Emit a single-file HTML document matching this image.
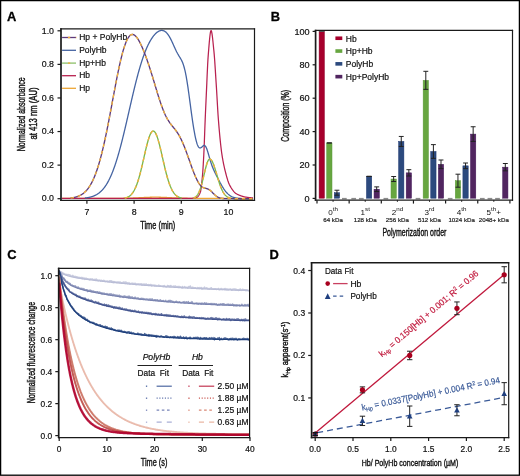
<!DOCTYPE html><html><head><meta charset="utf-8"><style>html,body{margin:0;padding:0;background:#fff}svg{display:block;will-change:transform}text{font-family:"Liberation Sans",sans-serif}</style></head><body>
<svg width="520" height="476" viewBox="0 0 520 476">
<rect x="0" y="0" width="520" height="476" fill="#fff"/>
<g fill="none" stroke-linejoin="round">
<path d="M61.88 198.36L62.16 198.36L62.43 198.36L62.7 198.36L62.98 198.36L63.25 198.36L63.52 198.36L63.8 198.36L64.07 198.36L64.35 198.36L64.62 198.36L64.89 198.36L65.17 198.36L65.44 198.36L65.71 198.36L65.99 198.36L66.26 198.36L66.53 198.36L66.81 198.36L67.08 198.36L67.35 198.36L67.63 198.36L67.9 198.36L68.17 198.36L68.45 198.36L68.72 198.36L68.99 198.36L69.27 198.36L69.54 198.36L69.81 198.36L70.09 198.36L70.36 198.36L70.64 198.36L70.91 198.36L71.18 198.36L71.46 198.36L71.73 198.36L72 198.36L72.28 198.36L72.55 198.36L72.82 198.36L73.1 198.36L73.37 198.36L73.64 198.36L73.92 198.36L74.19 198.36L74.46 198.36L74.74 198.36L75.01 198.36L75.28 198.36L75.56 198.36L75.83 198.36L76.1 198.36L76.38 198.36L76.65 198.36L76.93 198.36L77.2 198.36L77.47 198.36L77.75 198.36L78.02 198.36L78.29 198.36L78.57 198.36L78.84 198.36L79.11 198.36L79.39 198.36L79.66 198.36L79.93 198.36L80.21 198.36L80.48 198.36L80.75 198.36L81.03 198.36L81.3 198.36L81.57 198.36L81.85 198.36L82.12 198.36L82.39 198.36L82.67 198.36L82.94 198.36L83.22 198.36L83.49 198.36L83.76 198.36L84.04 198.36L84.31 198.36L84.58 198.36L84.86 198.36L85.13 198.36L85.4 198.36L85.68 198.36L85.95 198.36L86.22 198.36L86.5 198.36L86.77 198.36L87.04 198.36L87.32 198.36L87.59 198.36L87.86 198.36L88.14 198.36L88.41 198.36L88.68 198.36L88.96 198.36L89.23 198.36L89.51 198.36L89.78 198.36L90.05 198.36L90.33 198.36L90.6 198.36L90.87 198.36L91.15 198.36L91.42 198.36L91.69 198.36L91.97 198.36L92.24 198.36L92.51 198.36L92.79 198.36L93.06 198.36L93.33 198.36L93.61 198.36L93.88 198.36L94.15 198.36L94.43 198.36L94.7 198.36L94.97 198.36L95.25 198.36L95.52 198.36L95.8 198.36L96.07 198.36L96.34 198.36L96.62 198.36L96.89 198.36L97.16 198.36L97.44 198.36L97.71 198.36L97.98 198.36L98.26 198.36L98.53 198.36L98.8 198.36L99.08 198.36L99.35 198.36L99.62 198.36L99.9 198.36L100.17 198.36L100.44 198.36L100.72 198.36L100.99 198.36L101.26 198.36L101.54 198.36L101.81 198.36L102.09 198.36L102.36 198.36L102.63 198.36L102.91 198.36L103.18 198.36L103.45 198.36L103.73 198.36L104 198.36L104.27 198.36L104.55 198.36L104.82 198.36L105.09 198.36L105.37 198.36L105.64 198.36L105.91 198.36L106.19 198.36L106.46 198.36L106.73 198.36L107.01 198.36L107.28 198.36L107.55 198.36L107.83 198.36L108.1 198.36L108.37 198.36L108.65 198.36L108.92 198.36L109.2 198.36L109.47 198.36L109.74 198.36L110.02 198.36L110.29 198.36L110.56 198.36L110.84 198.36L111.11 198.36L111.38 198.35L111.66 198.35L111.93 198.35L112.2 198.35L112.48 198.35L112.75 198.35L113.02 198.35L113.3 198.35L113.57 198.35L113.84 198.35L114.12 198.35L114.39 198.35L114.66 198.35L114.94 198.34L115.21 198.34L115.49 198.34L115.76 198.34L116.03 198.34L116.31 198.34L116.58 198.34L116.85 198.33L117.13 198.33L117.4 198.33L117.67 198.33L117.95 198.33L118.22 198.33L118.49 198.32L118.77 198.32L119.04 198.32L119.31 198.32L119.59 198.32L119.86 198.31L120.13 198.31L120.41 198.31L120.68 198.31L120.95 198.3L121.23 198.3L121.5 198.3L121.78 198.29L122.05 198.29L122.32 198.29L122.6 198.28L122.87 198.28L123.14 198.28L123.42 198.27L123.69 198.27L123.96 198.26L124.24 198.26L124.51 198.25L124.78 198.25L125.06 198.24L125.33 198.24L125.6 198.23L125.88 198.23L126.15 198.22L126.42 198.22L126.7 198.21L126.97 198.21L127.24 198.2L127.52 198.19L127.79 198.19L128.07 198.18L128.34 198.17L128.61 198.17L128.89 198.16L129.16 198.15L129.43 198.14L129.71 198.14L129.98 198.13L130.25 198.12L130.53 198.11L130.8 198.1L131.07 198.09L131.35 198.08L131.62 198.08L131.89 198.07L132.17 198.06L132.44 198.05L132.71 198.04L132.99 198.03L133.26 198.02L133.53 198.01L133.81 197.99L134.08 197.98L134.36 197.97L134.63 197.96L134.9 197.95L135.18 197.94L135.45 197.93L135.72 197.91L136 197.9L136.27 197.89L136.54 197.88L136.82 197.86L137.09 197.85L137.36 197.84L137.64 197.83L137.91 197.81L138.18 197.8L138.46 197.79L138.73 197.77L139 197.76L139.28 197.75L139.55 197.73L139.82 197.72L140.1 197.71L140.37 197.69L140.65 197.68L140.92 197.66L141.19 197.65L141.47 197.64L141.74 197.62L142.01 197.61L142.29 197.6L142.56 197.58L142.83 197.57L143.11 197.55L143.38 197.54L143.65 197.53L143.93 197.51L144.2 197.5L144.47 197.49L144.75 197.48L145.02 197.46L145.29 197.45L145.57 197.44L145.84 197.43L146.11 197.41L146.39 197.4L146.66 197.39L146.94 197.38L147.21 197.37L147.48 197.36L147.76 197.35L148.03 197.34L148.3 197.33L148.58 197.32L148.85 197.31L149.12 197.3L149.4 197.29L149.67 197.28L149.94 197.27L150.22 197.26L150.49 197.26L150.76 197.25L151.04 197.24L151.31 197.24L151.58 197.23L151.86 197.22L152.13 197.22L152.4 197.21L152.68 197.21L152.95 197.21L153.23 197.2L153.5 197.2L153.77 197.2L154.05 197.19L154.32 197.19L154.59 197.19L154.87 197.19L155.14 197.19L155.41 197.19L155.69 197.19L155.96 197.19L156.23 197.19L156.51 197.19L156.78 197.19L157.05 197.2L157.33 197.2L157.6 197.2L157.87 197.21L158.15 197.21L158.42 197.22L158.69 197.22L158.97 197.23L159.24 197.23L159.52 197.24L159.79 197.25L160.06 197.25L160.34 197.26L160.61 197.27L160.88 197.28L161.16 197.28L161.43 197.29L161.7 197.3L161.98 197.31L162.25 197.32L162.52 197.33L162.8 197.34L163.07 197.35L163.34 197.36L163.62 197.37L163.89 197.38L164.16 197.4L164.44 197.41L164.71 197.42L164.98 197.43L165.26 197.44L165.53 197.46L165.81 197.47L166.08 197.48L166.35 197.5L166.63 197.51L166.9 197.52L167.17 197.54L167.45 197.55L167.72 197.56L167.99 197.58L168.27 197.59L168.54 197.6L168.81 197.62L169.09 197.63L169.36 197.64L169.63 197.66L169.91 197.67L170.18 197.69L170.45 197.7L170.73 197.71L171 197.73L171.27 197.74L171.55 197.75L171.82 197.77L172.09 197.78L172.37 197.79L172.64 197.81L172.92 197.82L173.19 197.83L173.46 197.85L173.74 197.86L174.01 197.87L174.28 197.88L174.56 197.9L174.83 197.91L175.1 197.92L175.38 197.93L175.65 197.94L175.92 197.96L176.2 197.97L176.47 197.98L176.74 197.99L177.02 198L177.29 198.01L177.56 198.02L177.84 198.03L178.11 198.04L178.38 198.05L178.66 198.06L178.93 198.07L179.21 198.08L179.48 198.09L179.75 198.1L180.03 198.11L180.3 198.12L180.57 198.12L180.85 198.13L181.12 198.14L181.39 198.15L181.67 198.16L181.94 198.16L182.21 198.17L182.49 198.18L182.76 198.18L183.03 198.19L183.31 198.2L183.58 198.2L183.85 198.21L184.13 198.22L184.4 198.22L184.67 198.23L184.95 198.23L185.22 198.24L185.5 198.24L185.77 198.25L186.04 198.25L186.32 198.26L186.59 198.26L186.86 198.27L187.14 198.27L187.41 198.27L187.68 198.28L187.96 198.28L188.23 198.29L188.5 198.29L188.78 198.29L189.05 198.3L189.32 198.3L189.6 198.3L189.87 198.3L190.14 198.31L190.42 198.31L190.69 198.31L190.96 198.31L191.24 198.32L191.51 198.32L191.79 198.32L192.06 198.32L192.33 198.33L192.61 198.33L192.88 198.33L193.15 198.33L193.43 198.33L193.7 198.33L193.97 198.34L194.25 198.34L194.52 198.34L194.79 198.34L195.07 198.34L195.34 198.34L195.61 198.34L195.89 198.34L196.16 198.35L196.43 198.35L196.71 198.35L196.98 198.35L197.25 198.35L197.53 198.35L197.8 198.35L198.08 198.35L198.35 198.35L198.62 198.35L198.9 198.35L199.17 198.35L199.44 198.36L199.72 198.36L199.99 198.36L200.26 198.36L200.54 198.36L200.81 198.36L201.08 198.36L201.36 198.36L201.63 198.36L201.9 198.36L202.18 198.36L202.45 198.36L202.72 198.36L203 198.36L203.27 198.36L203.54 198.36L203.82 198.36L204.09 198.36L204.37 198.36L204.64 198.36L204.91 198.36L205.19 198.36L205.46 198.36L205.73 198.36L206.01 198.36L206.28 198.36L206.55 198.36L206.83 198.36L207.1 198.36L207.37 198.36L207.65 198.36L207.92 198.36L208.19 198.36L208.47 198.36L208.74 198.36L209.01 198.36L209.29 198.36L209.56 198.36L209.83 198.36L210.11 198.36L210.38 198.36L210.66 198.36L210.93 198.36L211.2 198.36L211.48 198.36L211.75 198.36L212.02 198.36L212.3 198.36L212.57 198.36L212.84 198.36L213.12 198.36L213.39 198.36L213.66 198.36L213.94 198.36L214.21 198.36L214.48 198.36L214.76 198.36L215.03 198.36L215.3 198.36L215.58 198.36L215.85 198.36L216.12 198.36L216.4 198.36L216.67 198.36L216.95 198.36L217.22 198.36L217.49 198.36L217.77 198.36L218.04 198.36L218.31 198.36L218.59 198.36L218.86 198.36L219.13 198.36L219.41 198.36L219.68 198.36L219.95 198.36L220.23 198.36L220.5 198.36L220.77 198.36L221.05 198.36L221.32 198.36L221.59 198.36L221.87 198.36L222.14 198.36L222.41 198.36L222.69 198.36L222.96 198.36L223.24 198.36L223.51 198.36L223.78 198.36L224.06 198.36L224.33 198.36L224.6 198.36L224.88 198.36L225.15 198.36L225.42 198.36L225.7 198.36L225.97 198.36L226.24 198.36L226.52 198.36L226.79 198.36L227.06 198.36L227.34 198.36L227.61 198.36L227.88 198.36L228.16 198.36L228.43 198.36L228.7 198.36L228.98 198.36L229.25 198.36L229.53 198.36L229.8 198.36L230.07 198.36L230.35 198.36L230.62 198.36L230.89 198.36L231.17 198.36L231.44 198.36L231.71 198.36L231.99 198.36L232.26 198.36L232.53 198.36L232.81 198.36L233.08 198.36L233.35 198.36L233.63 198.36L233.9 198.36L234.17 198.36L234.45 198.36L234.72 198.36L234.99 198.36L235.27 198.36L235.54 198.36L235.81 198.36L236.09 198.36L236.36 198.36L236.64 198.36L236.91 198.36L237.18 198.36L237.46 198.36L237.73 198.36L238 198.36L238.28 198.36L238.55 198.36L238.82 198.36L239.1 198.36L239.37 198.36L239.64 198.36L239.92 198.36L240.19 198.36L240.46 198.36L240.74 198.36L241.01 198.36L241.28 198.36L241.56 198.36L241.83 198.36L242.1 198.36L242.38 198.36L242.65 198.36L242.93 198.36L243.2 198.36L243.47 198.36L243.75 198.36L244.02 198.36L244.29 198.36L244.57 198.36L244.84 198.36L245.11 198.36L245.39 198.36L245.66 198.36L245.93 198.36L246.21 198.36L246.48 198.36L246.75 198.36L247.03 198.36L247.3 198.36L247.57 198.36L247.85 198.36L248.12 198.36L248.39 198.36L248.67 198.36L248.94 198.36L249.22 198.36L249.49 198.36L249.76 198.36L250.04 198.36L250.31 198.36L250.58 198.36L250.86 198.36L251.13 198.36L251.4 198.36L251.68 198.36L251.95 198.36L252.22 198.36L252.5 198.36L252.77 198.36L253.04 198.36" stroke="#eea634" stroke-width="1.3"/>
<path d="M61.88 198.45L62.16 198.45L62.43 198.45L62.7 198.45L62.98 198.45L63.25 198.45L63.52 198.45L63.8 198.45L64.07 198.45L64.35 198.45L64.62 198.45L64.89 198.45L65.17 198.45L65.44 198.45L65.71 198.45L65.99 198.45L66.26 198.45L66.53 198.45L66.81 198.45L67.08 198.45L67.35 198.45L67.63 198.45L67.9 198.45L68.17 198.45L68.45 198.45L68.72 198.45L68.99 198.45L69.27 198.45L69.54 198.45L69.81 198.45L70.09 198.45L70.36 198.45L70.64 198.45L70.91 198.45L71.18 198.45L71.46 198.45L71.73 198.45L72 198.45L72.28 198.45L72.55 198.45L72.82 198.45L73.1 198.45L73.37 198.45L73.64 198.45L73.92 198.45L74.19 198.45L74.46 198.45L74.74 198.45L75.01 198.45L75.28 198.45L75.56 198.45L75.83 198.45L76.1 198.45L76.38 198.45L76.65 198.45L76.93 198.45L77.2 198.45L77.47 198.45L77.75 198.45L78.02 198.45L78.29 198.45L78.57 198.45L78.84 198.45L79.11 198.45L79.39 198.45L79.66 198.45L79.93 198.45L80.21 198.45L80.48 198.45L80.75 198.45L81.03 198.45L81.3 198.45L81.57 198.45L81.85 198.45L82.12 198.45L82.39 198.45L82.67 198.45L82.94 198.45L83.22 198.45L83.49 198.45L83.76 198.45L84.04 198.45L84.31 198.45L84.58 198.45L84.86 198.45L85.13 198.45L85.4 198.45L85.68 198.45L85.95 198.45L86.22 198.45L86.5 198.45L86.77 198.45L87.04 198.45L87.32 198.45L87.59 198.45L87.86 198.45L88.14 198.45L88.41 198.45L88.68 198.45L88.96 198.45L89.23 198.45L89.51 198.45L89.78 198.45L90.05 198.45L90.33 198.45L90.6 198.45L90.87 198.45L91.15 198.45L91.42 198.45L91.69 198.45L91.97 198.45L92.24 198.45L92.51 198.45L92.79 198.45L93.06 198.45L93.33 198.45L93.61 198.45L93.88 198.45L94.15 198.45L94.43 198.45L94.7 198.45L94.97 198.45L95.25 198.45L95.52 198.45L95.8 198.45L96.07 198.45L96.34 198.45L96.62 198.45L96.89 198.45L97.16 198.45L97.44 198.45L97.71 198.45L97.98 198.45L98.26 198.45L98.53 198.45L98.8 198.45L99.08 198.45L99.35 198.45L99.62 198.45L99.9 198.45L100.17 198.45L100.44 198.45L100.72 198.45L100.99 198.45L101.26 198.45L101.54 198.45L101.81 198.45L102.09 198.45L102.36 198.45L102.63 198.45L102.91 198.45L103.18 198.45L103.45 198.45L103.73 198.45L104 198.45L104.27 198.45L104.55 198.45L104.82 198.45L105.09 198.45L105.37 198.45L105.64 198.45L105.91 198.45L106.19 198.45L106.46 198.45L106.73 198.45L107.01 198.45L107.28 198.45L107.55 198.45L107.83 198.45L108.1 198.45L108.37 198.45L108.65 198.45L108.92 198.45L109.2 198.45L109.47 198.45L109.74 198.45L110.02 198.45L110.29 198.45L110.56 198.45L110.84 198.45L111.11 198.45L111.38 198.45L111.66 198.45L111.93 198.45L112.2 198.45L112.48 198.45L112.75 198.45L113.02 198.45L113.3 198.45L113.57 198.45L113.84 198.45L114.12 198.45L114.39 198.45L114.66 198.45L114.94 198.45L115.21 198.45L115.49 198.45L115.76 198.45L116.03 198.45L116.31 198.45L116.58 198.45L116.85 198.45L117.13 198.45L117.4 198.45L117.67 198.45L117.95 198.45L118.22 198.45L118.49 198.45L118.77 198.45L119.04 198.45L119.31 198.45L119.59 198.45L119.86 198.45L120.13 198.45L120.41 198.45L120.68 198.45L120.95 198.45L121.23 198.45L121.5 198.45L121.78 198.45L122.05 198.45L122.32 198.45L122.6 198.45L122.87 198.45L123.14 198.45L123.42 198.45L123.69 198.45L123.96 198.45L124.24 198.45L124.51 198.45L124.78 198.45L125.06 198.45L125.33 198.45L125.6 198.45L125.88 198.45L126.15 198.45L126.42 198.45L126.7 198.45L126.97 198.45L127.24 198.45L127.52 198.45L127.79 198.45L128.07 198.45L128.34 198.45L128.61 198.45L128.89 198.45L129.16 198.45L129.43 198.45L129.71 198.45L129.98 198.45L130.25 198.45L130.53 198.45L130.8 198.45L131.07 198.45L131.35 198.45L131.62 198.45L131.89 198.45L132.17 198.45L132.44 198.45L132.71 198.45L132.99 198.45L133.26 198.45L133.53 198.45L133.81 198.45L134.08 198.45L134.36 198.45L134.63 198.45L134.9 198.45L135.18 198.45L135.45 198.45L135.72 198.45L136 198.45L136.27 198.45L136.54 198.45L136.82 198.45L137.09 198.45L137.36 198.45L137.64 198.45L137.91 198.45L138.18 198.45L138.46 198.45L138.73 198.45L139 198.45L139.28 198.45L139.55 198.45L139.82 198.45L140.1 198.45L140.37 198.45L140.65 198.45L140.92 198.45L141.19 198.45L141.47 198.45L141.74 198.45L142.01 198.45L142.29 198.45L142.56 198.45L142.83 198.45L143.11 198.45L143.38 198.45L143.65 198.45L143.93 198.45L144.2 198.45L144.47 198.45L144.75 198.45L145.02 198.45L145.29 198.45L145.57 198.45L145.84 198.45L146.11 198.45L146.39 198.45L146.66 198.45L146.94 198.45L147.21 198.45L147.48 198.45L147.76 198.45L148.03 198.45L148.3 198.45L148.58 198.45L148.85 198.45L149.12 198.45L149.4 198.45L149.67 198.45L149.94 198.45L150.22 198.45L150.49 198.45L150.76 198.45L151.04 198.45L151.31 198.45L151.58 198.45L151.86 198.45L152.13 198.45L152.4 198.45L152.68 198.45L152.95 198.45L153.23 198.45L153.5 198.45L153.77 198.45L154.05 198.45L154.32 198.45L154.59 198.45L154.87 198.45L155.14 198.45L155.41 198.45L155.69 198.45L155.96 198.45L156.23 198.45L156.51 198.45L156.78 198.45L157.05 198.45L157.33 198.45L157.6 198.45L157.87 198.45L158.15 198.45L158.42 198.45L158.69 198.45L158.97 198.45L159.24 198.45L159.52 198.45L159.79 198.45L160.06 198.45L160.34 198.45L160.61 198.45L160.88 198.45L161.16 198.45L161.43 198.45L161.7 198.45L161.98 198.45L162.25 198.45L162.52 198.45L162.8 198.45L163.07 198.45L163.34 198.45L163.62 198.45L163.89 198.45L164.16 198.45L164.44 198.45L164.71 198.45L164.98 198.45L165.26 198.45L165.53 198.45L165.81 198.45L166.08 198.45L166.35 198.45L166.63 198.45L166.9 198.45L167.17 198.45L167.45 198.45L167.72 198.45L167.99 198.45L168.27 198.45L168.54 198.45L168.81 198.45L169.09 198.45L169.36 198.45L169.63 198.45L169.91 198.45L170.18 198.45L170.45 198.45L170.73 198.45L171 198.45L171.27 198.45L171.55 198.45L171.82 198.45L172.09 198.45L172.37 198.45L172.64 198.45L172.92 198.45L173.19 198.45L173.46 198.45L173.74 198.45L174.01 198.45L174.28 198.45L174.56 198.45L174.83 198.45L175.1 198.45L175.38 198.45L175.65 198.45L175.92 198.45L176.2 198.45L176.47 198.45L176.74 198.45L177.02 198.45L177.29 198.45L177.56 198.45L177.84 198.45L178.11 198.45L178.38 198.45L178.66 198.45L178.93 198.45L179.21 198.45L179.48 198.45L179.75 198.45L180.03 198.45L180.3 198.45L180.57 198.45L180.85 198.45L181.12 198.45L181.39 198.45L181.67 198.45L181.94 198.45L182.21 198.45L182.49 198.45L182.76 198.45L183.03 198.45L183.31 198.44L183.58 198.44L183.85 198.44L184.13 198.44L184.4 198.44L184.67 198.44L184.95 198.44L185.22 198.43L185.5 198.43L185.77 198.43L186.04 198.43L186.32 198.42L186.59 198.42L186.86 198.42L187.14 198.42L187.41 198.41L187.68 198.41L187.96 198.41L188.23 198.4L188.5 198.4L188.78 198.4L189.05 198.39L189.32 198.39L189.6 198.38L189.87 198.38L190.14 198.37L190.42 198.37L190.69 198.37L190.96 198.36L191.24 198.35L191.51 198.34L191.79 198.32L192.06 198.3L192.33 198.27L192.61 198.24L192.88 198.21L193.15 198.17L193.43 198.13L193.7 198.09L193.97 198.04L194.25 197.98L194.52 197.93L194.79 197.87L195.07 197.8L195.34 197.73L195.61 197.66L195.89 197.58L196.16 197.5L196.43 197.42L196.71 197.33L196.98 197.23L197.25 197.1L197.53 196.91L197.8 196.68L198.08 196.4L198.35 196.07L198.62 195.69L198.9 195.26L199.17 194.78L199.44 194.26L199.72 193.68L199.99 193.06L200.26 192.39L200.54 191.53L200.81 190.23L201.08 188.52L201.36 186.48L201.63 184.16L201.9 181.61L202.18 178.9L202.45 176.06L202.72 172.73L203 168.77L203.27 164.3L203.54 159.41L203.82 154.22L204.09 148.24L204.37 141.31L204.64 133.91L204.91 126.53L205.19 119.65L205.46 113.27L205.73 107.09L206.01 101.05L206.28 95.13L206.55 89.12L206.83 82.85L207.1 76.55L207.37 70.47L207.65 64.84L207.92 59.89L208.19 55.86L208.47 52.4L208.74 48.95L209.01 45.6L209.29 42.4L209.56 39.44L209.83 36.78L210.11 34.5L210.38 32.68L210.66 31.37L210.93 30.66L211.2 30.61L211.48 31.18L211.75 32.28L212.02 33.85L212.3 35.8L212.57 38.06L212.84 40.55L213.12 43.21L213.39 45.94L213.66 48.69L213.94 51.38L214.21 54.39L214.48 57.81L214.76 61.57L215.03 65.59L215.3 69.79L215.58 74.1L215.85 78.42L216.12 82.69L216.4 86.94L216.67 91.48L216.95 96.22L217.22 101.04L217.49 105.81L217.77 110.41L218.04 114.71L218.31 118.58L218.59 122.03L218.86 125.35L219.13 128.58L219.41 131.7L219.68 134.71L219.95 137.61L220.23 140.38L220.5 143.03L220.77 145.54L221.05 147.91L221.32 150.13L221.59 152.21L221.87 154.13L222.14 155.91L222.41 157.61L222.69 159.23L222.96 160.76L223.24 162.22L223.51 163.62L223.78 164.95L224.06 166.23L224.33 167.45L224.6 168.63L224.88 169.76L225.15 170.86L225.42 171.93L225.7 172.99L225.97 174.03L226.24 175.06L226.52 176.07L226.79 177.05L227.06 178.01L227.34 178.94L227.61 179.83L227.88 180.69L228.16 181.51L228.43 182.28L228.7 183.01L228.98 183.69L229.25 184.32L229.53 184.89L229.8 185.4L230.07 185.9L230.35 186.39L230.62 186.86L230.89 187.33L231.17 187.78L231.44 188.22L231.71 188.65L231.99 189.07L232.26 189.47L232.53 189.86L232.81 190.24L233.08 190.6L233.35 190.95L233.63 191.29L233.9 191.61L234.17 191.91L234.45 192.2L234.72 192.47L234.99 192.73L235.27 192.97L235.54 193.2L235.81 193.4L236.09 193.6L236.36 193.77L236.64 193.92L236.91 194.07L237.18 194.21L237.46 194.35L237.73 194.49L238 194.62L238.28 194.75L238.55 194.87L238.82 195L239.1 195.11L239.37 195.23L239.64 195.34L239.92 195.45L240.19 195.56L240.46 195.66L240.74 195.76L241.01 195.86L241.28 195.96L241.56 196.05L241.83 196.14L242.1 196.22L242.38 196.3L242.65 196.38L242.93 196.46L243.2 196.54L243.47 196.61L243.75 196.68L244.02 196.74L244.29 196.8L244.57 196.86L244.84 196.92L245.11 196.98L245.39 197.03L245.66 197.08L245.93 197.13L246.21 197.17L246.48 197.21L246.75 197.25L247.03 197.29L247.3 197.33L247.57 197.36L247.85 197.4L248.12 197.43L248.39 197.47L248.67 197.5L248.94 197.54L249.22 197.57L249.49 197.6L249.76 197.64L250.04 197.67L250.31 197.7L250.58 197.73L250.86 197.76L251.13 197.79L251.4 197.81L251.68 197.84L251.95 197.87L252.22 197.89L252.5 197.92L252.77 197.94L253.04 197.96" stroke="#b8214f" stroke-width="1.25"/>
<path d="M84.86 198.05L85.13 198.02L85.4 197.99L85.68 197.95L85.95 197.92L86.22 197.88L86.5 197.84L86.77 197.8L87.04 197.76L87.32 197.71L87.59 197.67L87.86 197.62L88.14 197.57L88.41 197.52L88.68 197.46L88.96 197.41L89.23 197.35L89.51 197.29L89.78 197.22L90.05 197.16L90.33 197.09L90.6 197.02L90.87 196.94L91.15 196.87L91.42 196.79L91.69 196.7L91.97 196.62L92.24 196.53L92.51 196.44L92.79 196.34L93.06 196.24L93.33 196.14L93.61 196.03L93.88 195.92L94.15 195.81L94.43 195.69L94.7 195.57L94.97 195.44L95.25 195.31L95.52 195.17L95.8 195.03L96.07 194.89L96.34 194.73L96.62 194.58L96.89 194.42L97.16 194.25L97.44 194.08L97.71 193.9L97.98 193.72L98.26 193.53L98.53 193.34L98.8 193.14L99.08 192.93L99.35 192.72L99.62 192.5L99.9 192.27L100.17 192.04L100.44 191.8L100.72 191.55L100.99 191.3L101.26 191.03L101.54 190.76L101.81 190.49L102.09 190.2L102.36 189.91L102.63 189.6L102.91 189.29L103.18 188.98L103.45 188.65L103.73 188.31L104 187.97L104.27 187.61L104.55 187.25L104.82 186.88L105.09 186.5L105.37 186.1L105.64 185.7L105.91 185.29L106.19 184.87L106.46 184.44L106.73 184L107.01 183.54L107.28 183.08L107.55 182.61L107.83 182.12L108.1 181.63L108.37 181.12L108.65 180.6L108.92 180.07L109.2 179.53L109.47 178.98L109.74 178.42L110.02 177.84L110.29 177.26L110.56 176.66L110.84 176.05L111.11 175.43L111.38 174.79L111.66 174.14L111.93 173.49L112.2 172.82L112.48 172.13L112.75 171.44L113.02 170.73L113.3 170.01L113.57 169.28L113.84 168.53L114.12 167.78L114.39 167.01L114.66 166.22L114.94 165.43L115.21 164.62L115.49 163.81L115.76 162.98L116.03 162.13L116.31 161.28L116.58 160.41L116.85 159.53L117.13 158.64L117.4 157.74L117.67 156.83L117.95 155.9L118.22 154.97L118.49 154.02L118.77 153.06L119.04 152.09L119.31 151.11L119.59 150.12L119.86 149.12L120.13 148.11L120.41 147.08L120.68 146.05L120.95 145.01L121.23 143.96L121.5 142.9L121.78 141.83L122.05 140.75L122.32 139.67L122.6 138.57L122.87 137.47L123.14 136.36L123.42 135.25L123.69 134.12L123.96 132.99L124.24 131.85L124.51 130.71L124.78 129.56L125.06 128.4L125.33 127.24L125.6 126.08L125.88 124.91L126.15 123.74L126.42 122.56L126.7 121.38L126.97 120.19L127.24 119L127.52 117.82L127.79 116.62L128.07 115.43L128.34 114.24L128.61 113.04L128.89 111.84L129.16 110.65L129.43 109.45L129.71 108.26L129.98 107.06L130.25 105.87L130.53 104.68L130.8 103.49L131.07 102.3L131.35 101.12L131.62 99.94L131.89 98.76L132.17 97.59L132.44 96.42L132.71 95.25L132.99 94.09L133.26 92.94L133.53 91.79L133.81 90.65L134.08 89.51L134.36 88.38L134.63 87.26L134.9 86.15L135.18 85.04L135.45 83.94L135.72 82.85L136 81.76L136.27 80.69L136.54 79.63L136.82 78.57L137.09 77.52L137.36 76.49L137.64 75.46L137.91 74.44L138.18 73.44L138.46 72.44L138.73 71.46L139 70.48L139.28 69.52L139.55 68.57L139.82 67.63L140.1 66.7L140.37 65.79L140.65 64.88L140.92 63.99L141.19 63.11L141.47 62.24L141.74 61.38L142.01 60.54L142.29 59.71L142.56 58.89L142.83 58.08L143.11 57.29L143.38 56.51L143.65 55.74L143.93 54.98L144.2 54.24L144.47 53.5L144.75 52.78L145.02 52.08L145.29 51.38L145.57 50.7L145.84 50.03L146.11 49.37L146.39 48.73L146.66 48.09L146.94 47.47L147.21 46.86L147.48 46.26L147.76 45.68L148.03 45.1L148.3 44.54L148.58 43.99L148.85 43.45L149.12 42.92L149.4 42.41L149.67 41.9L149.94 41.41L150.22 40.92L150.49 40.45L150.76 39.99L151.04 39.54L151.31 39.1L151.58 38.67L151.86 38.26L152.13 37.85L152.4 37.45L152.68 37.07L152.95 36.69L153.23 36.33L153.5 35.97L153.77 35.63L154.05 35.3L154.32 34.97L154.59 34.66L154.87 34.36L155.14 34.07L155.41 33.79L155.69 33.51L155.96 33.25L156.23 33.01L156.51 32.77L156.78 32.54L157.05 32.32L157.33 32.12L157.6 31.92L157.87 31.74L158.15 31.57L158.42 31.4L158.69 31.25L158.97 31.12L159.24 30.99L159.52 30.88L159.79 30.78L160.06 30.69L160.34 30.61L160.61 30.55L160.88 30.5L161.16 30.46L161.43 30.44L161.7 30.43L161.98 30.43L162.25 30.45L162.52 30.49L162.8 30.53L163.07 30.6L163.34 30.67L163.62 30.77L163.89 30.88L164.16 31L164.44 31.14L164.71 31.3L164.98 31.47L165.26 31.67L165.53 31.87L165.81 32.1L166.08 32.34L166.35 32.6L166.63 32.88L166.9 33.17L167.17 33.48L167.45 33.81L167.72 34.16L167.99 34.53L168.27 34.91L168.54 35.31L168.81 35.73L169.09 36.16L169.36 36.61L169.63 37.08L169.91 37.57L170.18 38.06L170.45 38.58L170.73 39.1L171 39.64L171.27 40.2L171.55 40.76L171.82 41.34L172.09 41.92L172.37 42.51L172.64 43.11L172.92 43.71L173.19 44.32L173.46 44.93L173.74 45.55L174.01 46.16L174.28 46.77L174.56 47.38L174.83 47.98L175.1 48.58L175.38 49.17L175.65 49.75L175.92 50.33L176.2 50.89L176.47 51.44L176.74 51.98L177.02 52.51L177.29 53.02L177.56 53.52L177.84 54.01L178.11 54.49L178.38 54.96L178.66 55.42L178.93 55.87L179.21 56.31L179.48 56.75L179.75 57.2L180.03 57.64L180.3 58.09L180.57 58.55L180.85 59.02L181.12 59.51L181.39 60.02L181.67 60.55L181.94 61.12L182.21 61.72L182.49 62.36L182.76 63.04L183.03 63.76L183.31 64.54L183.58 65.37L183.85 66.26L184.13 67.22L184.4 68.23L184.67 69.31L184.95 70.46L185.22 71.68L185.5 72.96L185.77 74.32L186.04 75.74L186.32 77.23L186.59 78.79L186.86 80.41L187.14 82.09L187.41 83.83L187.68 85.63L187.96 87.47L188.23 89.36L188.5 91.29L188.78 93.25L189.05 95.25L189.32 97.27L189.6 99.3L189.87 101.35L190.14 103.41L190.42 105.46L190.69 107.51L190.96 109.55L191.24 111.57L191.51 113.58L191.79 115.55L192.06 117.5L192.33 119.41L192.61 121.28L192.88 123.1L193.15 124.88L193.43 126.61L193.7 128.29L193.97 129.91L194.25 131.47L194.52 132.97L194.79 134.41L195.07 135.78L195.34 137.09L195.61 138.33L195.89 139.5L196.16 140.6L196.43 141.62L196.71 142.57L196.98 143.44L197.25 144.24L197.53 144.96L197.8 145.6L198.08 146.17L198.35 146.65L198.62 147.06L198.9 147.39L199.17 147.65L199.44 147.83L199.72 147.94L199.99 147.98L200.26 147.97L200.54 147.89L200.81 147.77L201.08 147.6L201.36 147.39L201.63 147.16L201.9 146.91L202.18 146.65L202.45 146.4L202.72 146.15L203 145.93L203.27 145.74L203.54 145.58L203.82 145.48L204.09 145.44L204.37 145.46L204.64 145.55L204.91 145.72L205.19 145.96L205.46 146.28L205.73 146.68L206.01 147.16L206.28 147.71L206.55 148.34L206.83 149.03L207.1 149.78L207.37 150.59L207.65 151.44L207.92 152.33L208.19 153.25L208.47 154.19L208.74 155.15L209.01 156.12L209.29 157.08L209.56 158.04L209.83 158.99L210.11 159.92L210.38 160.83L210.66 161.72L210.93 162.58L211.2 163.42L211.48 164.23L211.75 165.01L212.02 165.76L212.3 166.49L212.57 167.19L212.84 167.87L213.12 168.52L213.39 169.16L213.66 169.78L213.94 170.38L214.21 170.97L214.48 171.55L214.76 172.12L215.03 172.68L215.3 173.24L215.58 173.79L215.85 174.33L216.12 174.87L216.4 175.41L216.67 175.95L216.95 176.49L217.22 177.02L217.49 177.56L217.77 178.09L218.04 178.62L218.31 179.15L218.59 179.68L218.86 180.21L219.13 180.73L219.41 181.25L219.68 181.77L219.95 182.29L220.23 182.8L220.5 183.3L220.77 183.8L221.05 184.3L221.32 184.79L221.59 185.27L221.87 185.75L222.14 186.21L222.41 186.68L222.69 187.13L222.96 187.57L223.24 188.01L223.51 188.43L223.78 188.85L224.06 189.26L224.33 189.66L224.6 190.04L224.88 190.42L225.15 190.79L225.42 191.14L225.7 191.49L225.97 191.83L226.24 192.15L226.52 192.47L226.79 192.77L227.06 193.07L227.34 193.35L227.61 193.62L227.88 193.89L228.16 194.14L228.43 194.38L228.7 194.62L228.98 194.84L229.25 195.06L229.53 195.26L229.8 195.46L230.07 195.65L230.35 195.83L230.62 196L230.89 196.16L231.17 196.31L231.44 196.46L231.71 196.6L231.99 196.73L232.26 196.86L232.53 196.98L232.81 197.09L233.08 197.2L233.35 197.3L233.63 197.39L233.9 197.48L234.17 197.57L234.45 197.65L234.72 197.72L234.99 197.79L235.27 197.86L235.54 197.92L235.81 197.97L236.09 198.03L236.36 198.08L236.64 198.13L236.91 198.17L237.18 198.21L237.46 198.25L237.73 198.28L238 198.32L238.28 198.35L238.55 198.38L238.82 198.4L239.1 198.43L239.37 198.45L239.64 198.47L239.92 198.49L240.19 198.51L240.46 198.52L240.74 198.54L241.01 198.55L241.28 198.57L241.56 198.58L241.83 198.59L242.1 198.6L242.38 198.61L242.65 198.62L242.93 198.62L243.2 198.63L243.47 198.64L243.75 198.64L244.02 198.65L244.29 198.65L244.57 198.66L244.84 198.66L245.11 198.67L245.39 198.67L245.66 198.67L245.93 198.67L246.21 198.68L246.48 198.68L246.75 198.68L247.03 198.68L247.3 198.68L247.57 198.69L247.85 198.69L248.12 198.69L248.39 198.69L248.67 198.69L248.94 198.69L249.22 198.69L249.49 198.69L249.76 198.69L250.04 198.69L250.31 198.7L250.58 198.7L250.86 198.7L251.13 198.7L251.4 198.7L251.68 198.7L251.95 198.7L252.22 198.7L252.5 198.7L252.77 198.7L253.04 198.7" stroke="#4564a2" stroke-width="1.3"/>
<path d="M124.78 198.07L125.06 198.01L125.33 197.95L125.6 197.88L125.88 197.8L126.15 197.72L126.42 197.63L126.7 197.54L126.97 197.44L127.24 197.33L127.52 197.21L127.79 197.09L128.07 196.96L128.34 196.81L128.61 196.66L128.89 196.49L129.16 196.32L129.43 196.13L129.71 195.93L129.98 195.72L130.25 195.49L130.53 195.25L130.8 195L131.07 194.73L131.35 194.44L131.62 194.14L131.89 193.82L132.17 193.48L132.44 193.12L132.71 192.75L132.99 192.35L133.26 191.93L133.53 191.5L133.81 191.04L134.08 190.56L134.36 190.05L134.63 189.52L134.9 188.97L135.18 188.4L135.45 187.8L135.72 187.17L136 186.52L136.27 185.84L136.54 185.14L136.82 184.41L137.09 183.66L137.36 182.88L137.64 182.07L137.91 181.24L138.18 180.38L138.46 179.5L138.73 178.59L139 177.66L139.28 176.7L139.55 175.72L139.82 174.71L140.1 173.69L140.37 172.64L140.65 171.57L140.92 170.48L141.19 169.37L141.47 168.25L141.74 167.11L142.01 165.96L142.29 164.79L142.56 163.61L142.83 162.43L143.11 161.23L143.38 160.03L143.65 158.83L143.93 157.62L144.2 156.41L144.47 155.21L144.75 154.01L145.02 152.81L145.29 151.63L145.57 150.46L145.84 149.3L146.11 148.15L146.39 147.03L146.66 145.92L146.94 144.84L147.21 143.78L147.48 142.75L147.76 141.75L148.03 140.79L148.3 139.85L148.58 138.96L148.85 138.1L149.12 137.28L149.4 136.51L149.67 135.78L149.94 135.1L150.22 134.47L150.49 133.88L150.76 133.35L151.04 132.87L151.31 132.44L151.58 132.07L151.86 131.75L152.13 131.5L152.4 131.29L152.68 131.15L152.95 131.06L153.23 131.04L153.5 131.07L153.77 131.16L154.05 131.31L154.32 131.51L154.59 131.77L154.87 132.09L155.14 132.47L155.41 132.9L155.69 133.38L155.96 133.92L156.23 134.51L156.51 135.14L156.78 135.83L157.05 136.56L157.33 137.34L157.6 138.16L157.87 139.02L158.15 139.91L158.42 140.85L158.69 141.82L158.97 142.82L159.24 143.85L159.52 144.91L159.79 145.99L160.06 147.1L160.34 148.23L160.61 149.37L160.88 150.53L161.16 151.71L161.43 152.89L161.7 154.09L161.98 155.29L162.25 156.49L162.52 157.7L162.8 158.91L163.07 160.11L163.34 161.31L163.62 162.51L163.89 163.69L164.16 164.87L164.44 166.03L164.71 167.19L164.98 168.33L165.26 169.45L165.53 170.55L165.81 171.64L166.08 172.71L166.35 173.76L166.63 174.78L166.9 175.78L167.17 176.76L167.45 177.72L167.72 178.65L167.99 179.56L168.27 180.44L168.54 181.3L168.81 182.13L169.09 182.93L169.36 183.71L169.63 184.46L169.91 185.19L170.18 185.89L170.45 186.56L170.73 187.21L171 187.84L171.27 188.44L171.55 189.01L171.82 189.56L172.09 190.09L172.37 190.59L172.64 191.07L172.92 191.53L173.19 191.96L173.46 192.38L173.74 192.77L174.01 193.15L174.28 193.5L174.56 193.84L174.83 194.16L175.1 194.46L175.38 194.75L175.65 195.02L175.92 195.27L176.2 195.51L176.47 195.73L176.74 195.95L177.02 196.14L177.29 196.33L177.56 196.51L177.84 196.67L178.11 196.82L178.38 196.96L178.66 197.1L178.93 197.22L179.21 197.34L179.48 197.45L179.75 197.55L180.03 197.64L180.3 197.73L180.57 197.81L180.85 197.88L181.12 197.95L181.39 198.01L181.67 198.07" stroke="#7cb84e" stroke-width="1.35"/>
<path d="M124.78 198.07L125.06 198.01L125.33 197.95L125.6 197.88L125.88 197.8L126.15 197.72L126.42 197.63L126.7 197.54L126.97 197.44L127.24 197.33L127.52 197.21L127.79 197.09L128.07 196.96L128.34 196.81L128.61 196.66L128.89 196.49L129.16 196.32L129.43 196.13L129.71 195.93L129.98 195.72L130.25 195.49L130.53 195.25L130.8 195L131.07 194.73L131.35 194.44L131.62 194.14L131.89 193.82L132.17 193.48L132.44 193.12L132.71 192.75L132.99 192.35L133.26 191.93L133.53 191.5L133.81 191.04L134.08 190.56L134.36 190.05L134.63 189.52L134.9 188.97L135.18 188.4L135.45 187.8L135.72 187.17L136 186.52L136.27 185.84L136.54 185.14L136.82 184.41L137.09 183.66L137.36 182.88L137.64 182.07L137.91 181.24L138.18 180.38L138.46 179.5L138.73 178.59L139 177.66L139.28 176.7L139.55 175.72L139.82 174.71L140.1 173.69L140.37 172.64L140.65 171.57L140.92 170.48L141.19 169.37L141.47 168.25L141.74 167.11L142.01 165.96L142.29 164.79L142.56 163.61L142.83 162.43L143.11 161.23L143.38 160.03L143.65 158.83L143.93 157.62L144.2 156.41L144.47 155.21L144.75 154.01L145.02 152.81L145.29 151.63L145.57 150.46L145.84 149.3L146.11 148.15L146.39 147.03L146.66 145.92L146.94 144.84L147.21 143.78L147.48 142.75L147.76 141.75L148.03 140.79L148.3 139.85L148.58 138.96L148.85 138.1L149.12 137.28L149.4 136.51L149.67 135.78L149.94 135.1L150.22 134.47L150.49 133.88L150.76 133.35L151.04 132.87L151.31 132.44L151.58 132.07L151.86 131.75L152.13 131.5L152.4 131.29L152.68 131.15L152.95 131.06L153.23 131.04L153.5 131.07L153.77 131.16L154.05 131.31L154.32 131.51L154.59 131.77L154.87 132.09L155.14 132.47L155.41 132.9L155.69 133.38L155.96 133.92L156.23 134.51L156.51 135.14L156.78 135.83L157.05 136.56L157.33 137.34L157.6 138.16L157.87 139.02L158.15 139.91L158.42 140.85L158.69 141.82L158.97 142.82L159.24 143.85L159.52 144.91L159.79 145.99L160.06 147.1L160.34 148.23L160.61 149.37L160.88 150.53L161.16 151.71L161.43 152.89L161.7 154.09L161.98 155.29L162.25 156.49L162.52 157.7L162.8 158.91L163.07 160.11L163.34 161.31L163.62 162.51L163.89 163.69L164.16 164.87L164.44 166.03L164.71 167.19L164.98 168.33L165.26 169.45L165.53 170.55L165.81 171.64L166.08 172.71L166.35 173.76L166.63 174.78L166.9 175.78L167.17 176.76L167.45 177.72L167.72 178.65L167.99 179.56L168.27 180.44L168.54 181.3L168.81 182.13L169.09 182.93L169.36 183.71L169.63 184.46L169.91 185.19L170.18 185.89L170.45 186.56L170.73 187.21L171 187.84L171.27 188.44L171.55 189.01L171.82 189.56L172.09 190.09L172.37 190.59L172.64 191.07L172.92 191.53L173.19 191.96L173.46 192.38L173.74 192.77L174.01 193.15L174.28 193.5L174.56 193.84L174.83 194.16L175.1 194.46L175.38 194.75L175.65 195.02L175.92 195.27L176.2 195.51L176.47 195.73L176.74 195.95L177.02 196.14L177.29 196.33L177.56 196.51L177.84 196.67L178.11 196.82L178.38 196.96L178.66 197.1L178.93 197.22L179.21 197.34L179.48 197.45L179.75 197.55L180.03 197.64L180.3 197.73L180.57 197.81L180.85 197.88L181.12 197.95L181.39 198.01L181.67 198.07" stroke="#f2b03c" stroke-width="1.35" stroke-dasharray="3.4 3.8"/>
<path d="M193.43 198.06L193.7 197.97L193.97 197.86L194.25 197.74L194.52 197.61L194.79 197.46L195.07 197.3L195.34 197.11L195.61 196.91L195.89 196.69L196.16 196.44L196.43 196.16L196.71 195.86L196.98 195.53L197.25 195.17L197.53 194.78L197.8 194.36L198.08 193.9L198.35 193.41L198.62 192.88L198.9 192.31L199.17 191.7L199.44 191.05L199.72 190.36L199.99 189.63L200.26 188.85L200.54 188.04L200.81 187.18L201.08 186.29L201.36 185.36L201.63 184.39L201.9 183.39L202.18 182.35L202.45 181.29L202.72 180.2L203 179.08L203.27 177.95L203.54 176.81L203.82 175.65L204.09 174.49L204.37 173.33L204.64 172.18L204.91 171.04L205.19 169.92L205.46 168.82L205.73 167.75L206.01 166.72L206.28 165.73L206.55 164.79L206.83 163.91L207.1 163.08L207.37 162.32L207.65 161.63L207.92 161.01L208.19 160.48L208.47 160.02L208.74 159.66L209.01 159.38L209.29 159.19L209.56 159.09L209.83 159.08L210.11 159.14L210.38 159.25L210.66 159.42L210.93 159.65L211.2 159.94L211.48 160.28L211.75 160.68L212.02 161.13L212.3 161.62L212.57 162.17L212.84 162.76L213.12 163.4L213.39 164.07L213.66 164.78L213.94 165.53L214.21 166.31L214.48 167.12L214.76 167.95L215.03 168.81L215.3 169.69L215.58 170.58L215.85 171.48L216.12 172.4L216.4 173.32L216.67 174.25L216.95 175.18L217.22 176.1L217.49 177.03L217.77 177.94L218.04 178.85L218.31 179.75L218.59 180.63L218.86 181.49L219.13 182.34L219.41 183.17L219.68 183.99L219.95 184.77L220.23 185.54L220.5 186.28L220.77 187L221.05 187.7L221.32 188.36L221.59 189L221.87 189.62L222.14 190.21L222.41 190.77L222.69 191.31L222.96 191.82L223.24 192.3L223.51 192.76L223.78 193.2L224.06 193.61L224.33 193.99L224.6 194.36L224.88 194.7L225.15 195.02L225.42 195.32L225.7 195.6L225.97 195.86L226.24 196.1L226.52 196.33L226.79 196.54L227.06 196.73L227.34 196.91L227.61 197.08L227.88 197.23L228.16 197.37L228.43 197.5L228.7 197.61L228.98 197.72L229.25 197.82L229.53 197.91L229.8 197.99L230.07 198.07L230.35 198.13L230.62 198.19L230.89 198.25L231.17 198.3L231.44 198.34L231.71 198.38L231.99 198.42L232.26 198.45L232.53 198.48L232.81 198.51L233.08 198.53L233.35 198.55L233.63 198.57L233.9 198.58L234.17 198.6L234.45 198.61L234.72 198.62L234.99 198.63L235.27 198.64L235.54 198.65L235.81 198.66L236.09 198.66L236.36 198.67L236.64 198.67L236.91 198.68L237.18 198.68L237.46 198.68L237.73 198.68L238 198.69L238.28 198.69L238.55 198.69L238.82 198.69L239.1 198.69L239.37 198.69L239.64 198.69L239.92 198.7L240.19 198.7L240.46 198.7L240.74 198.7L241.01 198.7L241.28 198.7L241.56 198.7L241.83 198.7L242.1 198.7L242.38 198.7L242.65 198.7L242.93 198.7L243.2 198.7L243.47 198.7L243.75 198.7L244.02 198.7L244.29 198.7L244.57 198.7L244.84 198.7L245.11 198.7L245.39 198.7L245.66 198.7L245.93 198.7L246.21 198.7L246.48 198.7L246.75 198.7L247.03 198.7L247.3 198.7L247.57 198.7L247.85 198.7L248.12 198.7L248.39 198.7L248.67 198.7L248.94 198.7L249.22 198.7L249.49 198.7L249.76 198.7L250.04 198.7L250.31 198.7L250.58 198.7L250.86 198.7L251.13 198.7L251.4 198.7L251.68 198.7L251.95 198.7L252.22 198.7L252.5 198.7L252.77 198.7L253.04 198.7" stroke="#7cb84e" stroke-width="1.35"/>
<path d="M193.43 198.06L193.7 197.97L193.97 197.86L194.25 197.74L194.52 197.61L194.79 197.46L195.07 197.3L195.34 197.11L195.61 196.91L195.89 196.69L196.16 196.44L196.43 196.16L196.71 195.86L196.98 195.53L197.25 195.17L197.53 194.78L197.8 194.36L198.08 193.9L198.35 193.41L198.62 192.88L198.9 192.31L199.17 191.7L199.44 191.05L199.72 190.36L199.99 189.63L200.26 188.85L200.54 188.04L200.81 187.18L201.08 186.29L201.36 185.36L201.63 184.39L201.9 183.39L202.18 182.35L202.45 181.29L202.72 180.2L203 179.08L203.27 177.95L203.54 176.81L203.82 175.65L204.09 174.49L204.37 173.33L204.64 172.18L204.91 171.04L205.19 169.92L205.46 168.82L205.73 167.75L206.01 166.72L206.28 165.73L206.55 164.79L206.83 163.91L207.1 163.08L207.37 162.32L207.65 161.63L207.92 161.01L208.19 160.48L208.47 160.02L208.74 159.66L209.01 159.38L209.29 159.19L209.56 159.09L209.83 159.08L210.11 159.14L210.38 159.25L210.66 159.42L210.93 159.65L211.2 159.94L211.48 160.28L211.75 160.68L212.02 161.13L212.3 161.62L212.57 162.17L212.84 162.76L213.12 163.4L213.39 164.07L213.66 164.78L213.94 165.53L214.21 166.31L214.48 167.12L214.76 167.95L215.03 168.81L215.3 169.69L215.58 170.58L215.85 171.48L216.12 172.4L216.4 173.32L216.67 174.25L216.95 175.18L217.22 176.1L217.49 177.03L217.77 177.94L218.04 178.85L218.31 179.75L218.59 180.63L218.86 181.49L219.13 182.34L219.41 183.17L219.68 183.99L219.95 184.77L220.23 185.54L220.5 186.28L220.77 187L221.05 187.7L221.32 188.36L221.59 189L221.87 189.62L222.14 190.21L222.41 190.77L222.69 191.31L222.96 191.82L223.24 192.3L223.51 192.76L223.78 193.2L224.06 193.61L224.33 193.99L224.6 194.36L224.88 194.7L225.15 195.02L225.42 195.32L225.7 195.6L225.97 195.86L226.24 196.1L226.52 196.33L226.79 196.54L227.06 196.73L227.34 196.91L227.61 197.08L227.88 197.23L228.16 197.37L228.43 197.5L228.7 197.61L228.98 197.72L229.25 197.82L229.53 197.91L229.8 197.99L230.07 198.07L230.35 198.13L230.62 198.19L230.89 198.25L231.17 198.3L231.44 198.34L231.71 198.38L231.99 198.42L232.26 198.45L232.53 198.48L232.81 198.51L233.08 198.53L233.35 198.55L233.63 198.57L233.9 198.58L234.17 198.6L234.45 198.61L234.72 198.62L234.99 198.63L235.27 198.64L235.54 198.65L235.81 198.66L236.09 198.66L236.36 198.67L236.64 198.67L236.91 198.68L237.18 198.68L237.46 198.68L237.73 198.68L238 198.69L238.28 198.69L238.55 198.69L238.82 198.69L239.1 198.69L239.37 198.69L239.64 198.69L239.92 198.7L240.19 198.7L240.46 198.7L240.74 198.7L241.01 198.7L241.28 198.7L241.56 198.7L241.83 198.7L242.1 198.7L242.38 198.7L242.65 198.7L242.93 198.7L243.2 198.7L243.47 198.7L243.75 198.7L244.02 198.7L244.29 198.7L244.57 198.7L244.84 198.7L245.11 198.7L245.39 198.7L245.66 198.7L245.93 198.7L246.21 198.7L246.48 198.7L246.75 198.7L247.03 198.7L247.3 198.7L247.57 198.7L247.85 198.7L248.12 198.7L248.39 198.7L248.67 198.7L248.94 198.7L249.22 198.7L249.49 198.7L249.76 198.7L250.04 198.7L250.31 198.7L250.58 198.7L250.86 198.7L251.13 198.7L251.4 198.7L251.68 198.7L251.95 198.7L252.22 198.7L252.5 198.7L252.77 198.7L253.04 198.7" stroke="#f2b03c" stroke-width="1.35" stroke-dasharray="3.4 3.8"/>
<path d="M70.64 198.03L70.91 198L71.18 197.96L71.46 197.93L71.73 197.89L72 197.84L72.28 197.8L72.55 197.76L72.82 197.71L73.1 197.66L73.37 197.61L73.64 197.56L73.92 197.5L74.19 197.44L74.46 197.38L74.74 197.32L75.01 197.26L75.28 197.19L75.56 197.12L75.83 197.04L76.1 196.96L76.38 196.88L76.65 196.8L76.93 196.71L77.2 196.62L77.47 196.53L77.75 196.43L78.02 196.33L78.29 196.22L78.57 196.11L78.84 195.99L79.11 195.88L79.39 195.75L79.66 195.62L79.93 195.49L80.21 195.35L80.48 195.21L80.75 195.06L81.03 194.91L81.3 194.75L81.57 194.58L81.85 194.41L82.12 194.23L82.39 194.05L82.67 193.86L82.94 193.66L83.22 193.45L83.49 193.24L83.76 193.02L84.04 192.8L84.31 192.57L84.58 192.33L84.86 192.08L85.13 191.82L85.4 191.55L85.68 191.28L85.95 191L86.22 190.71L86.5 190.41L86.77 190.1L87.04 189.78L87.32 189.45L87.59 189.11L87.86 188.76L88.14 188.4L88.41 188.03L88.68 187.65L88.96 187.25L89.23 186.85L89.51 186.44L89.78 186.01L90.05 185.57L90.33 185.12L90.6 184.66L90.87 184.18L91.15 183.7L91.42 183.2L91.69 182.68L91.97 182.16L92.24 181.62L92.51 181.06L92.79 180.5L93.06 179.92L93.33 179.32L93.61 178.71L93.88 178.09L94.15 177.45L94.43 176.79L94.7 176.13L94.97 175.44L95.25 174.74L95.52 174.03L95.8 173.3L96.07 172.56L96.34 171.8L96.62 171.02L96.89 170.23L97.16 169.42L97.44 168.59L97.71 167.75L97.98 166.9L98.26 166.02L98.53 165.13L98.8 164.23L99.08 163.31L99.35 162.37L99.62 161.41L99.9 160.44L100.17 159.45L100.44 158.45L100.72 157.43L100.99 156.4L101.26 155.34L101.54 154.28L101.81 153.19L102.09 152.09L102.36 150.98L102.63 149.85L102.91 148.7L103.18 147.54L103.45 146.36L103.73 145.17L104 143.96L104.27 142.74L104.55 141.51L104.82 140.26L105.09 139L105.37 137.73L105.64 136.44L105.91 135.14L106.19 133.82L106.46 132.5L106.73 131.16L107.01 129.81L107.28 128.46L107.55 127.09L107.83 125.71L108.1 124.32L108.37 122.92L108.65 121.51L108.92 120.1L109.2 118.68L109.47 117.25L109.74 115.81L110.02 114.37L110.29 112.92L110.56 111.47L110.84 110.01L111.11 108.55L111.38 107.09L111.66 105.62L111.93 104.15L112.2 102.68L112.48 101.21L112.75 99.74L113.02 98.27L113.3 96.8L113.57 95.34L113.84 93.87L114.12 92.41L114.39 90.96L114.66 89.5L114.94 88.06L115.21 86.62L115.49 85.19L115.76 83.76L116.03 82.34L116.31 80.93L116.58 79.54L116.85 78.15L117.13 76.77L117.4 75.41L117.67 74.05L117.95 72.71L118.22 71.39L118.49 70.08L118.77 68.78L119.04 67.51L119.31 66.24L119.59 65L119.86 63.77L120.13 62.57L120.41 61.38L120.68 60.21L120.95 59.06L121.23 57.93L121.5 56.83L121.78 55.75L122.05 54.69L122.32 53.65L122.6 52.64L122.87 51.65L123.14 50.69L123.42 49.75L123.69 48.84L123.96 47.95L124.24 47.09L124.51 46.26L124.78 45.45L125.06 44.67L125.33 43.92L125.6 43.2L125.88 42.5L126.15 41.84L126.42 41.2L126.7 40.59L126.97 40.01L127.24 39.46L127.52 38.94L127.79 38.45L128.07 37.99L128.34 37.55L128.61 37.15L128.89 36.77L129.16 36.42L129.43 36.11L129.71 35.82L129.98 35.56L130.25 35.32L130.53 35.12L130.8 34.94L131.07 34.8L131.35 34.68L131.62 34.58L131.89 34.52L132.17 34.47L132.44 34.46L132.71 34.47L132.99 34.51L133.26 34.57L133.53 34.66L133.81 34.77L134.08 34.9L134.36 35.06L134.63 35.24L134.9 35.44L135.18 35.67L135.45 35.91L135.72 36.18L136 36.47L136.27 36.78L136.54 37.1L136.82 37.45L137.09 37.81L137.36 38.19L137.64 38.59L137.91 39.01L138.18 39.44L138.46 39.89L138.73 40.35L139 40.83L139.28 41.32L139.55 41.83L139.82 42.35L140.1 42.88L140.37 43.43L140.65 43.99L140.92 44.56L141.19 45.14L141.47 45.73L141.74 46.34L142.01 46.96L142.29 47.58L142.56 48.22L142.83 48.87L143.11 49.52L143.38 50.19L143.65 50.86L143.93 51.55L144.2 52.24L144.47 52.94L144.75 53.65L145.02 54.37L145.29 55.1L145.57 55.83L145.84 56.57L146.11 57.32L146.39 58.08L146.66 58.84L146.94 59.62L147.21 60.39L147.48 61.18L147.76 61.97L148.03 62.77L148.3 63.58L148.58 64.4L148.85 65.22L149.12 66.04L149.4 66.88L149.67 67.71L149.94 68.56L150.22 69.41L150.49 70.27L150.76 71.13L151.04 72L151.31 72.87L151.58 73.75L151.86 74.63L152.13 75.51L152.4 76.41L152.68 77.3L152.95 78.2L153.23 79.1L153.5 80L153.77 80.91L154.05 81.81L154.32 82.72L154.59 83.63L154.87 84.54L155.14 85.45L155.41 86.37L155.69 87.28L155.96 88.19L156.23 89.09L156.51 90L156.78 90.9L157.05 91.8L157.33 92.7L157.6 93.59L157.87 94.48L158.15 95.36L158.42 96.23L158.69 97.1L158.97 97.96L159.24 98.82L159.52 99.67L159.79 100.5L160.06 101.33L160.34 102.15L160.61 102.96L160.88 103.76L161.16 104.55L161.43 105.33L161.7 106.09L161.98 106.84L162.25 107.59L162.52 108.31L162.8 109.03L163.07 109.73L163.34 110.42L163.62 111.09L163.89 111.76L164.16 112.4L164.44 113.04L164.71 113.65L164.98 114.26L165.26 114.85L165.53 115.43L165.81 115.99L166.08 116.54L166.35 117.07L166.63 117.59L166.9 118.1L167.17 118.6L167.45 119.08L167.72 119.55L167.99 120.01L168.27 120.45L168.54 120.89L168.81 121.31L169.09 121.73L169.36 122.13L169.63 122.53L169.91 122.92L170.18 123.3L170.45 123.67L170.73 124.03L171 124.39L171.27 124.75L171.55 125.1L171.82 125.44L172.09 125.78L172.37 126.12L172.64 126.46L172.92 126.8L173.19 127.13L173.46 127.47L173.74 127.8L174.01 128.14L174.28 128.48L174.56 128.82L174.83 129.17L175.1 129.52L175.38 129.88L175.65 130.24L175.92 130.61L176.2 130.98L176.47 131.36L176.74 131.75L177.02 132.15L177.29 132.55L177.56 132.97L177.84 133.39L178.11 133.82L178.38 134.27L178.66 134.72L178.93 135.19L179.21 135.66L179.48 136.15L179.75 136.65L180.03 137.16L180.3 137.68L180.57 138.21L180.85 138.75L181.12 139.31L181.39 139.88L181.67 140.46L181.94 141.05L182.21 141.65L182.49 142.27L182.76 142.89L183.03 143.53L183.31 144.17L183.58 144.83L183.85 145.5L184.13 146.17L184.4 146.86L184.67 147.55L184.95 148.26L185.22 148.97L185.5 149.69L185.77 150.41L186.04 151.15L186.32 151.89L186.59 152.63L186.86 153.38L187.14 154.14L187.41 154.9L187.68 155.66L187.96 156.43L188.23 157.2L188.5 157.97L188.78 158.74L189.05 159.52L189.32 160.29L189.6 161.06L189.87 161.84L190.14 162.61L190.42 163.38L190.69 164.15L190.96 164.91L191.24 165.67L191.51 166.43L191.79 167.18L192.06 167.93L192.33 168.67L192.61 169.41L192.88 170.14L193.15 170.86L193.43 171.57L193.7 172.27L193.97 172.97L194.25 173.65L194.52 174.33L194.79 174.99L195.07 175.65L195.34 176.29L195.61 176.92L195.89 177.53L196.16 178.14L196.43 178.72L196.71 179.3L196.98 179.86L197.25 180.4L197.53 180.92L197.8 181.43L198.08 181.92L198.35 182.4L198.62 182.85L198.9 183.29L199.17 183.7L199.44 184.1L199.72 184.48L199.99 184.83L200.26 185.17L200.54 185.49L200.81 185.78L201.08 186.06L201.36 186.31L201.63 186.55L201.9 186.76L202.18 186.96L202.45 187.14L202.72 187.31L203 187.46L203.27 187.59L203.54 187.71L203.82 187.81L204.09 187.91L204.37 188L204.64 188.08L204.91 188.15L205.19 188.22L205.46 188.28L205.73 188.34L206.01 188.41L206.28 188.48L206.55 188.55L206.83 188.62L207.1 188.71L207.37 188.8L207.65 188.9L207.92 189.01L208.19 189.13L208.47 189.27L208.74 189.41L209.01 189.57L209.29 189.75L209.56 189.93L209.83 190.13L210.11 190.34L210.38 190.56L210.66 190.8L210.93 191.04L211.2 191.3L211.48 191.56L211.75 191.83L212.02 192.1L212.3 192.38L212.57 192.66L212.84 192.95L213.12 193.23L213.39 193.51L213.66 193.79L213.94 194.07L214.21 194.34L214.48 194.61L214.76 194.87L215.03 195.12L215.3 195.37L215.58 195.6L215.85 195.83L216.12 196.05L216.4 196.25L216.67 196.45L216.95 196.63L217.22 196.8L217.49 196.97L217.77 197.12L218.04 197.26L218.31 197.39L218.59 197.52L218.86 197.63L219.13 197.73L219.41 197.83L219.68 197.91L219.95 197.99L220.23 198.06L220.5 198.13L220.77 198.19L221.05 198.24L221.32 198.29L221.59 198.33L221.87 198.37L222.14 198.41L222.41 198.44L222.69 198.47L222.96 198.49L223.24 198.51L223.51 198.53L223.78 198.55L224.06 198.57L224.33 198.58L224.6 198.59L224.88 198.6L225.15 198.61L225.42 198.62L225.7 198.63L225.97 198.64L226.24 198.64L226.52 198.65L226.79 198.65L227.06 198.66L227.34 198.66L227.61 198.66L227.88 198.67L228.16 198.67L228.43 198.67L228.7 198.68L228.98 198.68L229.25 198.68L229.53 198.68L229.8 198.68L230.07 198.68L230.35 198.69L230.62 198.69L230.89 198.69L231.17 198.69L231.44 198.69L231.71 198.69L231.99 198.69L232.26 198.69L232.53 198.69L232.81 198.69L233.08 198.69L233.35 198.69L233.63 198.7L233.9 198.7L234.17 198.7L234.45 198.7L234.72 198.7L234.99 198.7L235.27 198.7L235.54 198.7L235.81 198.7L236.09 198.7L236.36 198.7L236.64 198.7L236.91 198.7L237.18 198.7L237.46 198.7L237.73 198.7L238 198.7L238.28 198.7L238.55 198.7L238.82 198.7L239.1 198.7L239.37 198.7L239.64 198.7L239.92 198.7L240.19 198.7L240.46 198.7L240.74 198.7L241.01 198.7L241.28 198.7L241.56 198.7L241.83 198.7L242.1 198.7L242.38 198.7L242.65 198.7L242.93 198.7L243.2 198.7L243.47 198.7L243.75 198.7L244.02 198.7L244.29 198.7L244.57 198.7L244.84 198.7L245.11 198.7L245.39 198.7L245.66 198.7L245.93 198.7L246.21 198.7L246.48 198.7L246.75 198.7L247.03 198.7L247.3 198.7L247.57 198.7L247.85 198.7L248.12 198.7L248.39 198.7L248.67 198.7L248.94 198.7L249.22 198.7L249.49 198.7L249.76 198.7L250.04 198.7L250.31 198.7L250.58 198.7L250.86 198.7L251.13 198.7L251.4 198.7L251.68 198.7L251.95 198.7L252.22 198.7L252.5 198.7L252.77 198.7L253.04 198.7" stroke="#5d3b7d" stroke-width="1.35"/>
<path d="M70.64 198.03L70.91 198L71.18 197.96L71.46 197.93L71.73 197.89L72 197.84L72.28 197.8L72.55 197.76L72.82 197.71L73.1 197.66L73.37 197.61L73.64 197.56L73.92 197.5L74.19 197.44L74.46 197.38L74.74 197.32L75.01 197.26L75.28 197.19L75.56 197.12L75.83 197.04L76.1 196.96L76.38 196.88L76.65 196.8L76.93 196.71L77.2 196.62L77.47 196.53L77.75 196.43L78.02 196.33L78.29 196.22L78.57 196.11L78.84 195.99L79.11 195.88L79.39 195.75L79.66 195.62L79.93 195.49L80.21 195.35L80.48 195.21L80.75 195.06L81.03 194.91L81.3 194.75L81.57 194.58L81.85 194.41L82.12 194.23L82.39 194.05L82.67 193.86L82.94 193.66L83.22 193.45L83.49 193.24L83.76 193.02L84.04 192.8L84.31 192.57L84.58 192.33L84.86 192.08L85.13 191.82L85.4 191.55L85.68 191.28L85.95 191L86.22 190.71L86.5 190.41L86.77 190.1L87.04 189.78L87.32 189.45L87.59 189.11L87.86 188.76L88.14 188.4L88.41 188.03L88.68 187.65L88.96 187.25L89.23 186.85L89.51 186.44L89.78 186.01L90.05 185.57L90.33 185.12L90.6 184.66L90.87 184.18L91.15 183.7L91.42 183.2L91.69 182.68L91.97 182.16L92.24 181.62L92.51 181.06L92.79 180.5L93.06 179.92L93.33 179.32L93.61 178.71L93.88 178.09L94.15 177.45L94.43 176.79L94.7 176.13L94.97 175.44L95.25 174.74L95.52 174.03L95.8 173.3L96.07 172.56L96.34 171.8L96.62 171.02L96.89 170.23L97.16 169.42L97.44 168.59L97.71 167.75L97.98 166.9L98.26 166.02L98.53 165.13L98.8 164.23L99.08 163.31L99.35 162.37L99.62 161.41L99.9 160.44L100.17 159.45L100.44 158.45L100.72 157.43L100.99 156.4L101.26 155.34L101.54 154.28L101.81 153.19L102.09 152.09L102.36 150.98L102.63 149.85L102.91 148.7L103.18 147.54L103.45 146.36L103.73 145.17L104 143.96L104.27 142.74L104.55 141.51L104.82 140.26L105.09 139L105.37 137.73L105.64 136.44L105.91 135.14L106.19 133.82L106.46 132.5L106.73 131.16L107.01 129.81L107.28 128.46L107.55 127.09L107.83 125.71L108.1 124.32L108.37 122.92L108.65 121.51L108.92 120.1L109.2 118.68L109.47 117.25L109.74 115.81L110.02 114.37L110.29 112.92L110.56 111.47L110.84 110.01L111.11 108.55L111.38 107.09L111.66 105.62L111.93 104.15L112.2 102.68L112.48 101.21L112.75 99.74L113.02 98.27L113.3 96.8L113.57 95.34L113.84 93.87L114.12 92.41L114.39 90.96L114.66 89.5L114.94 88.06L115.21 86.62L115.49 85.19L115.76 83.76L116.03 82.34L116.31 80.93L116.58 79.54L116.85 78.15L117.13 76.77L117.4 75.41L117.67 74.05L117.95 72.71L118.22 71.39L118.49 70.08L118.77 68.78L119.04 67.51L119.31 66.24L119.59 65L119.86 63.77L120.13 62.57L120.41 61.38L120.68 60.21L120.95 59.06L121.23 57.93L121.5 56.83L121.78 55.75L122.05 54.69L122.32 53.65L122.6 52.64L122.87 51.65L123.14 50.69L123.42 49.75L123.69 48.84L123.96 47.95L124.24 47.09L124.51 46.26L124.78 45.45L125.06 44.67L125.33 43.92L125.6 43.2L125.88 42.5L126.15 41.84L126.42 41.2L126.7 40.59L126.97 40.01L127.24 39.46L127.52 38.94L127.79 38.45L128.07 37.99L128.34 37.55L128.61 37.15L128.89 36.77L129.16 36.42L129.43 36.11L129.71 35.82L129.98 35.56L130.25 35.32L130.53 35.12L130.8 34.94L131.07 34.8L131.35 34.68L131.62 34.58L131.89 34.52L132.17 34.47L132.44 34.46L132.71 34.47L132.99 34.51L133.26 34.57L133.53 34.66L133.81 34.77L134.08 34.9L134.36 35.06L134.63 35.24L134.9 35.44L135.18 35.67L135.45 35.91L135.72 36.18L136 36.47L136.27 36.78L136.54 37.1L136.82 37.45L137.09 37.81L137.36 38.19L137.64 38.59L137.91 39.01L138.18 39.44L138.46 39.89L138.73 40.35L139 40.83L139.28 41.32L139.55 41.83L139.82 42.35L140.1 42.88L140.37 43.43L140.65 43.99L140.92 44.56L141.19 45.14L141.47 45.73L141.74 46.34L142.01 46.96L142.29 47.58L142.56 48.22L142.83 48.87L143.11 49.52L143.38 50.19L143.65 50.86L143.93 51.55L144.2 52.24L144.47 52.94L144.75 53.65L145.02 54.37L145.29 55.1L145.57 55.83L145.84 56.57L146.11 57.32L146.39 58.08L146.66 58.84L146.94 59.62L147.21 60.39L147.48 61.18L147.76 61.97L148.03 62.77L148.3 63.58L148.58 64.4L148.85 65.22L149.12 66.04L149.4 66.88L149.67 67.71L149.94 68.56L150.22 69.41L150.49 70.27L150.76 71.13L151.04 72L151.31 72.87L151.58 73.75L151.86 74.63L152.13 75.51L152.4 76.41L152.68 77.3L152.95 78.2L153.23 79.1L153.5 80L153.77 80.91L154.05 81.81L154.32 82.72L154.59 83.63L154.87 84.54L155.14 85.45L155.41 86.37L155.69 87.28L155.96 88.19L156.23 89.09L156.51 90L156.78 90.9L157.05 91.8L157.33 92.7L157.6 93.59L157.87 94.48L158.15 95.36L158.42 96.23L158.69 97.1L158.97 97.96L159.24 98.82L159.52 99.67L159.79 100.5L160.06 101.33L160.34 102.15L160.61 102.96L160.88 103.76L161.16 104.55L161.43 105.33L161.7 106.09L161.98 106.84L162.25 107.59L162.52 108.31L162.8 109.03L163.07 109.73L163.34 110.42L163.62 111.09L163.89 111.76L164.16 112.4L164.44 113.04L164.71 113.65L164.98 114.26L165.26 114.85L165.53 115.43L165.81 115.99L166.08 116.54L166.35 117.07L166.63 117.59L166.9 118.1L167.17 118.6L167.45 119.08L167.72 119.55L167.99 120.01L168.27 120.45L168.54 120.89L168.81 121.31L169.09 121.73L169.36 122.13L169.63 122.53L169.91 122.92L170.18 123.3L170.45 123.67L170.73 124.03L171 124.39L171.27 124.75L171.55 125.1L171.82 125.44L172.09 125.78L172.37 126.12L172.64 126.46L172.92 126.8L173.19 127.13L173.46 127.47L173.74 127.8L174.01 128.14L174.28 128.48L174.56 128.82L174.83 129.17L175.1 129.52L175.38 129.88L175.65 130.24L175.92 130.61L176.2 130.98L176.47 131.36L176.74 131.75L177.02 132.15L177.29 132.55L177.56 132.97L177.84 133.39L178.11 133.82L178.38 134.27L178.66 134.72L178.93 135.19L179.21 135.66L179.48 136.15L179.75 136.65L180.03 137.16L180.3 137.68L180.57 138.21L180.85 138.75L181.12 139.31L181.39 139.88L181.67 140.46L181.94 141.05L182.21 141.65L182.49 142.27L182.76 142.89L183.03 143.53L183.31 144.17L183.58 144.83L183.85 145.5L184.13 146.17L184.4 146.86L184.67 147.55L184.95 148.26L185.22 148.97L185.5 149.69L185.77 150.41L186.04 151.15L186.32 151.89L186.59 152.63L186.86 153.38L187.14 154.14L187.41 154.9L187.68 155.66L187.96 156.43L188.23 157.2L188.5 157.97L188.78 158.74L189.05 159.52L189.32 160.29L189.6 161.06L189.87 161.84L190.14 162.61L190.42 163.38L190.69 164.15L190.96 164.91L191.24 165.67L191.51 166.43L191.79 167.18L192.06 167.93L192.33 168.67L192.61 169.41L192.88 170.14L193.15 170.86L193.43 171.57L193.7 172.27L193.97 172.97L194.25 173.65L194.52 174.33L194.79 174.99L195.07 175.65L195.34 176.29L195.61 176.92L195.89 177.53L196.16 178.14L196.43 178.72L196.71 179.3L196.98 179.86L197.25 180.4L197.53 180.92L197.8 181.43L198.08 181.92L198.35 182.4L198.62 182.85L198.9 183.29L199.17 183.7L199.44 184.1L199.72 184.48L199.99 184.83L200.26 185.17L200.54 185.49L200.81 185.78L201.08 186.06L201.36 186.31L201.63 186.55L201.9 186.76L202.18 186.96L202.45 187.14L202.72 187.31L203 187.46L203.27 187.59L203.54 187.71L203.82 187.81L204.09 187.91L204.37 188L204.64 188.08L204.91 188.15L205.19 188.22L205.46 188.28L205.73 188.34L206.01 188.41L206.28 188.48L206.55 188.55L206.83 188.62L207.1 188.71L207.37 188.8L207.65 188.9L207.92 189.01L208.19 189.13L208.47 189.27L208.74 189.41L209.01 189.57L209.29 189.75L209.56 189.93L209.83 190.13L210.11 190.34L210.38 190.56L210.66 190.8L210.93 191.04L211.2 191.3L211.48 191.56L211.75 191.83L212.02 192.1L212.3 192.38L212.57 192.66L212.84 192.95L213.12 193.23L213.39 193.51L213.66 193.79L213.94 194.07L214.21 194.34L214.48 194.61L214.76 194.87L215.03 195.12L215.3 195.37L215.58 195.6L215.85 195.83L216.12 196.05L216.4 196.25L216.67 196.45L216.95 196.63L217.22 196.8L217.49 196.97L217.77 197.12L218.04 197.26L218.31 197.39L218.59 197.52L218.86 197.63L219.13 197.73L219.41 197.83L219.68 197.91L219.95 197.99L220.23 198.06L220.5 198.13L220.77 198.19L221.05 198.24L221.32 198.29L221.59 198.33L221.87 198.37L222.14 198.41L222.41 198.44L222.69 198.47L222.96 198.49L223.24 198.51L223.51 198.53L223.78 198.55L224.06 198.57L224.33 198.58L224.6 198.59L224.88 198.6L225.15 198.61L225.42 198.62L225.7 198.63L225.97 198.64L226.24 198.64L226.52 198.65L226.79 198.65L227.06 198.66L227.34 198.66L227.61 198.66L227.88 198.67L228.16 198.67L228.43 198.67L228.7 198.68L228.98 198.68L229.25 198.68L229.53 198.68L229.8 198.68L230.07 198.68L230.35 198.69L230.62 198.69L230.89 198.69L231.17 198.69L231.44 198.69L231.71 198.69L231.99 198.69L232.26 198.69L232.53 198.69L232.81 198.69L233.08 198.69L233.35 198.69L233.63 198.7L233.9 198.7L234.17 198.7L234.45 198.7L234.72 198.7L234.99 198.7L235.27 198.7L235.54 198.7L235.81 198.7L236.09 198.7L236.36 198.7L236.64 198.7L236.91 198.7L237.18 198.7L237.46 198.7L237.73 198.7L238 198.7L238.28 198.7L238.55 198.7L238.82 198.7L239.1 198.7L239.37 198.7L239.64 198.7L239.92 198.7L240.19 198.7L240.46 198.7L240.74 198.7L241.01 198.7L241.28 198.7L241.56 198.7L241.83 198.7L242.1 198.7L242.38 198.7L242.65 198.7L242.93 198.7L243.2 198.7L243.47 198.7L243.75 198.7L244.02 198.7L244.29 198.7L244.57 198.7L244.84 198.7L245.11 198.7L245.39 198.7L245.66 198.7L245.93 198.7L246.21 198.7L246.48 198.7L246.75 198.7L247.03 198.7L247.3 198.7L247.57 198.7L247.85 198.7L248.12 198.7L248.39 198.7L248.67 198.7L248.94 198.7L249.22 198.7L249.49 198.7L249.76 198.7L250.04 198.7L250.31 198.7L250.58 198.7L250.86 198.7L251.13 198.7L251.4 198.7L251.68 198.7L251.95 198.7L252.22 198.7L252.5 198.7L252.77 198.7L253.04 198.7" stroke="#f3b23b" stroke-width="1.35" stroke-dasharray="3.4 3.8"/>
</g>
<g stroke="#1a1a1a" fill="none">
<path d="M61.0 28.349999999999998V200.9" stroke-width="1.7"/>
<path d="M60.2 200.3H255.1" stroke-width="1.3"/>
<path d="M60.2 28.95H255.1" stroke-width="1.3"/>
<path d="M254.5 28.349999999999998V200.9" stroke-width="1.2"/>
<path d="M57.5 198.7H61.0" stroke-width="1.2"/>
<path d="M57.5 165.12H61.0" stroke-width="1.2"/>
<path d="M57.5 131.54H61.0" stroke-width="1.2"/>
<path d="M57.5 97.96H61.0" stroke-width="1.2"/>
<path d="M57.5 64.38H61.0" stroke-width="1.2"/>
<path d="M57.5 30.8H61.0" stroke-width="1.2"/>
<path d="M86.9 200.3V203.8" stroke-width="1.2"/>
<path d="M134.1 200.3V203.8" stroke-width="1.2"/>
<path d="M181.3 200.3V203.8" stroke-width="1.2"/>
<path d="M228.5 200.3V203.8" stroke-width="1.2"/>
</g>
<text x="54" y="201.4" font-size="8.8" text-anchor="end" fill="#111" stroke="#111" stroke-width="0.2" font-weight="normal" font-style="normal" >0.0</text>
<text x="54" y="167.82" font-size="8.8" text-anchor="end" fill="#111" stroke="#111" stroke-width="0.2" font-weight="normal" font-style="normal" >0.2</text>
<text x="54" y="134.24" font-size="8.8" text-anchor="end" fill="#111" stroke="#111" stroke-width="0.2" font-weight="normal" font-style="normal" >0.4</text>
<text x="54" y="100.66" font-size="8.8" text-anchor="end" fill="#111" stroke="#111" stroke-width="0.2" font-weight="normal" font-style="normal" >0.6</text>
<text x="54" y="67.08" font-size="8.8" text-anchor="end" fill="#111" stroke="#111" stroke-width="0.2" font-weight="normal" font-style="normal" >0.8</text>
<text x="54" y="33.5" font-size="8.8" text-anchor="end" fill="#111" stroke="#111" stroke-width="0.2" font-weight="normal" font-style="normal" >1.0</text>
<text x="86.9" y="214.75" font-size="8.8" text-anchor="middle" fill="#111" stroke="#111" stroke-width="0.2" font-weight="normal" font-style="normal" >7</text>
<text x="134.1" y="214.75" font-size="8.8" text-anchor="middle" fill="#111" stroke="#111" stroke-width="0.2" font-weight="normal" font-style="normal" >8</text>
<text x="181.3" y="214.75" font-size="8.8" text-anchor="middle" fill="#111" stroke="#111" stroke-width="0.2" font-weight="normal" font-style="normal" >9</text>
<text x="228.5" y="214.75" font-size="8.8" text-anchor="middle" fill="#111" stroke="#111" stroke-width="0.2" font-weight="normal" font-style="normal" >10</text>
<text x="157.75" y="228.5" font-size="10.4" text-anchor="middle" fill="#111" stroke="#111" stroke-width="0.4" textLength="35" lengthAdjust="spacingAndGlyphs">Time (min)</text>
<g transform="translate(25.1 114.25) rotate(-90)">
<text x="0" y="0" font-size="10.2" text-anchor="middle" fill="#111" stroke="#111" stroke-width="0.4" textLength="74" lengthAdjust="spacingAndGlyphs">Normalized absorbance</text>
</g>
<g transform="translate(36.9 113.5) rotate(-90)">
<text x="0" y="0" font-size="10.2" text-anchor="middle" fill="#111" stroke="#111" stroke-width="0.4" textLength="52.2" lengthAdjust="spacingAndGlyphs">at 413 nm (AU)</text>
</g>
<path d="M62.1 37.5H76" stroke="#5d3b7d" stroke-width="1.3"/>
<path d="M67.9 37.5H70.2M75.8 37.5H76.4" stroke="#f2ae3a" stroke-width="1.3"/>
<text x="79.2" y="40.25" font-size="8.5" text-anchor="start" fill="#111" stroke="#111" stroke-width="0.2" font-weight="normal" font-style="normal" >Hp + PolyHb</text>
<path d="M62.1 50.3H76" stroke="#4564a2" stroke-width="1.3"/>
<text x="79.2" y="53.05" font-size="8.5" text-anchor="start" fill="#111" stroke="#111" stroke-width="0.2" font-weight="normal" font-style="normal" >PolyHb</text>
<path d="M62.1 63.1H76" stroke="#8cc06a" stroke-width="1.3"/>
<path d="M68 63.1H70.2" stroke="#f2ae3a" stroke-width="1.3"/>
<text x="79.2" y="65.85" font-size="8.5" text-anchor="start" fill="#111" stroke="#111" stroke-width="0.2" font-weight="normal" font-style="normal" >Hp+Hb</text>
<path d="M62.1 75.7H76" stroke="#b8214f" stroke-width="1.3"/>
<text x="79.2" y="78.45" font-size="8.5" text-anchor="start" fill="#111" stroke="#111" stroke-width="0.2" font-weight="normal" font-style="normal" >Hb</text>
<path d="M62.1 88.3H76" stroke="#eea634" stroke-width="1.3"/>
<text x="79.2" y="91.05" font-size="8.5" text-anchor="start" fill="#111" stroke="#111" stroke-width="0.2" font-weight="normal" font-style="normal" >Hp</text>
<text x="6.9" y="20.8" font-size="12.9" text-anchor="start" fill="#000" stroke="#000" stroke-width="0.3" font-weight="bold" font-style="normal" >A</text>
<g>
<rect x="319.1" y="31.4" width="5.3" height="166.8" fill="#a6002c" stroke="#90002a" stroke-width="0.5"/>
<path d="M321.75 31.4V31.4M319.3 31.4H324.2M319.3 31.4H324.2" stroke="#555" stroke-width="1" fill="none"/>
<rect x="326.7" y="142.96" width="5.3" height="55.24" fill="#67a640" stroke="#5a9838" stroke-width="0.5"/>
<path d="M329.35 142.96V142.96M326.9 142.96H331.8M326.9 142.96H331.8" stroke="#222" stroke-width="1" fill="none"/>
<rect x="334.3" y="192.72" width="5.3" height="5.48" fill="#2c4a7e" stroke="#1c3670" stroke-width="0.5"/>
<path d="M336.95 190.22V195.23M334.5 190.22H339.4M334.5 195.23H339.4" stroke="#222" stroke-width="1" fill="none"/>
<rect x="342" y="197.9" width="4.7" height="1.5" fill="#8c8c8c"/>
<rect x="351.35" y="197.9" width="4.7" height="1.5" fill="#8c8c8c"/>
<rect x="358.95" y="197.9" width="4.7" height="1.5" fill="#8c8c8c"/>
<rect x="366.45" y="176.36" width="5.3" height="21.84" fill="#2c4a7e" stroke="#1c3670" stroke-width="0.5"/>
<path d="M369.1 176.36V176.36M366.65 176.36H371.55M366.65 176.36H371.55" stroke="#222" stroke-width="1" fill="none"/>
<rect x="374.05" y="189.22" width="5.3" height="8.98" fill="#512560" stroke="#45185a" stroke-width="0.5"/>
<path d="M376.7 186.88V191.55M374.25 186.88H379.15M374.25 191.55H379.15" stroke="#222" stroke-width="1" fill="none"/>
<rect x="383.5" y="197.9" width="4.7" height="1.5" fill="#8c8c8c"/>
<rect x="391" y="179.03" width="5.3" height="19.17" fill="#67a640" stroke="#5a9838" stroke-width="0.5"/>
<path d="M393.65 176.52V181.53M391.2 176.52H396.1M391.2 181.53H396.1" stroke="#222" stroke-width="1" fill="none"/>
<rect x="398.6" y="141.45" width="5.3" height="56.75" fill="#2c4a7e" stroke="#1c3670" stroke-width="0.5"/>
<path d="M401.25 136.44V146.46M398.8 136.44H403.7M398.8 146.46H403.7" stroke="#222" stroke-width="1" fill="none"/>
<rect x="406.2" y="172.85" width="5.3" height="25.35" fill="#512560" stroke="#45185a" stroke-width="0.5"/>
<path d="M408.85 169.68V176.02M406.4 169.68H411.3M406.4 176.02H411.3" stroke="#222" stroke-width="1" fill="none"/>
<rect x="415.65" y="197.9" width="4.7" height="1.5" fill="#8c8c8c"/>
<rect x="423.15" y="80.33" width="5.3" height="117.87" fill="#67a640" stroke="#5a9838" stroke-width="0.5"/>
<path d="M425.8 71.31V89.35M423.35 71.31H428.25M423.35 89.35H428.25" stroke="#222" stroke-width="1" fill="none"/>
<rect x="430.75" y="151.47" width="5.3" height="46.73" fill="#2c4a7e" stroke="#1c3670" stroke-width="0.5"/>
<path d="M433.4 144.63V158.32M430.95 144.63H435.85M430.95 158.32H435.85" stroke="#222" stroke-width="1" fill="none"/>
<rect x="438.35" y="164.33" width="5.3" height="33.87" fill="#512560" stroke="#45185a" stroke-width="0.5"/>
<path d="M441 159.99V168.67M438.55 159.99H443.45M438.55 168.67H443.45" stroke="#222" stroke-width="1" fill="none"/>
<rect x="447.8" y="197.9" width="4.7" height="1.5" fill="#8c8c8c"/>
<rect x="455.3" y="180.7" width="5.3" height="17.5" fill="#67a640" stroke="#5a9838" stroke-width="0.5"/>
<path d="M457.95 174.19V187.21M455.5 174.19H460.4M455.5 187.21H460.4" stroke="#222" stroke-width="1" fill="none"/>
<rect x="462.9" y="165.84" width="5.3" height="32.36" fill="#2c4a7e" stroke="#1c3670" stroke-width="0.5"/>
<path d="M465.55 163V168.67M463.1 163H468M463.1 168.67H468" stroke="#222" stroke-width="1" fill="none"/>
<rect x="470.5" y="134.11" width="5.3" height="64.09" fill="#512560" stroke="#45185a" stroke-width="0.5"/>
<path d="M473.15 126.76V141.45M470.7 126.76H475.6M470.7 141.45H475.6" stroke="#222" stroke-width="1" fill="none"/>
<rect x="479.95" y="197.9" width="4.7" height="1.5" fill="#8c8c8c"/>
<rect x="487.55" y="197.9" width="4.7" height="1.5" fill="#8c8c8c"/>
<rect x="495.15" y="197.9" width="4.7" height="1.5" fill="#8c8c8c"/>
<rect x="502.65" y="167.17" width="5.3" height="31.03" fill="#512560" stroke="#45185a" stroke-width="0.5"/>
<path d="M505.3 163.5V170.84M502.85 163.5H507.75M502.85 170.84H507.75" stroke="#222" stroke-width="1" fill="none"/>
</g>
<g stroke="#1a1a1a" fill="none">
<path d="M315.6 29.799999999999997V200.79999999999998" stroke-width="1.7"/>
<path d="M314.8 200.2H513.1" stroke-width="1.3"/>
<path d="M314.8 30.4H513.1" stroke-width="1.3"/>
<path d="M512.5 29.799999999999997V200.79999999999998" stroke-width="1.2"/>
<path d="M312.6 198.4H315.6" stroke-width="1.2"/>
<path d="M312.6 165H315.6" stroke-width="1.2"/>
<path d="M312.6 131.6H315.6" stroke-width="1.2"/>
<path d="M312.6 98.2H315.6" stroke-width="1.2"/>
<path d="M312.6 64.8H315.6" stroke-width="1.2"/>
<path d="M312.6 31.4H315.6" stroke-width="1.2"/>
<path d="M317 200.2V203.6" stroke-width="1.2"/>
<path d="M333.07 200.2V201.8" stroke-width="1"/>
<path d="M349.15 200.2V203.6" stroke-width="1.2"/>
<path d="M365.22 200.2V201.8" stroke-width="1"/>
<path d="M381.3 200.2V203.6" stroke-width="1.2"/>
<path d="M397.38 200.2V201.8" stroke-width="1"/>
<path d="M413.45 200.2V203.6" stroke-width="1.2"/>
<path d="M429.52 200.2V201.8" stroke-width="1"/>
<path d="M445.6 200.2V203.6" stroke-width="1.2"/>
<path d="M461.68 200.2V201.8" stroke-width="1"/>
<path d="M477.75 200.2V203.6" stroke-width="1.2"/>
<path d="M493.82 200.2V201.8" stroke-width="1"/>
<path d="M509.9 200.2V203.6" stroke-width="1.2"/>
</g>
<text x="309.6" y="201.65" font-size="9.1" text-anchor="end" fill="#111" stroke="#111" stroke-width="0.2" font-weight="normal" font-style="normal" >0</text>
<text x="309.6" y="168.25" font-size="9.1" text-anchor="end" fill="#111" stroke="#111" stroke-width="0.2" font-weight="normal" font-style="normal" >20</text>
<text x="309.6" y="134.85" font-size="9.1" text-anchor="end" fill="#111" stroke="#111" stroke-width="0.2" font-weight="normal" font-style="normal" >40</text>
<text x="309.6" y="101.45" font-size="9.1" text-anchor="end" fill="#111" stroke="#111" stroke-width="0.2" font-weight="normal" font-style="normal" >60</text>
<text x="309.6" y="68.05" font-size="9.1" text-anchor="end" fill="#111" stroke="#111" stroke-width="0.2" font-weight="normal" font-style="normal" >80</text>
<text x="309.6" y="34.65" font-size="9.1" text-anchor="end" fill="#111" stroke="#111" stroke-width="0.2" font-weight="normal" font-style="normal" >100</text>
<text x="333.07" y="214.5" font-size="8.1" text-anchor="middle" fill="#111">0<tspan font-size="6.2" dy="-3.4">th</tspan><tspan dy="3.4"></tspan></text>
<text x="333.07" y="221.9" font-size="6.2" text-anchor="middle" fill="#222" stroke="#222" stroke-width="0.2" font-weight="normal" font-style="normal" >64 kDa</text>
<text x="365.23" y="214.5" font-size="8.1" text-anchor="middle" fill="#111">1<tspan font-size="6.2" dy="-3.4">st</tspan><tspan dy="3.4"></tspan></text>
<text x="365.23" y="221.9" font-size="6.2" text-anchor="middle" fill="#222" stroke="#222" stroke-width="0.2" font-weight="normal" font-style="normal" >128 kDa</text>
<text x="397.38" y="214.5" font-size="8.1" text-anchor="middle" fill="#111">2<tspan font-size="6.2" dy="-3.4">nd</tspan><tspan dy="3.4"></tspan></text>
<text x="397.38" y="221.9" font-size="6.2" text-anchor="middle" fill="#222" stroke="#222" stroke-width="0.2" font-weight="normal" font-style="normal" >256 kDa</text>
<text x="429.52" y="214.5" font-size="8.1" text-anchor="middle" fill="#111">3<tspan font-size="6.2" dy="-3.4">rd</tspan><tspan dy="3.4"></tspan></text>
<text x="429.52" y="221.9" font-size="6.2" text-anchor="middle" fill="#222" stroke="#222" stroke-width="0.2" font-weight="normal" font-style="normal" >512 kDa</text>
<text x="461.67" y="214.5" font-size="8.1" text-anchor="middle" fill="#111">4<tspan font-size="6.2" dy="-3.4">th</tspan><tspan dy="3.4"></tspan></text>
<text x="461.67" y="221.9" font-size="6.2" text-anchor="middle" fill="#222" stroke="#222" stroke-width="0.2" font-weight="normal" font-style="normal" >1024 kDa</text>
<text x="493.82" y="214.5" font-size="8.1" text-anchor="middle" fill="#111">5<tspan font-size="6.2" dy="-3.4">th</tspan><tspan dy="3.4">+</tspan></text>
<text x="493.82" y="221.9" font-size="6.2" text-anchor="middle" fill="#222" stroke="#222" stroke-width="0.2" font-weight="normal" font-style="normal" >2048+ kDa</text>
<text x="414.4" y="235.5" font-size="10.4" text-anchor="middle" fill="#111" stroke="#111" stroke-width="0.4" textLength="64" lengthAdjust="spacingAndGlyphs">Polymerization order</text>
<g transform="translate(288.9 115.8) rotate(-90)">
<text x="0" y="0" font-size="10.6" text-anchor="middle" fill="#111" stroke="#111" stroke-width="0.4" textLength="52" lengthAdjust="spacingAndGlyphs">Composition (%)</text>
</g>
<rect x="335.4" y="36.45" width="6.9" height="3.6" fill="#a6002c"/>
<text x="345.8" y="41.65" font-size="8.5" text-anchor="start" fill="#111" stroke="#111" stroke-width="0.2" font-weight="normal" font-style="normal" >Hb</text>
<rect x="335.4" y="49.25" width="6.9" height="3.6" fill="#67a640"/>
<text x="345.8" y="54.45" font-size="8.5" text-anchor="start" fill="#111" stroke="#111" stroke-width="0.2" font-weight="normal" font-style="normal" >Hp+Hb</text>
<rect x="335.4" y="62.05" width="6.9" height="3.6" fill="#2c4a7e"/>
<text x="345.8" y="67.25" font-size="8.5" text-anchor="start" fill="#111" stroke="#111" stroke-width="0.2" font-weight="normal" font-style="normal" >PolyHb</text>
<rect x="335.4" y="74.85" width="6.9" height="3.6" fill="#512560"/>
<text x="345.8" y="80.05" font-size="8.5" text-anchor="start" fill="#111" stroke="#111" stroke-width="0.2" font-weight="normal" font-style="normal" >Hp+PolyHb</text>
<text x="270.7" y="20.8" font-size="12.9" text-anchor="start" fill="#000" stroke="#000" stroke-width="0.3" font-weight="bold" font-style="normal" >B</text>
<g fill="none" stroke-linejoin="round" stroke-linecap="round">
<path d="M59.2 270.71L59.72 271.27L60.25 271.41L60.77 271.5L61.3 272.04L61.82 272.12L62.35 272.9L62.87 273.76L63.4 273.2L63.92 273.4L64.45 274.13L64.97 274.3L65.5 274.4L66.02 274.13L66.55 274.72L67.07 275.23L67.6 274.49L68.12 275.05L68.64 274.55L69.17 274.98L69.69 274.87L70.22 275.73L70.74 275.4L71.27 276.22L71.79 276.29L72.32 276.26L72.84 275.32L73.37 276.32L73.89 276.65L74.42 276.83L74.94 276.19L75.47 276.76L75.99 276.64L76.52 276.81L77.04 277.74L77.56 276.99L78.09 277.43L78.61 277.93L79.14 277.35L79.66 277.65L80.19 277.83L80.71 277.89L81.24 277.39L81.76 278.06L82.29 278.71L82.81 277.48L83.34 278.64L83.86 278.38L84.39 278.12L84.91 279.38L85.44 278.9L85.96 278.09L86.48 278.73L87.01 279.03L87.53 278.75L88.06 279.22L88.58 278.95L89.11 279.35L89.63 279.76L90.16 278.88L90.68 279.34L91.21 279.11L91.73 279.44L92.26 278.91L92.78 279.25L93.31 279.49L93.83 280.05L94.35 280.22L94.88 279.18L95.4 279.48L95.93 280.19L96.45 279.07L96.98 279.82L97.5 280.04L98.03 280.71L98.55 280.52L99.08 280.12L99.6 280.17L100.13 280.28L100.65 281.14L101.18 280.32L101.7 280.44L102.23 280.79L102.75 280.64L103.27 280.66L103.8 280.31L104.32 280.86L104.85 280.73L105.37 281.51L105.9 281.34L106.42 281.09L106.95 281.46L107.47 281.06L108 281.74L108.52 281.32L109.05 281.64L109.57 280.86L110.1 281.65L110.62 280.79L111.15 280.69L111.67 281.52L112.19 281.31L112.72 281.84L113.24 282.83L113.77 281.5L114.29 281.64L114.82 282.07L115.34 282.25L115.87 282L116.39 282.04L116.92 282.5L117.44 282.47L117.97 281.83L118.49 282.31L119.02 282.41L119.54 281.97L120.07 282.61L120.59 282.16L121.11 283.03L121.64 282.73L122.16 282.74L122.69 282.48L123.21 282.74L123.74 281.95L124.26 282.38L124.79 283.11L125.31 282.03L125.84 283.42L126.36 282.3L126.89 283.48L127.41 282.8L127.94 283.58L128.46 283.34L128.99 282.63L129.51 283.93L130.03 284.07L130.56 283.43L131.08 283.39L131.61 283.48L132.13 283.16L132.66 284.14L133.18 283.45L133.71 283.71L134.23 283.42L134.76 283.54L135.28 283.3L135.81 284.48L136.33 283.89L136.86 284.44L137.38 284.05L137.91 283.78L138.43 283.99L138.95 283.92L139.48 284.22L140 284.09L140.53 284.17L141.05 283.73L141.58 284.03L142.1 285.18L142.63 284.17L143.15 284.04L143.68 284.71L144.2 285.23L144.73 283.98L145.25 284.58L145.78 284.43L146.3 283.97L146.82 285.13L147.35 284.83L147.87 284.91L148.4 284.58L148.92 285.16L149.45 284.76L149.97 284.97L150.5 284.58L151.02 284.57L151.55 285.75L152.07 284.96L152.6 285.36L153.12 285.25L153.65 285.11L154.17 285.12L154.7 285.67L155.22 285.28L155.74 285.39L156.27 285.5L156.79 286.06L157.32 285.87L157.84 285.78L158.37 285.39L158.89 285.05L159.42 286.14L159.94 286.18L160.47 285.72L160.99 286.06L161.52 286.21L162.04 286.26L162.57 286.34L163.09 285.76L163.62 286.68L164.14 285.47L164.66 286.45L165.19 286.32L165.71 286.53L166.24 287.01L166.76 286.87L167.29 285.72L167.81 285.51L168.34 286.67L168.86 285.88L169.39 286.36L169.91 286.78L170.44 285.69L170.96 285.52L171.49 286.62L172.01 286.55L172.54 286.45L173.06 286.61L173.58 286.24L174.11 285.98L174.63 286.62L175.16 286.29L175.68 286.01L176.21 287.01L176.73 286.79L177.26 287.03L177.78 286.43L178.31 286.61L178.83 286.49L179.36 286.57L179.88 287.09L180.41 286.68L180.93 287.22L181.46 287.24L181.98 288.03L182.5 286.52L183.03 287.58L183.55 287.17L184.08 287.23L184.6 286.61L185.13 287.09L185.65 287.66L186.18 287.32L186.7 287.42L187.23 287.28L187.75 287.96L188.28 287.46L188.8 286.5L189.33 287.21L189.85 286.66L190.38 286.11L190.9 287.37L191.42 288.23L191.95 287.68L192.47 287.16L193 287.29L193.52 288.25L194.05 287.84L194.57 287.82L195.1 287.8L195.62 287.86L196.15 288.24L196.67 288.15L197.2 288.02L197.72 287.48L198.25 288.21L198.77 287.69L199.29 288.52L199.82 287.48L200.34 288.02L200.87 288.1L201.39 287.53L201.92 288.93L202.44 288.84L202.97 288L203.49 288.58L204.02 288.42L204.54 287.1L205.07 288.41L205.59 288.3L206.12 288.39L206.64 287.89L207.17 288.28L207.69 288.34L208.21 288.98L208.74 288.62L209.26 288.49L209.79 289.2L210.31 288.29L210.84 288.39L211.36 287.77L211.89 289.31L212.41 289.07L212.94 289.07L213.46 288.98L213.99 288.75L214.51 288.82L215.04 288.63L215.56 288.67L216.09 288.81L216.61 289.49L217.13 289.08L217.66 288.83L218.18 288.62L218.71 288.61L219.23 289.64L219.76 289.17L220.28 288.99L220.81 288.83L221.33 288.51L221.86 289L222.38 289.44L222.91 288.89L223.43 288.99L223.96 289.01L224.48 289.18L225.01 288.43L225.53 289.06L226.05 288.81L226.58 289.61L227.1 288.88L227.63 289.51L228.15 289.96L228.68 289.15L229.2 289.04L229.73 289.42L230.25 289.35L230.78 288.92L231.3 289.6L231.83 290.31L232.35 289.31L232.88 289.35L233.4 288.99L233.93 289.63L234.45 288.94L234.97 289.02L235.5 290.12L236.02 289.15L236.55 290.06L237.07 290.28L237.6 289.73L238.12 289.88L238.65 290.53L239.17 289.58L239.7 289.42L240.22 289.1L240.75 289.74L241.27 290.41L241.8 290.19L242.32 289.35L242.84 289.41L243.37 289.58L243.89 289.96L244.42 289.75L244.94 289.96L245.47 290.01L245.99 289.76L246.52 289.9L247.04 290.02L247.57 289.91L248.09 290.19L248.62 290.82" stroke="#b9bdd6" stroke-width="1.5" opacity="0.8"/>
<path d="M59.2 271.31L59.4 271.47L59.6 271.63L59.8 271.79L60 271.95L60.2 272.09L60.4 272.24L60.6 272.38L60.8 272.52L61 272.65L61.2 272.78L61.4 272.91L61.61 273.04L61.81 273.16L62.01 273.28L62.21 273.39L62.41 273.51L62.61 273.62L62.81 273.72L63.01 273.83L63.21 273.93L63.41 274.03L63.61 274.13L63.81 274.22L64.01 274.32L64.21 274.41L64.41 274.5L64.61 274.58L64.81 274.67L65.01 274.75L65.21 274.84L65.41 274.92L65.61 274.99L65.81 275.07L66.01 275.15L66.21 275.22L66.42 275.29L66.62 275.36L66.82 275.43L67.02 275.5L67.22 275.57L67.42 275.63L67.62 275.7L67.82 275.76L68.02 275.82L68.22 275.88L68.42 275.94L68.62 276L68.82 276.06L69.02 276.12L69.22 276.17L69.42 276.23L69.62 276.28L69.82 276.34L70.02 276.39L70.22 276.44L70.42 276.49L70.62 276.54L70.82 276.59L71.02 276.64L71.23 276.69L71.43 276.74L71.63 276.78L71.83 276.83L72.03 276.87L72.23 276.92L72.43 276.96L72.63 277.01L72.83 277.05L73.03 277.09L73.23 277.14L73.43 277.18L73.63 277.22L73.83 277.26L74.03 277.3L74.23 277.34L74.43 277.38L74.63 277.42L74.83 277.46L75.03 277.5L75.23 277.54L75.43 277.57L75.63 277.61L75.83 277.65L76.04 277.68L76.24 277.72L76.44 277.76L76.64 277.79L76.84 277.83L77.04 277.86L77.24 277.9L77.44 277.93L77.64 277.97L77.84 278L78.04 278.03L78.24 278.07L78.44 278.1L78.64 278.13L78.84 278.17L79.04 278.2L79.24 278.23L79.44 278.26L79.64 278.3L79.84 278.33L80.04 278.36L80.24 278.39L80.44 278.42L80.64 278.45L80.85 278.48L81.05 278.52L81.25 278.55L81.45 278.58L81.65 278.61L81.85 278.64L82.05 278.67L82.25 278.7L82.45 278.73L82.65 278.76L82.85 278.78L83.05 278.81L83.29 278.85L84.12 278.97L84.95 279.09L85.78 279.2L86.62 279.31L87.45 279.43L88.28 279.54L89.11 279.65L89.94 279.75L90.77 279.86L91.61 279.97L92.44 280.07L93.27 280.18L94.1 280.28L94.93 280.38L95.76 280.48L96.6 280.58L97.43 280.68L98.26 280.78L99.09 280.87L99.92 280.97L100.76 281.07L101.59 281.16L102.42 281.26L103.25 281.35L104.08 281.44L104.91 281.53L105.75 281.62L106.58 281.72L107.41 281.81L108.24 281.89L109.07 281.98L109.9 282.07L110.74 282.16L111.57 282.25L112.4 282.33L113.23 282.42L114.06 282.5L114.9 282.59L115.73 282.67L116.56 282.75L117.39 282.83L118.22 282.92L119.05 283L119.89 283.08L120.72 283.16L121.55 283.24L122.38 283.32L123.21 283.4L124.04 283.47L124.88 283.55L125.71 283.63L126.54 283.7L127.37 283.78L128.2 283.85L129.03 283.93L129.87 284L130.7 284.08L131.53 284.15L132.36 284.22L133.19 284.29L134.03 284.36L134.86 284.43L135.69 284.51L136.52 284.57L137.35 284.64L138.18 284.71L139.02 284.78L139.85 284.85L140.68 284.92L141.51 284.98L142.34 285.05L143.17 285.12L144.01 285.18L144.84 285.25L145.67 285.31L146.5 285.37L147.33 285.44L148.17 285.5L149 285.56L149.83 285.63L150.66 285.69L151.49 285.75L152.32 285.81L153.16 285.87L153.99 285.93L154.82 285.99L155.65 286.05L156.48 286.11L157.31 286.17L158.15 286.22L158.98 286.28L159.81 286.34L160.64 286.4L161.47 286.45L162.31 286.51L163.14 286.56L163.97 286.62L164.8 286.67L165.63 286.73L166.46 286.78L167.3 286.84L168.13 286.89L168.96 286.94L169.79 286.99L170.62 287.05L171.45 287.1L172.29 287.15L173.12 287.2L173.95 287.25L174.78 287.3L175.61 287.35L176.44 287.4L177.28 287.45L178.11 287.5L178.94 287.55L179.77 287.59L180.6 287.64L181.44 287.69L182.27 287.74L183.1 287.78L183.93 287.83L184.76 287.87L185.59 287.92L186.43 287.97L187.26 288.01L188.09 288.06L188.92 288.1L189.75 288.14L190.58 288.19L191.42 288.23L192.25 288.27L193.08 288.32L193.91 288.36L194.74 288.4L195.58 288.44L196.41 288.49L197.24 288.53L198.07 288.57L198.9 288.61L199.73 288.65L200.57 288.69L201.4 288.73L202.23 288.77L203.06 288.81L203.89 288.85L204.72 288.89L205.56 288.92L206.39 288.96L207.22 289L208.05 289.04L208.88 289.08L209.72 289.11L210.55 289.15L211.38 289.19L212.21 289.22L213.04 289.26L213.87 289.29L214.71 289.33L215.54 289.37L216.37 289.4L217.2 289.44L218.03 289.47L218.86 289.5L219.7 289.54L220.53 289.57L221.36 289.61L222.19 289.64L223.02 289.67L223.85 289.7L224.69 289.74L225.52 289.77L226.35 289.8L227.18 289.83L228.01 289.87L228.85 289.9L229.68 289.93L230.51 289.96L231.34 289.99L232.17 290.02L233 290.05L233.84 290.08L234.67 290.11L235.5 290.14L236.33 290.17L237.16 290.2L237.99 290.23L238.83 290.26L239.66 290.29L240.49 290.31L241.32 290.34L242.15 290.37L242.99 290.4L243.82 290.43L244.65 290.45L245.48 290.48L246.31 290.51L247.14 290.53L247.98 290.56L248.81 290.59" stroke="#b9bdd6" stroke-width="1.3"/>
<path d="M59.2 271.12L59.72 272.01L60.25 272.28L60.77 274.2L61.3 274.06L61.82 275.16L62.35 276.98L62.87 277.66L63.4 277.98L63.92 277.94L64.45 279.15L64.97 279.59L65.5 280.73L66.02 281.97L66.55 281.54L67.07 281.54L67.6 281.79L68.12 282.7L68.64 283.03L69.17 282.96L69.69 283.87L70.22 283.63L70.74 284.96L71.27 285.24L71.79 285.53L72.32 285.1L72.84 285.81L73.37 285.76L73.89 285.89L74.42 286.14L74.94 285.93L75.47 286.08L75.99 287.29L76.52 287.04L77.04 287.42L77.56 287.96L78.09 286.91L78.61 287.51L79.14 288.11L79.66 288.38L80.19 288.19L80.71 288.98L81.24 288.77L81.76 288.28L82.29 288.55L82.81 289.48L83.34 289.46L83.86 288.54L84.39 290.13L84.91 289.93L85.44 290.4L85.96 289.75L86.48 289.92L87.01 289.67L87.53 291.44L88.06 290.34L88.58 291.25L89.11 290.36L89.63 290.85L90.16 290.14L90.68 290.83L91.21 291.56L91.73 290.66L92.26 291.82L92.78 291.6L93.31 291.08L93.83 291.43L94.35 291.56L94.88 291.85L95.4 291.73L95.93 291.71L96.45 292.04L96.98 291.82L97.5 291.8L98.03 292.46L98.55 292.98L99.08 291.99L99.6 292.78L100.13 292.58L100.65 292.53L101.18 293.45L101.7 292.92L102.23 293.92L102.75 292.99L103.27 293.61L103.8 293.42L104.32 293.28L104.85 293.97L105.37 293.73L105.9 294.16L106.42 293.95L106.95 293.57L107.47 294.1L108 294.26L108.52 294.75L109.05 294L109.57 294.47L110.1 293.8L110.62 294.95L111.15 294.26L111.67 294.01L112.19 294.88L112.72 295.49L113.24 294.38L113.77 294.66L114.29 294.9L114.82 294.8L115.34 295.56L115.87 295.1L116.39 295.22L116.92 295.88L117.44 295.36L117.97 295.97L118.49 295.41L119.02 295.38L119.54 295.18L120.07 296.91L120.59 296.01L121.11 296.33L121.64 296.28L122.16 296.44L122.69 296.46L123.21 297.37L123.74 296.12L124.26 295.95L124.79 296.27L125.31 296.19L125.84 297.2L126.36 297.3L126.89 296.57L127.41 296.44L127.94 296.98L128.46 297.83L128.99 296L129.51 297.57L130.03 296.92L130.56 297.94L131.08 297.05L131.61 297.47L132.13 296.99L132.66 297.29L133.18 298.41L133.71 298.22L134.23 297.74L134.76 297.59L135.28 297.19L135.81 297.93L136.33 298.15L136.86 298.19L137.38 298.24L137.91 297.84L138.43 298.37L138.95 298.45L139.48 299.1L140 299.42L140.53 298.58L141.05 298.35L141.58 298.73L142.1 298.54L142.63 298.53L143.15 298.9L143.68 298.51L144.2 299.31L144.73 299.05L145.25 299.26L145.78 299.12L146.3 298.93L146.82 298.88L147.35 299.26L147.87 299.17L148.4 299.57L148.92 299.52L149.45 298.96L149.97 299.66L150.5 299.07L151.02 299.45L151.55 299.65L152.07 298.9L152.6 299.92L153.12 300L153.65 299.91L154.17 299.84L154.7 299.91L155.22 299.69L155.74 300.05L156.27 299.98L156.79 300.31L157.32 299.78L157.84 300.47L158.37 300.48L158.89 300.4L159.42 300.31L159.94 300.8L160.47 299.85L160.99 300.85L161.52 300.8L162.04 300.86L162.57 300.95L163.09 300.53L163.62 300.75L164.14 301.2L164.66 301.15L165.19 301.09L165.71 300.36L166.24 301.33L166.76 301.65L167.29 301.62L167.81 301.32L168.34 300.55L168.86 301.72L169.39 301.27L169.91 300.24L170.44 301.59L170.96 300.78L171.49 300.91L172.01 301.25L172.54 302.15L173.06 301.45L173.58 301.78L174.11 302.48L174.63 302.45L175.16 301.72L175.68 301.7L176.21 301.28L176.73 301.57L177.26 302.11L177.78 302.14L178.31 302.04L178.83 302.48L179.36 301.72L179.88 302.08L180.41 302.47L180.93 302.44L181.46 302.69L181.98 302.43L182.5 302.14L183.03 302.48L183.55 301.9L184.08 301.65L184.6 302.68L185.13 302.43L185.65 302.63L186.18 301.76L186.7 302.39L187.23 302.32L187.75 302.23L188.28 301.64L188.8 302.54L189.33 303.12L189.85 302.92L190.38 302.51L190.9 302.81L191.42 303.19L191.95 301.64L192.47 302.85L193 303.18L193.52 303.28L194.05 303.77L194.57 303.54L195.1 303.2L195.62 303.23L196.15 303.48L196.67 302.91L197.2 303.16L197.72 303.62L198.25 304.12L198.77 303.2L199.29 303.27L199.82 303.41L200.34 303.96L200.87 303.37L201.39 304.07L201.92 303L202.44 303.38L202.97 303.4L203.49 303.87L204.02 304.02L204.54 302.89L205.07 303.19L205.59 303.78L206.12 303.36L206.64 303L207.17 304.17L207.69 303.95L208.21 303.98L208.74 303.57L209.26 304.27L209.79 303.73L210.31 304.35L210.84 303.47L211.36 303.52L211.89 304.03L212.41 303.64L212.94 304.29L213.46 304.12L213.99 303.62L214.51 304.09L215.04 303.92L215.56 304.51L216.09 303.84L216.61 303.95L217.13 304.72L217.66 305.2L218.18 305.12L218.71 304.27L219.23 304.36L219.76 304.98L220.28 304.25L220.81 303.89L221.33 304.41L221.86 304.58L222.38 304.02L222.91 303.68L223.43 303.79L223.96 304.76L224.48 304.14L225.01 304.44L225.53 304.62L226.05 304.82L226.58 304.41L227.1 304.81L227.63 304.21L228.15 304.46L228.68 304.19L229.2 305.18L229.73 304.67L230.25 304.37L230.78 304.57L231.3 304.65L231.83 305.08L232.35 304.07L232.88 304.34L233.4 304.65L233.93 305.98L234.45 305.29L234.97 304.83L235.5 305.22L236.02 305.84L236.55 304.83L237.07 304.79L237.6 305.52L238.12 305.21L238.65 305.31L239.17 304.8L239.7 305.91L240.22 305.83L240.75 305.33L241.27 305.4L241.8 304.2L242.32 305.42L242.84 305.06L243.37 305.36L243.89 305.49L244.42 305.04L244.94 304.45L245.47 305.39L245.99 304.91L246.52 305.11L247.04 305.01L247.57 305.14L248.09 304.27L248.62 305.87" stroke="#7a84b0" stroke-width="1.5" opacity="0.8"/>
<path d="M59.2 271.45L59.4 271.9L59.6 272.33L59.8 272.74L60 273.15L60.2 273.55L60.4 273.93L60.6 274.31L60.8 274.68L61 275.03L61.2 275.38L61.4 275.72L61.61 276.05L61.81 276.37L62.01 276.68L62.21 276.99L62.41 277.28L62.61 277.57L62.81 277.86L63.01 278.13L63.21 278.4L63.41 278.66L63.61 278.92L63.81 279.17L64.01 279.41L64.21 279.65L64.41 279.88L64.61 280.11L64.81 280.33L65.01 280.54L65.21 280.75L65.41 280.96L65.61 281.16L65.81 281.36L66.01 281.55L66.21 281.74L66.42 281.92L66.62 282.1L66.82 282.27L67.02 282.45L67.22 282.61L67.42 282.78L67.62 282.94L67.82 283.1L68.02 283.25L68.22 283.4L68.42 283.55L68.62 283.69L68.82 283.84L69.02 283.97L69.22 284.11L69.42 284.24L69.62 284.37L69.82 284.5L70.02 284.63L70.22 284.75L70.42 284.87L70.62 284.99L70.82 285.11L71.02 285.22L71.23 285.34L71.43 285.45L71.63 285.56L71.83 285.66L72.03 285.77L72.23 285.87L72.43 285.97L72.63 286.07L72.83 286.17L73.03 286.27L73.23 286.36L73.43 286.45L73.63 286.55L73.83 286.64L74.03 286.73L74.23 286.81L74.43 286.9L74.63 286.98L74.83 287.07L75.03 287.15L75.23 287.23L75.43 287.31L75.63 287.39L75.83 287.47L76.04 287.55L76.24 287.63L76.44 287.7L76.64 287.78L76.84 287.85L77.04 287.92L77.24 287.99L77.44 288.06L77.64 288.13L77.84 288.2L78.04 288.27L78.24 288.34L78.44 288.41L78.64 288.47L78.84 288.54L79.04 288.6L79.24 288.67L79.44 288.73L79.64 288.79L79.84 288.86L80.04 288.92L80.24 288.98L80.44 289.04L80.64 289.1L80.85 289.16L81.05 289.22L81.25 289.27L81.45 289.33L81.65 289.39L81.85 289.45L82.05 289.5L82.25 289.56L82.45 289.61L82.65 289.67L82.85 289.72L83.05 289.78L83.29 289.84L84.12 290.06L84.95 290.27L85.78 290.48L86.62 290.68L87.45 290.88L88.28 291.07L89.11 291.26L89.94 291.44L90.77 291.62L91.61 291.8L92.44 291.97L93.27 292.15L94.1 292.32L94.93 292.48L95.76 292.65L96.6 292.81L97.43 292.97L98.26 293.13L99.09 293.28L99.92 293.43L100.76 293.59L101.59 293.74L102.42 293.88L103.25 294.03L104.08 294.18L104.91 294.32L105.75 294.46L106.58 294.6L107.41 294.74L108.24 294.88L109.07 295.01L109.9 295.15L110.74 295.28L111.57 295.41L112.4 295.54L113.23 295.67L114.06 295.79L114.9 295.92L115.73 296.05L116.56 296.17L117.39 296.29L118.22 296.41L119.05 296.53L119.89 296.65L120.72 296.77L121.55 296.88L122.38 297L123.21 297.11L124.04 297.23L124.88 297.34L125.71 297.45L126.54 297.56L127.37 297.66L128.2 297.77L129.03 297.88L129.87 297.98L130.7 298.09L131.53 298.19L132.36 298.29L133.19 298.39L134.03 298.49L134.86 298.59L135.69 298.69L136.52 298.79L137.35 298.88L138.18 298.98L139.02 299.07L139.85 299.16L140.68 299.26L141.51 299.35L142.34 299.44L143.17 299.53L144.01 299.62L144.84 299.7L145.67 299.79L146.5 299.88L147.33 299.96L148.17 300.05L149 300.13L149.83 300.21L150.66 300.29L151.49 300.37L152.32 300.45L153.16 300.53L153.99 300.61L154.82 300.69L155.65 300.77L156.48 300.84L157.31 300.92L158.15 300.99L158.98 301.07L159.81 301.14L160.64 301.21L161.47 301.29L162.31 301.36L163.14 301.43L163.97 301.5L164.8 301.57L165.63 301.63L166.46 301.7L167.3 301.77L168.13 301.83L168.96 301.9L169.79 301.97L170.62 302.03L171.45 302.09L172.29 302.16L173.12 302.22L173.95 302.28L174.78 302.34L175.61 302.4L176.44 302.46L177.28 302.52L178.11 302.58L178.94 302.64L179.77 302.7L180.6 302.75L181.44 302.81L182.27 302.87L183.1 302.92L183.93 302.98L184.76 303.03L185.59 303.08L186.43 303.14L187.26 303.19L188.09 303.24L188.92 303.29L189.75 303.35L190.58 303.4L191.42 303.45L192.25 303.5L193.08 303.54L193.91 303.59L194.74 303.64L195.58 303.69L196.41 303.74L197.24 303.78L198.07 303.83L198.9 303.88L199.73 303.92L200.57 303.97L201.4 304.01L202.23 304.05L203.06 304.1L203.89 304.14L204.72 304.18L205.56 304.23L206.39 304.27L207.22 304.31L208.05 304.35L208.88 304.39L209.72 304.43L210.55 304.47L211.38 304.51L212.21 304.55L213.04 304.59L213.87 304.63L214.71 304.66L215.54 304.7L216.37 304.74L217.2 304.78L218.03 304.81L218.86 304.85L219.7 304.88L220.53 304.92L221.36 304.95L222.19 304.99L223.02 305.02L223.85 305.06L224.69 305.09L225.52 305.12L226.35 305.16L227.18 305.19L228.01 305.22L228.85 305.25L229.68 305.28L230.51 305.32L231.34 305.35L232.17 305.38L233 305.41L233.84 305.44L234.67 305.47L235.5 305.5L236.33 305.53L237.16 305.56L237.99 305.58L238.83 305.61L239.66 305.64L240.49 305.67L241.32 305.7L242.15 305.72L242.99 305.75L243.82 305.78L244.65 305.8L245.48 305.83L246.31 305.86L247.14 305.88L247.98 305.91L248.81 305.93" stroke="#7a84b0" stroke-width="1.3"/>
<path d="M59.2 270.9L59.72 273.24L60.25 275.42L60.77 276.18L61.3 276.86L61.82 278.65L62.35 279.78L62.87 281.26L63.4 282.6L63.92 282.66L64.45 284.64L64.97 284.66L65.5 286.27L66.02 286.82L66.55 287.42L67.07 288.17L67.6 288.56L68.12 289.09L68.64 289.14L69.17 290.38L69.69 291.69L70.22 292.2L70.74 292.33L71.27 292.45L71.79 292.21L72.32 293.53L72.84 293.2L73.37 293.53L73.89 293.75L74.42 294.23L74.94 294.29L75.47 294.74L75.99 294.56L76.52 295.15L77.04 296.61L77.56 295.8L78.09 295.98L78.61 296.56L79.14 296.88L79.66 296.29L80.19 296.92L80.71 297.65L81.24 297.57L81.76 297.72L82.29 298.57L82.81 297.77L83.34 298.31L83.86 298.24L84.39 299.34L84.91 297.99L85.44 298.75L85.96 299L86.48 299.73L87.01 299.88L87.53 300.42L88.06 299.26L88.58 300.48L89.11 300.19L89.63 300.19L90.16 300.91L90.68 300.42L91.21 300.07L91.73 301L92.26 300.66L92.78 301.2L93.31 301.82L93.83 301.96L94.35 302.69L94.88 302.04L95.4 301.6L95.93 302.1L96.45 302.18L96.98 302.2L97.5 303.09L98.03 302.76L98.55 302.31L99.08 303.66L99.6 303.44L100.13 303.79L100.65 303.82L101.18 304.2L101.7 304.08L102.23 304.75L102.75 304.53L103.27 304.65L103.8 304.8L104.32 304.09L104.85 304.81L105.37 304.9L105.9 305.24L106.42 304.67L106.95 306.14L107.47 305.58L108 305.12L108.52 305.02L109.05 305.79L109.57 306L110.1 305.84L110.62 306.33L111.15 306.12L111.67 306.78L112.19 306.33L112.72 306.76L113.24 307.33L113.77 308.17L114.29 306.67L114.82 307.03L115.34 306.98L115.87 307.83L116.39 307.07L116.92 307.48L117.44 307.8L117.97 307.48L118.49 307.6L119.02 307.92L119.54 307.3L120.07 307.7L120.59 308.27L121.11 308.63L121.64 308.59L122.16 307.98L122.69 308.67L123.21 309.34L123.74 309.33L124.26 309.15L124.79 308.88L125.31 309.67L125.84 309.22L126.36 309.05L126.89 309.31L127.41 310.42L127.94 309.97L128.46 310.48L128.99 309.84L129.51 310.57L130.03 309.97L130.56 310.26L131.08 311.54L131.61 310.86L132.13 310.38L132.66 310.66L133.18 310.93L133.71 311.41L134.23 310.74L134.76 310.26L135.28 311L135.81 311.22L136.33 311.35L136.86 311.97L137.38 311.61L137.91 311.91L138.43 311.13L138.95 312.1L139.48 312.73L140 312.22L140.53 312.06L141.05 312.1L141.58 312.91L142.1 311.77L142.63 312.21L143.15 312.55L143.68 312.75L144.2 312.29L144.73 312.7L145.25 312.51L145.78 312.77L146.3 312.73L146.82 312.34L147.35 312.92L147.87 313.39L148.4 312.64L148.92 313.03L149.45 313.51L149.97 312.8L150.5 313.43L151.02 312.94L151.55 313.99L152.07 314.59L152.6 314.53L153.12 313.58L153.65 314.08L154.17 313.87L154.7 313.92L155.22 314.64L155.74 313.41L156.27 314.54L156.79 314.11L157.32 314.83L157.84 314.34L158.37 314.01L158.89 314.5L159.42 314.77L159.94 314.51L160.47 314.77L160.99 314.38L161.52 313.71L162.04 315.13L162.57 315.1L163.09 314.91L163.62 314.93L164.14 315.42L164.66 314.81L165.19 314.75L165.71 315.04L166.24 315.71L166.76 314.61L167.29 315.82L167.81 315.05L168.34 314.89L168.86 316.01L169.39 315.45L169.91 314.96L170.44 315.43L170.96 316.07L171.49 316.23L172.01 315.55L172.54 315.98L173.06 316.17L173.58 315.6L174.11 316.1L174.63 315.98L175.16 315.8L175.68 315.86L176.21 316.16L176.73 316.19L177.26 315.97L177.78 316.08L178.31 316.82L178.83 316.46L179.36 316.81L179.88 316.99L180.41 316.76L180.93 317.56L181.46 316.21L181.98 316.99L182.5 316.53L183.03 317.55L183.55 317.52L184.08 315.92L184.6 316.4L185.13 317.18L185.65 317.27L186.18 317.29L186.7 316.97L187.23 317.24L187.75 317.37L188.28 317.08L188.8 317.62L189.33 316.18L189.85 317.52L190.38 316.81L190.9 317.74L191.42 317.25L191.95 316.99L192.47 317.59L193 317.05L193.52 317.09L194.05 316.83L194.57 317.56L195.1 317.83L195.62 318.1L196.15 317.61L196.67 318.18L197.2 317.75L197.72 317.74L198.25 318.07L198.77 318.32L199.29 317.72L199.82 317.8L200.34 317.87L200.87 318.01L201.39 317.6L201.92 318.5L202.44 317.89L202.97 318.31L203.49 317.77L204.02 318.33L204.54 318.38L205.07 318.04L205.59 319.17L206.12 318.46L206.64 319.12L207.17 318.78L207.69 318.08L208.21 318.24L208.74 318.63L209.26 318.49L209.79 318.52L210.31 318.4L210.84 317.74L211.36 318.48L211.89 317.61L212.41 318.8L212.94 318.34L213.46 318.37L213.99 318.62L214.51 318.87L215.04 318.13L215.56 318.01L216.09 318.34L216.61 317.93L217.13 318.44L217.66 319.62L218.18 318.45L218.71 319.24L219.23 318.36L219.76 319.13L220.28 318.88L220.81 319.02L221.33 319.33L221.86 319.89L222.38 319.21L222.91 319.2L223.43 318.73L223.96 319.45L224.48 319.1L225.01 319.61L225.53 319.24L226.05 320.07L226.58 318.41L227.1 319.19L227.63 319.75L228.15 319.21L228.68 319.04L229.2 319.29L229.73 318.81L230.25 319.51L230.78 320.58L231.3 320.01L231.83 319.02L232.35 319.15L232.88 319.38L233.4 320.03L233.93 319.23L234.45 319.31L234.97 320.04L235.5 320.05L236.02 319.51L236.55 319.2L237.07 319.02L237.6 319.42L238.12 318.75L238.65 320.11L239.17 319.51L239.7 320.03L240.22 320.67L240.75 320.38L241.27 319.35L241.8 320.28L242.32 320.42L242.84 319.58L243.37 319.51L243.89 319.91L244.42 319.25L244.94 320.65L245.47 318.92L245.99 319.52L246.52 319.92L247.04 319.95L247.57 320.15L248.09 320.21L248.62 320.01" stroke="#42548f" stroke-width="1.5" opacity="0.8"/>
<path d="M59.2 271.39L59.4 272.15L59.6 272.89L59.8 273.61L60 274.3L60.2 274.97L60.4 275.62L60.6 276.25L60.8 276.85L61 277.44L61.2 278.01L61.4 278.56L61.61 279.09L61.81 279.6L62.01 280.1L62.21 280.59L62.41 281.05L62.61 281.51L62.81 281.95L63.01 282.37L63.21 282.79L63.41 283.19L63.61 283.58L63.81 283.96L64.01 284.32L64.21 284.68L64.41 285.02L64.61 285.36L64.81 285.69L65.01 286L65.21 286.31L65.41 286.61L65.61 286.9L65.81 287.18L66.01 287.46L66.21 287.73L66.42 287.99L66.62 288.25L66.82 288.49L67.02 288.74L67.22 288.97L67.42 289.2L67.62 289.43L67.82 289.64L68.02 289.86L68.22 290.07L68.42 290.27L68.62 290.47L68.82 290.66L69.02 290.85L69.22 291.04L69.42 291.22L69.62 291.4L69.82 291.58L70.02 291.75L70.22 291.91L70.42 292.08L70.62 292.24L70.82 292.39L71.02 292.55L71.23 292.7L71.43 292.85L71.63 293L71.83 293.14L72.03 293.28L72.23 293.42L72.43 293.55L72.63 293.69L72.83 293.82L73.03 293.95L73.23 294.07L73.43 294.2L73.63 294.32L73.83 294.44L74.03 294.56L74.23 294.68L74.43 294.8L74.63 294.91L74.83 295.03L75.03 295.14L75.23 295.25L75.43 295.36L75.63 295.46L75.83 295.57L76.04 295.68L76.24 295.78L76.44 295.88L76.64 295.98L76.84 296.08L77.04 296.18L77.24 296.28L77.44 296.38L77.64 296.47L77.84 296.57L78.04 296.66L78.24 296.75L78.44 296.85L78.64 296.94L78.84 297.03L79.04 297.12L79.24 297.21L79.44 297.29L79.64 297.38L79.84 297.47L80.04 297.55L80.24 297.64L80.44 297.72L80.64 297.81L80.85 297.89L81.05 297.97L81.25 298.05L81.45 298.14L81.65 298.22L81.85 298.3L82.05 298.38L82.25 298.46L82.45 298.53L82.65 298.61L82.85 298.69L83.05 298.77L83.29 298.86L84.12 299.17L84.95 299.48L85.78 299.78L86.62 300.07L87.45 300.36L88.28 300.64L89.11 300.92L89.94 301.19L90.77 301.46L91.61 301.73L92.44 301.99L93.27 302.25L94.1 302.5L94.93 302.75L95.76 302.99L96.6 303.24L97.43 303.48L98.26 303.71L99.09 303.95L99.92 304.18L100.76 304.4L101.59 304.63L102.42 304.85L103.25 305.07L104.08 305.28L104.91 305.5L105.75 305.71L106.58 305.92L107.41 306.12L108.24 306.32L109.07 306.52L109.9 306.72L110.74 306.92L111.57 307.11L112.4 307.3L113.23 307.49L114.06 307.68L114.9 307.86L115.73 308.04L116.56 308.22L117.39 308.4L118.22 308.57L119.05 308.75L119.89 308.92L120.72 309.09L121.55 309.25L122.38 309.42L123.21 309.58L124.04 309.74L124.88 309.9L125.71 310.06L126.54 310.21L127.37 310.36L128.2 310.52L129.03 310.66L129.87 310.81L130.7 310.96L131.53 311.1L132.36 311.24L133.19 311.38L134.03 311.52L134.86 311.66L135.69 311.8L136.52 311.93L137.35 312.06L138.18 312.19L139.02 312.32L139.85 312.45L140.68 312.57L141.51 312.7L142.34 312.82L143.17 312.94L144.01 313.06L144.84 313.18L145.67 313.3L146.5 313.41L147.33 313.53L148.17 313.64L149 313.75L149.83 313.86L150.66 313.97L151.49 314.08L152.32 314.18L153.16 314.29L153.99 314.39L154.82 314.49L155.65 314.59L156.48 314.69L157.31 314.79L158.15 314.89L158.98 314.99L159.81 315.08L160.64 315.17L161.47 315.27L162.31 315.36L163.14 315.45L163.97 315.54L164.8 315.63L165.63 315.71L166.46 315.8L167.3 315.88L168.13 315.97L168.96 316.05L169.79 316.13L170.62 316.21L171.45 316.29L172.29 316.37L173.12 316.45L173.95 316.53L174.78 316.6L175.61 316.68L176.44 316.75L177.28 316.83L178.11 316.9L178.94 316.97L179.77 317.04L180.6 317.11L181.44 317.18L182.27 317.25L183.1 317.32L183.93 317.38L184.76 317.45L185.59 317.51L186.43 317.58L187.26 317.64L188.09 317.7L188.92 317.77L189.75 317.83L190.58 317.89L191.42 317.95L192.25 318.01L193.08 318.07L193.91 318.12L194.74 318.18L195.58 318.24L196.41 318.29L197.24 318.35L198.07 318.4L198.9 318.45L199.73 318.51L200.57 318.56L201.4 318.61L202.23 318.66L203.06 318.71L203.89 318.76L204.72 318.81L205.56 318.86L206.39 318.91L207.22 318.95L208.05 319L208.88 319.05L209.72 319.09L210.55 319.14L211.38 319.18L212.21 319.23L213.04 319.27L213.87 319.31L214.71 319.35L215.54 319.4L216.37 319.44L217.2 319.48L218.03 319.52L218.86 319.56L219.7 319.6L220.53 319.64L221.36 319.67L222.19 319.71L223.02 319.75L223.85 319.79L224.69 319.82L225.52 319.86L226.35 319.9L227.18 319.93L228.01 319.97L228.85 320L229.68 320.03L230.51 320.07L231.34 320.1L232.17 320.13L233 320.17L233.84 320.2L234.67 320.23L235.5 320.26L236.33 320.29L237.16 320.32L237.99 320.35L238.83 320.38L239.66 320.41L240.49 320.44L241.32 320.47L242.15 320.5L242.99 320.52L243.82 320.55L244.65 320.58L245.48 320.61L246.31 320.63L247.14 320.66L247.98 320.69L248.81 320.71" stroke="#42548f" stroke-width="1.3"/>
<path d="M59.2 271.34L59.72 272.59L60.25 276.11L60.77 278.19L61.3 280.83L61.82 282.99L62.35 284.48L62.87 286.48L63.4 288.9L63.92 290.37L64.45 291.49L64.97 294.2L65.5 295.73L66.02 295.36L66.55 297.41L67.07 299.6L67.6 299.95L68.12 300.77L68.64 301.6L69.17 302.41L69.69 303.48L70.22 304.21L70.74 305.62L71.27 305.9L71.79 306.64L72.32 307.03L72.84 308.24L73.37 308.52L73.89 309.48L74.42 310.64L74.94 310.92L75.47 311.54L75.99 312.02L76.52 312.4L77.04 312.82L77.56 313.22L78.09 314.17L78.61 313.79L79.14 315.32L79.66 315.15L80.19 315.21L80.71 315.72L81.24 316.02L81.76 316.77L82.29 316.73L82.81 317.92L83.34 317.4L83.86 317.06L84.39 318.08L84.91 317.82L85.44 319.01L85.96 319.81L86.48 319.92L87.01 319.31L87.53 319.85L88.06 321.27L88.58 320.88L89.11 321L89.63 321.73L90.16 322.61L90.68 322.34L91.21 322.06L91.73 322.39L92.26 322.74L92.78 322.42L93.31 322.44L93.83 323.16L94.35 322.93L94.88 323.54L95.4 323.82L95.93 325.04L96.45 323.81L96.98 324.33L97.5 324.51L98.03 324.97L98.55 325.44L99.08 324.93L99.6 324.97L100.13 324.78L100.65 325.28L101.18 326.12L101.7 326.07L102.23 325.77L102.75 326.22L103.27 326.57L103.8 326.95L104.32 326.62L104.85 326.93L105.37 326.38L105.9 326.84L106.42 328.24L106.95 326.67L107.47 327.66L108 328.05L108.52 327.93L109.05 327.88L109.57 328.36L110.1 328.52L110.62 328.62L111.15 327.95L111.67 328.86L112.19 328.68L112.72 328.95L113.24 329.42L113.77 329.74L114.29 329.98L114.82 329.47L115.34 330.24L115.87 330.47L116.39 330.57L116.92 330.8L117.44 330.23L117.97 330.33L118.49 330.89L119.02 330.02L119.54 330.84L120.07 330.61L120.59 330.79L121.11 330.28L121.64 330.77L122.16 331.27L122.69 331.78L123.21 331.92L123.74 331.54L124.26 331.59L124.79 331.4L125.31 332.05L125.84 331.85L126.36 332.33L126.89 332.94L127.41 332.23L127.94 331.66L128.46 332.03L128.99 331.85L129.51 332.06L130.03 333.27L130.56 332.87L131.08 332.17L131.61 333.23L132.13 333.58L132.66 332.93L133.18 332.87L133.71 333.1L134.23 333.46L134.76 333.7L135.28 334.02L135.81 334.1L136.33 334.17L136.86 334.32L137.38 334.08L137.91 333.16L138.43 333.86L138.95 334.13L139.48 333.89L140 334.54L140.53 334.03L141.05 333.84L141.58 334.97L142.1 334.69L142.63 334.55L143.15 334.93L143.68 335.05L144.2 334.79L144.73 333.59L145.25 334.45L145.78 334.61L146.3 334.43L146.82 335.02L147.35 335.53L147.87 334.83L148.4 334.59L148.92 336.07L149.45 335.01L149.97 334.71L150.5 335.42L151.02 335.56L151.55 335.1L152.07 335.83L152.6 335.3L153.12 335.16L153.65 335.7L154.17 336.02L154.7 335.43L155.22 335.91L155.74 335.77L156.27 337.13L156.79 335.58L157.32 336.57L157.84 335.97L158.37 335.98L158.89 336.41L159.42 336.53L159.94 336.74L160.47 336.36L160.99 335.98L161.52 336.05L162.04 336.56L162.57 336.63L163.09 337.04L163.62 336.64L164.14 336.96L164.66 337.21L165.19 336.64L165.71 335.93L166.24 336.1L166.76 336.02L167.29 337.42L167.81 336.36L168.34 337.33L168.86 337.07L169.39 337.62L169.91 337.33L170.44 336.86L170.96 336.85L171.49 337.01L172.01 337.09L172.54 336.8L173.06 337.05L173.58 337.82L174.11 336.36L174.63 337.28L175.16 336.78L175.68 337.3L176.21 337.63L176.73 337.25L177.26 337.65L177.78 336.62L178.31 337.86L178.83 337.11L179.36 337.69L179.88 337.52L180.41 336.3L180.93 337.15L181.46 337.62L181.98 338.24L182.5 337.7L183.03 337.71L183.55 336.98L184.08 338.28L184.6 338.48L185.13 337.7L185.65 337.61L186.18 337L186.7 338.15L187.23 338.99L187.75 338.12L188.28 338.39L188.8 338.09L189.33 337.42L189.85 338.49L190.38 337.35L190.9 337.83L191.42 338.07L191.95 338.36L192.47 338.17L193 338.18L193.52 337.68L194.05 337.46L194.57 338.09L195.1 337.76L195.62 337.51L196.15 337.55L196.67 337.91L197.2 337.32L197.72 337.56L198.25 337.45L198.77 338.28L199.29 338.4L199.82 339.14L200.34 337.58L200.87 337.96L201.39 338.69L201.92 338.2L202.44 338.17L202.97 339.1L203.49 338.19L204.02 337.84L204.54 337.78L205.07 338.54L205.59 338.54L206.12 337.8L206.64 337.99L207.17 338.69L207.69 338.72L208.21 338.18L208.74 338.77L209.26 338.76L209.79 337.71L210.31 338.38L210.84 338.72L211.36 338.29L211.89 337.6L212.41 338.45L212.94 338.93L213.46 339.31L213.99 337.63L214.51 339.8L215.04 338.13L215.56 339.08L216.09 339.21L216.61 339.11L217.13 338.75L217.66 338.17L218.18 338.98L218.71 338.39L219.23 337.59L219.76 340L220.28 339.06L220.81 339.57L221.33 338.35L221.86 339.43L222.38 339.5L222.91 339.49L223.43 338.79L223.96 338.27L224.48 338.74L225.01 337.84L225.53 338.07L226.05 338.89L226.58 338.41L227.1 338.79L227.63 338.82L228.15 339.75L228.68 339.47L229.2 338.88L229.73 339.45L230.25 338.56L230.78 338.77L231.3 339.34L231.83 338.38L232.35 338.82L232.88 338.36L233.4 339.01L233.93 339.7L234.45 338.64L234.97 339.08L235.5 338.58L236.02 338.48L236.55 338.45L237.07 339.66L237.6 340.08L238.12 339.24L238.65 338.71L239.17 339.35L239.7 338.89L240.22 339.41L240.75 339.19L241.27 339.19L241.8 339.34L242.32 338.81L242.84 338.9L243.37 338.31L243.89 338.89L244.42 338.46L244.94 339.04L245.47 338.68L245.99 339.16L246.52 339.32L247.04 338.48L247.57 338.76L248.09 338.71L248.62 339.48" stroke="#1e3f7c" stroke-width="1.5" opacity="0.8"/>
<path d="M59.2 271.43L59.4 272.49L59.6 273.53L59.8 274.54L60 275.52L60.2 276.49L60.4 277.43L60.6 278.34L60.8 279.24L61 280.12L61.2 280.97L61.4 281.81L61.61 282.62L61.81 283.42L62.01 284.2L62.21 284.96L62.41 285.71L62.61 286.43L62.81 287.14L63.01 287.84L63.21 288.52L63.41 289.18L63.61 289.83L63.81 290.47L64.01 291.09L64.21 291.69L64.41 292.29L64.61 292.87L64.81 293.44L65.01 293.99L65.21 294.54L65.41 295.07L65.61 295.59L65.81 296.1L66.01 296.6L66.21 297.09L66.42 297.57L66.62 298.04L66.82 298.5L67.02 298.95L67.22 299.39L67.42 299.82L67.62 300.25L67.82 300.66L68.02 301.07L68.22 301.47L68.42 301.86L68.62 302.24L68.82 302.62L69.02 302.99L69.22 303.35L69.42 303.71L69.62 304.05L69.82 304.4L70.02 304.73L70.22 305.06L70.42 305.38L70.62 305.7L70.82 306.01L71.02 306.32L71.23 306.62L71.43 306.91L71.63 307.2L71.83 307.49L72.03 307.77L72.23 308.04L72.43 308.32L72.63 308.58L72.83 308.84L73.03 309.1L73.23 309.35L73.43 309.6L73.63 309.85L73.83 310.09L74.03 310.32L74.23 310.56L74.43 310.79L74.63 311.01L74.83 311.24L75.03 311.46L75.23 311.67L75.43 311.88L75.63 312.09L75.83 312.3L76.04 312.5L76.24 312.7L76.44 312.9L76.64 313.1L76.84 313.29L77.04 313.48L77.24 313.66L77.44 313.85L77.64 314.03L77.84 314.21L78.04 314.39L78.24 314.56L78.44 314.73L78.64 314.9L78.84 315.07L79.04 315.24L79.24 315.4L79.44 315.56L79.64 315.72L79.84 315.88L80.04 316.03L80.24 316.19L80.44 316.34L80.64 316.49L80.85 316.64L81.05 316.78L81.25 316.93L81.45 317.07L81.65 317.21L81.85 317.35L82.05 317.49L82.25 317.63L82.45 317.77L82.65 317.9L82.85 318.03L83.05 318.16L83.29 318.32L84.12 318.84L84.95 319.35L85.78 319.83L86.62 320.3L87.45 320.75L88.28 321.18L89.11 321.6L89.94 322L90.77 322.4L91.61 322.78L92.44 323.15L93.27 323.5L94.1 323.85L94.93 324.19L95.76 324.52L96.6 324.84L97.43 325.16L98.26 325.46L99.09 325.76L99.92 326.05L100.76 326.34L101.59 326.61L102.42 326.88L103.25 327.15L104.08 327.41L104.91 327.66L105.75 327.91L106.58 328.15L107.41 328.39L108.24 328.62L109.07 328.85L109.9 329.07L110.74 329.29L111.57 329.5L112.4 329.71L113.23 329.92L114.06 330.12L114.9 330.32L115.73 330.51L116.56 330.7L117.39 330.88L118.22 331.06L119.05 331.24L119.89 331.41L120.72 331.59L121.55 331.75L122.38 331.92L123.21 332.08L124.04 332.24L124.88 332.39L125.71 332.54L126.54 332.69L127.37 332.83L128.2 332.98L129.03 333.12L129.87 333.25L130.7 333.39L131.53 333.52L132.36 333.65L133.19 333.78L134.03 333.9L134.86 334.02L135.69 334.14L136.52 334.26L137.35 334.37L138.18 334.49L139.02 334.6L139.85 334.71L140.68 334.81L141.51 334.92L142.34 335.02L143.17 335.12L144.01 335.22L144.84 335.31L145.67 335.41L146.5 335.5L147.33 335.59L148.17 335.68L149 335.76L149.83 335.85L150.66 335.93L151.49 336.02L152.32 336.1L153.16 336.18L153.99 336.25L154.82 336.33L155.65 336.4L156.48 336.48L157.31 336.55L158.15 336.62L158.98 336.69L159.81 336.75L160.64 336.82L161.47 336.89L162.31 336.95L163.14 337.01L163.97 337.07L164.8 337.13L165.63 337.19L166.46 337.25L167.3 337.31L168.13 337.36L168.96 337.42L169.79 337.47L170.62 337.52L171.45 337.57L172.29 337.62L173.12 337.67L173.95 337.72L174.78 337.77L175.61 337.81L176.44 337.86L177.28 337.91L178.11 337.95L178.94 337.99L179.77 338.03L180.6 338.08L181.44 338.12L182.27 338.16L183.1 338.19L183.93 338.23L184.76 338.27L185.59 338.31L186.43 338.34L187.26 338.38L188.09 338.41L188.92 338.45L189.75 338.48L190.58 338.51L191.42 338.54L192.25 338.58L193.08 338.61L193.91 338.64L194.74 338.67L195.58 338.7L196.41 338.72L197.24 338.75L198.07 338.78L198.9 338.81L199.73 338.83L200.57 338.86L201.4 338.88L202.23 338.91L203.06 338.93L203.89 338.96L204.72 338.98L205.56 339L206.39 339.02L207.22 339.05L208.05 339.07L208.88 339.09L209.72 339.11L210.55 339.13L211.38 339.15L212.21 339.17L213.04 339.19L213.87 339.21L214.71 339.23L215.54 339.24L216.37 339.26L217.2 339.28L218.03 339.3L218.86 339.31L219.7 339.33L220.53 339.35L221.36 339.36L222.19 339.38L223.02 339.39L223.85 339.41L224.69 339.42L225.52 339.44L226.35 339.45L227.18 339.46L228.01 339.48L228.85 339.49L229.68 339.5L230.51 339.52L231.34 339.53L232.17 339.54L233 339.55L233.84 339.57L234.67 339.58L235.5 339.59L236.33 339.6L237.16 339.61L237.99 339.62L238.83 339.63L239.66 339.64L240.49 339.65L241.32 339.66L242.15 339.67L242.99 339.68L243.82 339.69L244.65 339.7L245.48 339.71L246.31 339.72L247.14 339.72L247.98 339.73L248.81 339.74" stroke="#1e3f7c" stroke-width="1.3"/>
<path d="M59.2 275.7L59.4 279.35L59.6 282.1L59.8 284.27L60 286.04L60.2 287.56L60.4 288.91L60.6 290.14L60.8 291.3L61 292.4L61.2 293.46L61.4 294.49L61.61 295.51L61.81 296.51L62.01 297.49L62.21 298.47L62.41 299.43L62.61 300.39L62.81 301.34L63.01 302.28L63.21 303.22L63.41 304.15L63.61 305.07L63.81 305.98L64.01 306.89L64.21 307.79L64.41 308.69L64.61 309.58L64.81 310.46L65.01 311.34L65.21 312.21L65.41 313.07L65.61 313.93L65.81 314.78L66.01 315.63L66.21 316.47L66.42 317.3L66.62 318.13L66.82 318.95L67.02 319.77L67.22 320.58L67.42 321.38L67.62 322.18L67.82 322.98L68.02 323.77L68.22 324.55L68.42 325.33L68.62 326.1L68.82 326.86L69.02 327.62L69.22 328.38L69.42 329.13L69.62 329.87L69.82 330.61L70.02 331.35L70.22 332.07L70.42 332.8L70.62 333.52L70.82 334.23L71.02 334.94L71.23 335.64L71.43 336.34L71.63 337.03L71.83 337.72L72.03 338.41L72.23 339.09L72.43 339.76L72.63 340.43L72.83 341.09L73.03 341.75L73.23 342.41L73.43 343.06L73.63 343.71L73.83 344.35L74.03 344.98L74.23 345.62L74.43 346.24L74.63 346.87L74.83 347.49L75.03 348.1L75.23 348.71L75.43 349.32L75.63 349.92L75.83 350.52L76.04 351.11L76.24 351.7L76.44 352.29L76.64 352.87L76.84 353.44L77.04 354.02L77.24 354.58L77.44 355.15L77.64 355.71L77.84 356.27L78.04 356.82L78.24 357.37L78.44 357.91L78.64 358.45L78.84 358.99L79.04 359.52L79.24 360.05L79.44 360.58L79.64 361.1L79.84 361.62L80.04 362.13L80.24 362.65L80.44 363.15L80.64 363.66L80.85 364.16L81.05 364.65L81.25 365.15L81.45 365.64L81.65 366.12L81.85 366.61L82.05 367.09L82.25 367.56L82.45 368.03L82.65 368.5L82.85 368.97L83.05 369.43L83.29 369.98L84.12 371.85L84.95 373.67L85.78 375.43L86.62 377.14L87.45 378.8L88.28 380.42L89.11 381.98L89.94 383.51L90.77 384.98L91.61 386.42L92.44 387.81L93.27 389.16L94.1 390.48L94.93 391.75L95.76 392.99L96.6 394.19L97.43 395.36L98.26 396.49L99.09 397.59L99.92 398.66L100.76 399.7L101.59 400.71L102.42 401.69L103.25 402.64L104.08 403.56L104.91 404.45L105.75 405.32L106.58 406.17L107.41 406.99L108.24 407.78L109.07 408.56L109.9 409.31L110.74 410.04L111.57 410.74L112.4 411.43L113.23 412.1L114.06 412.74L114.9 413.37L115.73 413.98L116.56 414.58L117.39 415.15L118.22 415.71L119.05 416.25L119.89 416.78L120.72 417.29L121.55 417.79L122.38 418.27L123.21 418.74L124.04 419.2L124.88 419.64L125.71 420.07L126.54 420.48L127.37 420.89L128.2 421.28L129.03 421.66L129.87 422.03L130.7 422.39L131.53 422.74L132.36 423.08L133.19 423.41L134.03 423.73L134.86 424.04L135.69 424.34L136.52 424.63L137.35 424.91L138.18 425.19L139.02 425.46L139.85 425.72L140.68 425.97L141.51 426.22L142.34 426.45L143.17 426.68L144.01 426.91L144.84 427.13L145.67 427.34L146.5 427.54L147.33 427.74L148.17 427.94L149 428.12L149.83 428.31L150.66 428.48L151.49 428.66L152.32 428.82L153.16 428.99L153.99 429.14L154.82 429.3L155.65 429.45L156.48 429.59L157.31 429.73L158.15 429.87L158.98 430L159.81 430.13L160.64 430.25L161.47 430.37L162.31 430.49L163.14 430.6L163.97 430.71L164.8 430.82L165.63 430.92L166.46 431.03L167.3 431.12L168.13 431.22L168.96 431.31L169.79 431.4L170.62 431.49L171.45 431.57L172.29 431.66L173.12 431.74L173.95 431.81L174.78 431.89L175.61 431.96L176.44 432.03L177.28 432.1L178.11 432.17L178.94 432.24L179.77 432.3L180.6 432.36L181.44 432.42L182.27 432.48L183.1 432.53L183.93 432.59L184.76 432.64L185.59 432.69L186.43 432.74L187.26 432.79L188.09 432.84L188.92 432.88L189.75 432.93L190.58 432.97L191.42 433.01L192.25 433.05L193.08 433.09L193.91 433.13L194.74 433.17L195.58 433.21L196.41 433.24L197.24 433.27L198.07 433.31L198.9 433.34L199.73 433.37L200.57 433.4L201.4 433.43L202.23 433.46L203.06 433.49L203.89 433.51L204.72 433.54L205.56 433.57L206.39 433.59L207.22 433.61L208.05 433.64L208.88 433.66L209.72 433.68L210.55 433.7L211.38 433.72L212.21 433.74L213.04 433.76L213.87 433.78L214.71 433.8L215.54 433.82L216.37 433.84L217.2 433.85L218.03 433.87L218.86 433.88L219.7 433.9L220.53 433.91L221.36 433.93L222.19 433.94L223.02 433.96L223.85 433.97L224.69 433.98L225.52 434L226.35 434.01L227.18 434.02L228.01 434.03L228.85 434.04L229.68 434.05L230.51 434.06L231.34 434.07L232.17 434.08L233 434.09L233.84 434.1L234.67 434.11L235.5 434.12L236.33 434.13L237.16 434.14L237.99 434.15L238.83 434.15L239.66 434.16L240.49 434.17L241.32 434.18L242.15 434.18L242.99 434.19L243.82 434.2L244.65 434.2L245.48 434.21L246.31 434.21L247.14 434.22L247.98 434.23L248.81 434.23" stroke="#e9b7a8" stroke-width="1.9" opacity="0.85"/>
<path d="M59.2 276L59.4 279.65L59.6 282.4L59.8 284.57L60 286.34L60.2 287.86L60.4 289.21L60.6 290.44L60.8 291.6L61 292.7L61.2 293.76L61.4 294.79L61.61 295.81L61.81 296.81L62.01 297.79L62.21 298.77L62.41 299.73L62.61 300.69L62.81 301.64L63.01 302.58L63.21 303.52L63.41 304.45L63.61 305.37L63.81 306.28L64.01 307.19L64.21 308.09L64.41 308.99L64.61 309.88L64.81 310.76L65.01 311.64L65.21 312.51L65.41 313.37L65.61 314.23L65.81 315.08L66.01 315.93L66.21 316.77L66.42 317.6L66.62 318.43L66.82 319.25L67.02 320.07L67.22 320.88L67.42 321.68L67.62 322.48L67.82 323.28L68.02 324.07L68.22 324.85L68.42 325.63L68.62 326.4L68.82 327.16L69.02 327.92L69.22 328.68L69.42 329.43L69.62 330.17L69.82 330.91L70.02 331.65L70.22 332.37L70.42 333.1L70.62 333.82L70.82 334.53L71.02 335.24L71.23 335.94L71.43 336.64L71.63 337.33L71.83 338.02L72.03 338.71L72.23 339.39L72.43 340.06L72.63 340.73L72.83 341.39L73.03 342.05L73.23 342.71L73.43 343.36L73.63 344.01L73.83 344.65L74.03 345.28L74.23 345.92L74.43 346.54L74.63 347.17L74.83 347.79L75.03 348.4L75.23 349.01L75.43 349.62L75.63 350.22L75.83 350.82L76.04 351.41L76.24 352L76.44 352.59L76.64 353.17L76.84 353.74L77.04 354.32L77.24 354.88L77.44 355.45L77.64 356.01L77.84 356.57L78.04 357.12L78.24 357.67L78.44 358.21L78.64 358.75L78.84 359.29L79.04 359.82L79.24 360.35L79.44 360.88L79.64 361.4L79.84 361.92L80.04 362.43L80.24 362.95L80.44 363.45L80.64 363.96L80.85 364.46L81.05 364.95L81.25 365.45L81.45 365.94L81.65 366.42L81.85 366.91L82.05 367.39L82.25 367.86L82.45 368.33L82.65 368.8L82.85 369.27L83.05 369.73L83.29 370.28L84.12 372.15L84.95 373.97L85.78 375.73L86.62 377.44L87.45 379.1L88.28 380.72L89.11 382.28L89.94 383.81L90.77 385.28L91.61 386.72L92.44 388.11L93.27 389.46L94.1 390.78L94.93 392.05L95.76 393.29L96.6 394.49L97.43 395.66L98.26 396.79L99.09 397.89L99.92 398.96L100.76 400L101.59 401.01L102.42 401.99L103.25 402.94L104.08 403.86L104.91 404.75L105.75 405.62L106.58 406.47L107.41 407.29L108.24 408.08L109.07 408.86L109.9 409.61L110.74 410.34L111.57 411.04L112.4 411.73L113.23 412.4L114.06 413.04L114.9 413.67L115.73 414.28L116.56 414.88L117.39 415.45L118.22 416.01L119.05 416.55L119.89 417.08L120.72 417.59L121.55 418.09L122.38 418.57L123.21 419.04L124.04 419.5L124.88 419.94L125.71 420.37L126.54 420.78L127.37 421.19L128.2 421.58L129.03 421.96L129.87 422.33L130.7 422.69L131.53 423.04L132.36 423.38L133.19 423.71L134.03 424.03L134.86 424.34L135.69 424.64L136.52 424.93L137.35 425.21L138.18 425.49L139.02 425.76L139.85 426.02L140.68 426.27L141.51 426.52L142.34 426.75L143.17 426.98L144.01 427.21L144.84 427.43L145.67 427.64L146.5 427.84L147.33 428.04L148.17 428.24L149 428.42L149.83 428.61L150.66 428.78L151.49 428.96L152.32 429.12L153.16 429.29L153.99 429.44L154.82 429.6L155.65 429.75L156.48 429.89L157.31 430.03L158.15 430.17L158.98 430.3L159.81 430.43L160.64 430.55L161.47 430.67L162.31 430.79L163.14 430.9L163.97 431.01L164.8 431.12L165.63 431.22L166.46 431.33L167.3 431.42L168.13 431.52L168.96 431.61L169.79 431.7L170.62 431.79L171.45 431.87L172.29 431.96L173.12 432.04L173.95 432.11L174.78 432.19L175.61 432.26L176.44 432.33L177.28 432.4L178.11 432.47L178.94 432.54L179.77 432.6L180.6 432.66L181.44 432.72L182.27 432.78L183.1 432.83L183.93 432.89L184.76 432.94L185.59 432.99L186.43 433.04L187.26 433.09L188.09 433.14L188.92 433.18L189.75 433.23L190.58 433.27L191.42 433.31L192.25 433.35L193.08 433.39L193.91 433.43L194.74 433.47L195.58 433.51L196.41 433.54L197.24 433.57L198.07 433.61L198.9 433.64L199.73 433.67L200.57 433.7L201.4 433.73L202.23 433.76L203.06 433.79L203.89 433.81L204.72 433.84L205.56 433.87L206.39 433.89L207.22 433.91L208.05 433.94L208.88 433.96L209.72 433.98L210.55 434L211.38 434.02L212.21 434.04L213.04 434.06L213.87 434.08L214.71 434.1L215.54 434.12L216.37 434.14L217.2 434.15L218.03 434.17L218.86 434.18L219.7 434.2L220.53 434.21L221.36 434.23L222.19 434.24L223.02 434.26L223.85 434.27L224.69 434.28L225.52 434.3L226.35 434.31L227.18 434.32L228.01 434.33L228.85 434.34L229.68 434.35L230.51 434.36L231.34 434.37L232.17 434.38L233 434.39L233.84 434.4L234.67 434.41L235.5 434.42L236.33 434.43L237.16 434.44L237.99 434.45L238.83 434.45L239.66 434.46L240.49 434.47L241.32 434.48L242.15 434.48L242.99 434.49L243.82 434.5L244.65 434.5L245.48 434.51L246.31 434.51L247.14 434.52L247.98 434.53L248.81 434.53" stroke="#e9b7a8" stroke-width="0.9"/>
<path d="M59.2 277.77L59.4 279.65L59.6 281.51L59.8 283.35L60 285.16L60.2 286.96L60.4 288.73L60.6 290.48L60.8 292.21L61 293.91L61.2 295.6L61.4 297.27L61.61 298.92L61.81 300.55L62.01 302.15L62.21 303.74L62.41 305.31L62.61 306.86L62.81 308.4L63.01 309.91L63.21 311.41L63.41 312.89L63.61 314.35L63.81 315.79L64.01 317.22L64.21 318.62L64.41 320.02L64.61 321.39L64.81 322.75L65.01 324.09L65.21 325.42L65.41 326.73L65.61 328.02L65.81 329.3L66.01 330.57L66.21 331.82L66.42 333.05L66.62 334.27L66.82 335.47L67.02 336.66L67.22 337.84L67.42 339L67.62 340.15L67.82 341.28L68.02 342.4L68.22 343.51L68.42 344.6L68.62 345.69L68.82 346.75L69.02 347.81L69.22 348.85L69.42 349.88L69.62 350.9L69.82 351.9L70.02 352.9L70.22 353.88L70.42 354.85L70.62 355.81L70.82 356.75L71.02 357.69L71.23 358.61L71.43 359.52L71.63 360.43L71.83 361.32L72.03 362.2L72.23 363.07L72.43 363.93L72.63 364.78L72.83 365.62L73.03 366.44L73.23 367.26L73.43 368.07L73.63 368.87L73.83 369.66L74.03 370.44L74.23 371.21L74.43 371.98L74.63 372.73L74.83 373.47L75.03 374.21L75.23 374.93L75.43 375.65L75.63 376.36L75.83 377.06L76.04 377.75L76.24 378.44L76.44 379.11L76.64 379.78L76.84 380.44L77.04 381.09L77.24 381.73L77.44 382.37L77.64 383L77.84 383.62L78.04 384.23L78.24 384.84L78.44 385.44L78.64 386.03L78.84 386.61L79.04 387.19L79.24 387.76L79.44 388.33L79.64 388.88L79.84 389.43L80.04 389.98L80.24 390.51L80.44 391.04L80.64 391.57L80.85 392.09L81.05 392.6L81.25 393.1L81.45 393.6L81.65 394.1L81.85 394.59L82.05 395.07L82.25 395.54L82.45 396.02L82.65 396.48L82.85 396.94L83.05 397.39L83.29 397.93L84.12 399.73L84.95 401.44L85.78 403.07L86.62 404.62L87.45 406.09L88.28 407.49L89.11 408.83L89.94 410.09L90.77 411.3L91.61 412.45L92.44 413.54L93.27 414.58L94.1 415.57L94.93 416.51L95.76 417.4L96.6 418.25L97.43 419.06L98.26 419.83L99.09 420.56L99.92 421.26L100.76 421.92L101.59 422.55L102.42 423.15L103.25 423.72L104.08 424.26L104.91 424.78L105.75 425.27L106.58 425.73L107.41 426.18L108.24 426.6L109.07 427L109.9 427.38L110.74 427.75L111.57 428.09L112.4 428.42L113.23 428.73L114.06 429.03L114.9 429.31L115.73 429.58L116.56 429.84L117.39 430.08L118.22 430.31L119.05 430.53L119.89 430.74L120.72 430.94L121.55 431.13L122.38 431.31L123.21 431.49L124.04 431.65L124.88 431.8L125.71 431.95L126.54 432.09L127.37 432.23L128.2 432.35L129.03 432.47L129.87 432.59L130.7 432.7L131.53 432.8L132.36 432.9L133.19 433L134.03 433.08L134.86 433.17L135.69 433.25L136.52 433.33L137.35 433.4L138.18 433.47L139.02 433.54L139.85 433.6L140.68 433.66L141.51 433.72L142.34 433.77L143.17 433.82L144.01 433.87L144.84 433.92L145.67 433.96L146.5 434.01L147.33 434.05L148.17 434.09L149 434.12L149.83 434.16L150.66 434.19L151.49 434.22L152.32 434.25L153.16 434.28L153.99 434.31L154.82 434.33L155.65 434.36L156.48 434.38L157.31 434.4L158.15 434.42L158.98 434.44L159.81 434.46L160.64 434.48L161.47 434.5L162.31 434.51L163.14 434.53L163.97 434.54L164.8 434.56L165.63 434.57L166.46 434.58L167.3 434.6L168.13 434.61L168.96 434.62L169.79 434.63L170.62 434.64L171.45 434.65L172.29 434.66L173.12 434.67L173.95 434.67L174.78 434.68L175.61 434.69L176.44 434.7L177.28 434.7L178.11 434.71L178.94 434.71L179.77 434.72L180.6 434.73L181.44 434.73L182.27 434.74L183.1 434.74L183.93 434.75L184.76 434.75L185.59 434.75L186.43 434.76L187.26 434.76L188.09 434.76L188.92 434.77L189.75 434.77L190.58 434.77L191.42 434.78L192.25 434.78L193.08 434.78L193.91 434.78L194.74 434.79L195.58 434.79L196.41 434.79L197.24 434.79L198.07 434.79L198.9 434.8L199.73 434.8L200.57 434.8L201.4 434.8L202.23 434.8L203.06 434.8L203.89 434.81L204.72 434.81L205.56 434.81L206.39 434.81L207.22 434.81L208.05 434.81L208.88 434.81L209.72 434.81L210.55 434.81L211.38 434.82L212.21 434.82L213.04 434.82L213.87 434.82L214.71 434.82L215.54 434.82L216.37 434.82L217.2 434.82L218.03 434.82L218.86 434.82L219.7 434.82L220.53 434.82L221.36 434.82L222.19 434.82L223.02 434.82L223.85 434.82L224.69 434.82L225.52 434.82L226.35 434.83L227.18 434.83L228.01 434.83L228.85 434.83L229.68 434.83L230.51 434.83L231.34 434.83L232.17 434.83L233 434.83L233.84 434.83L234.67 434.83L235.5 434.83L236.33 434.83L237.16 434.83L237.99 434.83L238.83 434.83L239.66 434.83L240.49 434.83L241.32 434.83L242.15 434.83L242.99 434.83L243.82 434.83L244.65 434.83L245.48 434.83L246.31 434.83L247.14 434.83L247.98 434.83L248.81 434.83" stroke="#cc7464" stroke-width="2.0" opacity="0.85"/>
<path d="M59.2 278.07L59.4 279.95L59.6 281.81L59.8 283.65L60 285.46L60.2 287.26L60.4 289.03L60.6 290.78L60.8 292.51L61 294.21L61.2 295.9L61.4 297.57L61.61 299.22L61.81 300.85L62.01 302.45L62.21 304.04L62.41 305.61L62.61 307.16L62.81 308.7L63.01 310.21L63.21 311.71L63.41 313.19L63.61 314.65L63.81 316.09L64.01 317.52L64.21 318.92L64.41 320.32L64.61 321.69L64.81 323.05L65.01 324.39L65.21 325.72L65.41 327.03L65.61 328.32L65.81 329.6L66.01 330.87L66.21 332.12L66.42 333.35L66.62 334.57L66.82 335.77L67.02 336.96L67.22 338.14L67.42 339.3L67.62 340.45L67.82 341.58L68.02 342.7L68.22 343.81L68.42 344.9L68.62 345.99L68.82 347.05L69.02 348.11L69.22 349.15L69.42 350.18L69.62 351.2L69.82 352.2L70.02 353.2L70.22 354.18L70.42 355.15L70.62 356.11L70.82 357.05L71.02 357.99L71.23 358.91L71.43 359.82L71.63 360.73L71.83 361.62L72.03 362.5L72.23 363.37L72.43 364.23L72.63 365.08L72.83 365.92L73.03 366.74L73.23 367.56L73.43 368.37L73.63 369.17L73.83 369.96L74.03 370.74L74.23 371.51L74.43 372.28L74.63 373.03L74.83 373.77L75.03 374.51L75.23 375.23L75.43 375.95L75.63 376.66L75.83 377.36L76.04 378.05L76.24 378.74L76.44 379.41L76.64 380.08L76.84 380.74L77.04 381.39L77.24 382.03L77.44 382.67L77.64 383.3L77.84 383.92L78.04 384.53L78.24 385.14L78.44 385.74L78.64 386.33L78.84 386.91L79.04 387.49L79.24 388.06L79.44 388.63L79.64 389.18L79.84 389.73L80.04 390.28L80.24 390.81L80.44 391.34L80.64 391.87L80.85 392.39L81.05 392.9L81.25 393.4L81.45 393.9L81.65 394.4L81.85 394.89L82.05 395.37L82.25 395.84L82.45 396.32L82.65 396.78L82.85 397.24L83.05 397.69L83.29 398.23L84.12 400.03L84.95 401.74L85.78 403.37L86.62 404.92L87.45 406.39L88.28 407.79L89.11 409.13L89.94 410.39L90.77 411.6L91.61 412.75L92.44 413.84L93.27 414.88L94.1 415.87L94.93 416.81L95.76 417.7L96.6 418.55L97.43 419.36L98.26 420.13L99.09 420.86L99.92 421.56L100.76 422.22L101.59 422.85L102.42 423.45L103.25 424.02L104.08 424.56L104.91 425.08L105.75 425.57L106.58 426.03L107.41 426.48L108.24 426.9L109.07 427.3L109.9 427.68L110.74 428.05L111.57 428.39L112.4 428.72L113.23 429.03L114.06 429.33L114.9 429.61L115.73 429.88L116.56 430.14L117.39 430.38L118.22 430.61L119.05 430.83L119.89 431.04L120.72 431.24L121.55 431.43L122.38 431.61L123.21 431.79L124.04 431.95L124.88 432.1L125.71 432.25L126.54 432.39L127.37 432.53L128.2 432.65L129.03 432.77L129.87 432.89L130.7 433L131.53 433.1L132.36 433.2L133.19 433.3L134.03 433.38L134.86 433.47L135.69 433.55L136.52 433.63L137.35 433.7L138.18 433.77L139.02 433.84L139.85 433.9L140.68 433.96L141.51 434.02L142.34 434.07L143.17 434.12L144.01 434.17L144.84 434.22L145.67 434.26L146.5 434.31L147.33 434.35L148.17 434.39L149 434.42L149.83 434.46L150.66 434.49L151.49 434.52L152.32 434.55L153.16 434.58L153.99 434.61L154.82 434.63L155.65 434.66L156.48 434.68L157.31 434.7L158.15 434.72L158.98 434.74L159.81 434.76L160.64 434.78L161.47 434.8L162.31 434.81L163.14 434.83L163.97 434.84L164.8 434.86L165.63 434.87L166.46 434.88L167.3 434.9L168.13 434.91L168.96 434.92L169.79 434.93L170.62 434.94L171.45 434.95L172.29 434.96L173.12 434.97L173.95 434.97L174.78 434.98L175.61 434.99L176.44 435L177.28 435L178.11 435.01L178.94 435.01L179.77 435.02L180.6 435.03L181.44 435.03L182.27 435.04L183.1 435.04L183.93 435.05L184.76 435.05L185.59 435.05L186.43 435.06L187.26 435.06L188.09 435.06L188.92 435.07L189.75 435.07L190.58 435.07L191.42 435.08L192.25 435.08L193.08 435.08L193.91 435.08L194.74 435.09L195.58 435.09L196.41 435.09L197.24 435.09L198.07 435.09L198.9 435.1L199.73 435.1L200.57 435.1L201.4 435.1L202.23 435.1L203.06 435.1L203.89 435.11L204.72 435.11L205.56 435.11L206.39 435.11L207.22 435.11L208.05 435.11L208.88 435.11L209.72 435.11L210.55 435.11L211.38 435.12L212.21 435.12L213.04 435.12L213.87 435.12L214.71 435.12L215.54 435.12L216.37 435.12L217.2 435.12L218.03 435.12L218.86 435.12L219.7 435.12L220.53 435.12L221.36 435.12L222.19 435.12L223.02 435.12L223.85 435.12L224.69 435.12L225.52 435.12L226.35 435.13L227.18 435.13L228.01 435.13L228.85 435.13L229.68 435.13L230.51 435.13L231.34 435.13L232.17 435.13L233 435.13L233.84 435.13L234.67 435.13L235.5 435.13L236.33 435.13L237.16 435.13L237.99 435.13L238.83 435.13L239.66 435.13L240.49 435.13L241.32 435.13L242.15 435.13L242.99 435.13L243.82 435.13L244.65 435.13L245.48 435.13L246.31 435.13L247.14 435.13L247.98 435.13L248.81 435.13" stroke="#cc7464" stroke-width="0.9"/>
<path d="M59.2 280.34L59.4 282.45L59.6 284.52L59.8 286.57L60 288.59L60.2 290.58L60.4 292.54L60.6 294.48L60.8 296.39L61 298.28L61.2 300.13L61.4 301.97L61.61 303.77L61.81 305.56L62.01 307.31L62.21 309.05L62.41 310.76L62.61 312.45L62.81 314.11L63.01 315.75L63.21 317.37L63.41 318.97L63.61 320.54L63.81 322.09L64.01 323.62L64.21 325.13L64.41 326.62L64.61 328.09L64.81 329.54L65.01 330.97L65.21 332.38L65.41 333.77L65.61 335.14L65.81 336.49L66.01 337.83L66.21 339.14L66.42 340.44L66.62 341.72L66.82 342.98L67.02 344.22L67.22 345.45L67.42 346.66L67.62 347.86L67.82 349.03L68.02 350.2L68.22 351.34L68.42 352.47L68.62 353.59L68.82 354.68L69.02 355.77L69.22 356.84L69.42 357.89L69.62 358.93L69.82 359.96L70.02 360.97L70.22 361.97L70.42 362.95L70.62 363.92L70.82 364.88L71.02 365.82L71.23 366.75L71.43 367.67L71.63 368.58L71.83 369.47L72.03 370.35L72.23 371.22L72.43 372.08L72.63 372.92L72.83 373.76L73.03 374.58L73.23 375.39L73.43 376.19L73.63 376.98L73.83 377.76L74.03 378.52L74.23 379.28L74.43 380.03L74.63 380.76L74.83 381.49L75.03 382.21L75.23 382.91L75.43 383.61L75.63 384.3L75.83 384.97L76.04 385.64L76.24 386.3L76.44 386.95L76.64 387.59L76.84 388.23L77.04 388.85L77.24 389.47L77.44 390.07L77.64 390.67L77.84 391.26L78.04 391.84L78.24 392.42L78.44 392.98L78.64 393.54L78.84 394.09L79.04 394.64L79.24 395.17L79.44 395.7L79.64 396.22L79.84 396.74L80.04 397.24L80.24 397.74L80.44 398.24L80.64 398.72L80.85 399.2L81.05 399.68L81.25 400.14L81.45 400.61L81.65 401.06L81.85 401.51L82.05 401.95L82.25 402.39L82.45 402.81L82.65 403.24L82.85 403.66L83.05 404.07L83.29 404.55L84.12 406.18L84.95 407.71L85.78 409.16L86.62 410.53L87.45 411.82L88.28 413.05L89.11 414.2L89.94 415.29L90.77 416.32L91.61 417.29L92.44 418.21L93.27 419.07L94.1 419.89L94.93 420.67L95.76 421.4L96.6 422.09L97.43 422.74L98.26 423.36L99.09 423.94L99.92 424.49L100.76 425.01L101.59 425.5L102.42 425.96L103.25 426.4L104.08 426.82L104.91 427.21L105.75 427.58L106.58 427.93L107.41 428.26L108.24 428.57L109.07 428.86L109.9 429.14L110.74 429.41L111.57 429.66L112.4 429.89L113.23 430.12L114.06 430.33L114.9 430.53L115.73 430.72L116.56 430.89L117.39 431.06L118.22 431.22L119.05 431.38L119.89 431.52L120.72 431.65L121.55 431.78L122.38 431.9L123.21 432.02L124.04 432.13L124.88 432.23L125.71 432.33L126.54 432.42L127.37 432.51L128.2 432.59L129.03 432.67L129.87 432.75L130.7 432.82L131.53 432.89L132.36 432.95L133.19 433.01L134.03 433.07L134.86 433.12L135.69 433.18L136.52 433.23L137.35 433.27L138.18 433.32L139.02 433.36L139.85 433.4L140.68 433.44L141.51 433.48L142.34 433.51L143.17 433.55L144.01 433.58L144.84 433.61L145.67 433.64L146.5 433.67L147.33 433.69L148.17 433.72L149 433.74L149.83 433.77L150.66 433.79L151.49 433.81L152.32 433.83L153.16 433.85L153.99 433.87L154.82 433.89L155.65 433.91L156.48 433.92L157.31 433.94L158.15 433.96L158.98 433.97L159.81 433.99L160.64 434L161.47 434.01L162.31 434.03L163.14 434.04L163.97 434.05L164.8 434.07L165.63 434.08L166.46 434.09L167.3 434.1L168.13 434.11L168.96 434.12L169.79 434.13L170.62 434.14L171.45 434.15L172.29 434.16L173.12 434.17L173.95 434.18L174.78 434.19L175.61 434.2L176.44 434.21L177.28 434.22L178.11 434.23L178.94 434.23L179.77 434.24L180.6 434.25L181.44 434.26L182.27 434.27L183.1 434.27L183.93 434.28L184.76 434.29L185.59 434.3L186.43 434.3L187.26 434.31L188.09 434.32L188.92 434.33L189.75 434.33L190.58 434.34L191.42 434.35L192.25 434.35L193.08 434.36L193.91 434.37L194.74 434.37L195.58 434.38L196.41 434.39L197.24 434.39L198.07 434.4L198.9 434.41L199.73 434.41L200.57 434.42L201.4 434.43L202.23 434.43L203.06 434.44L203.89 434.45L204.72 434.45L205.56 434.46L206.39 434.47L207.22 434.47L208.05 434.48L208.88 434.48L209.72 434.49L210.55 434.5L211.38 434.5L212.21 434.51L213.04 434.52L213.87 434.52L214.71 434.53L215.54 434.53L216.37 434.54L217.2 434.55L218.03 434.55L218.86 434.56L219.7 434.57L220.53 434.57L221.36 434.58L222.19 434.58L223.02 434.59L223.85 434.6L224.69 434.6L225.52 434.61L226.35 434.61L227.18 434.62L228.01 434.63L228.85 434.63L229.68 434.64L230.51 434.64L231.34 434.65L232.17 434.66L233 434.66L233.84 434.67L234.67 434.67L235.5 434.68L236.33 434.69L237.16 434.69L237.99 434.7L238.83 434.7L239.66 434.71L240.49 434.72L241.32 434.72L242.15 434.73L242.99 434.73L243.82 434.74L244.65 434.74L245.48 434.75L246.31 434.76L247.14 434.76L247.98 434.77L248.81 434.77" stroke="#c0504a" stroke-width="2.0" opacity="0.85"/>
<path d="M59.2 280.64L59.4 282.75L59.6 284.82L59.8 286.87L60 288.89L60.2 290.88L60.4 292.84L60.6 294.78L60.8 296.69L61 298.58L61.2 300.43L61.4 302.27L61.61 304.07L61.81 305.86L62.01 307.61L62.21 309.35L62.41 311.06L62.61 312.75L62.81 314.41L63.01 316.05L63.21 317.67L63.41 319.27L63.61 320.84L63.81 322.39L64.01 323.92L64.21 325.43L64.41 326.92L64.61 328.39L64.81 329.84L65.01 331.27L65.21 332.68L65.41 334.07L65.61 335.44L65.81 336.79L66.01 338.13L66.21 339.44L66.42 340.74L66.62 342.02L66.82 343.28L67.02 344.52L67.22 345.75L67.42 346.96L67.62 348.16L67.82 349.33L68.02 350.5L68.22 351.64L68.42 352.77L68.62 353.89L68.82 354.98L69.02 356.07L69.22 357.14L69.42 358.19L69.62 359.23L69.82 360.26L70.02 361.27L70.22 362.27L70.42 363.25L70.62 364.22L70.82 365.18L71.02 366.12L71.23 367.05L71.43 367.97L71.63 368.88L71.83 369.77L72.03 370.65L72.23 371.52L72.43 372.38L72.63 373.22L72.83 374.06L73.03 374.88L73.23 375.69L73.43 376.49L73.63 377.28L73.83 378.06L74.03 378.82L74.23 379.58L74.43 380.33L74.63 381.06L74.83 381.79L75.03 382.51L75.23 383.21L75.43 383.91L75.63 384.6L75.83 385.27L76.04 385.94L76.24 386.6L76.44 387.25L76.64 387.89L76.84 388.53L77.04 389.15L77.24 389.77L77.44 390.37L77.64 390.97L77.84 391.56L78.04 392.14L78.24 392.72L78.44 393.28L78.64 393.84L78.84 394.39L79.04 394.94L79.24 395.47L79.44 396L79.64 396.52L79.84 397.04L80.04 397.54L80.24 398.04L80.44 398.54L80.64 399.02L80.85 399.5L81.05 399.98L81.25 400.44L81.45 400.91L81.65 401.36L81.85 401.81L82.05 402.25L82.25 402.69L82.45 403.11L82.65 403.54L82.85 403.96L83.05 404.37L83.29 404.85L84.12 406.48L84.95 408.01L85.78 409.46L86.62 410.83L87.45 412.12L88.28 413.35L89.11 414.5L89.94 415.59L90.77 416.62L91.61 417.59L92.44 418.51L93.27 419.37L94.1 420.19L94.93 420.97L95.76 421.7L96.6 422.39L97.43 423.04L98.26 423.66L99.09 424.24L99.92 424.79L100.76 425.31L101.59 425.8L102.42 426.26L103.25 426.7L104.08 427.12L104.91 427.51L105.75 427.88L106.58 428.23L107.41 428.56L108.24 428.87L109.07 429.16L109.9 429.44L110.74 429.71L111.57 429.96L112.4 430.19L113.23 430.42L114.06 430.63L114.9 430.83L115.73 431.02L116.56 431.19L117.39 431.36L118.22 431.52L119.05 431.68L119.89 431.82L120.72 431.95L121.55 432.08L122.38 432.2L123.21 432.32L124.04 432.43L124.88 432.53L125.71 432.63L126.54 432.72L127.37 432.81L128.2 432.89L129.03 432.97L129.87 433.05L130.7 433.12L131.53 433.19L132.36 433.25L133.19 433.31L134.03 433.37L134.86 433.42L135.69 433.48L136.52 433.53L137.35 433.57L138.18 433.62L139.02 433.66L139.85 433.7L140.68 433.74L141.51 433.78L142.34 433.81L143.17 433.85L144.01 433.88L144.84 433.91L145.67 433.94L146.5 433.97L147.33 433.99L148.17 434.02L149 434.04L149.83 434.07L150.66 434.09L151.49 434.11L152.32 434.13L153.16 434.15L153.99 434.17L154.82 434.19L155.65 434.21L156.48 434.22L157.31 434.24L158.15 434.26L158.98 434.27L159.81 434.29L160.64 434.3L161.47 434.31L162.31 434.33L163.14 434.34L163.97 434.35L164.8 434.37L165.63 434.38L166.46 434.39L167.3 434.4L168.13 434.41L168.96 434.42L169.79 434.43L170.62 434.44L171.45 434.45L172.29 434.46L173.12 434.47L173.95 434.48L174.78 434.49L175.61 434.5L176.44 434.51L177.28 434.52L178.11 434.53L178.94 434.53L179.77 434.54L180.6 434.55L181.44 434.56L182.27 434.57L183.1 434.57L183.93 434.58L184.76 434.59L185.59 434.6L186.43 434.6L187.26 434.61L188.09 434.62L188.92 434.63L189.75 434.63L190.58 434.64L191.42 434.65L192.25 434.65L193.08 434.66L193.91 434.67L194.74 434.67L195.58 434.68L196.41 434.69L197.24 434.69L198.07 434.7L198.9 434.71L199.73 434.71L200.57 434.72L201.4 434.73L202.23 434.73L203.06 434.74L203.89 434.75L204.72 434.75L205.56 434.76L206.39 434.77L207.22 434.77L208.05 434.78L208.88 434.78L209.72 434.79L210.55 434.8L211.38 434.8L212.21 434.81L213.04 434.82L213.87 434.82L214.71 434.83L215.54 434.83L216.37 434.84L217.2 434.85L218.03 434.85L218.86 434.86L219.7 434.87L220.53 434.87L221.36 434.88L222.19 434.88L223.02 434.89L223.85 434.9L224.69 434.9L225.52 434.91L226.35 434.91L227.18 434.92L228.01 434.93L228.85 434.93L229.68 434.94L230.51 434.94L231.34 434.95L232.17 434.96L233 434.96L233.84 434.97L234.67 434.97L235.5 434.98L236.33 434.99L237.16 434.99L237.99 435L238.83 435L239.66 435.01L240.49 435.02L241.32 435.02L242.15 435.03L242.99 435.03L243.82 435.04L244.65 435.04L245.48 435.05L246.31 435.06L247.14 435.06L247.98 435.07L248.81 435.07" stroke="#c0504a" stroke-width="0.9"/>
<path d="M59.2 283.81L59.4 286.34L59.6 288.82L59.8 291.26L60 293.67L60.2 296.03L60.4 298.35L60.6 300.63L60.8 302.87L61 305.08L61.2 307.24L61.4 309.38L61.61 311.47L61.81 313.53L62.01 315.55L62.21 317.54L62.41 319.5L62.61 321.42L62.81 323.31L63.01 325.17L63.21 327L63.41 328.79L63.61 330.56L63.81 332.29L64.01 334L64.21 335.68L64.41 337.33L64.61 338.95L64.81 340.54L65.01 342.11L65.21 343.65L65.41 345.16L65.61 346.65L65.81 348.11L66.01 349.55L66.21 350.96L66.42 352.35L66.62 353.72L66.82 355.06L67.02 356.38L67.22 357.68L67.42 358.95L67.62 360.21L67.82 361.44L68.02 362.65L68.22 363.84L68.42 365.02L68.62 366.17L68.82 367.3L69.02 368.41L69.22 369.51L69.42 370.58L69.62 371.64L69.82 372.68L70.02 373.7L70.22 374.7L70.42 375.69L70.62 376.66L70.82 377.62L71.02 378.56L71.23 379.48L71.43 380.38L71.63 381.28L71.83 382.15L72.03 383.01L72.23 383.86L72.43 384.69L72.63 385.51L72.83 386.32L73.03 387.11L73.23 387.88L73.43 388.65L73.63 389.4L73.83 390.14L74.03 390.87L74.23 391.58L74.43 392.28L74.63 392.97L74.83 393.65L75.03 394.32L75.23 394.97L75.43 395.62L75.63 396.25L75.83 396.88L76.04 397.49L76.24 398.09L76.44 398.68L76.64 399.26L76.84 399.84L77.04 400.4L77.24 400.95L77.44 401.5L77.64 402.03L77.84 402.56L78.04 403.07L78.24 403.58L78.44 404.08L78.64 404.57L78.84 405.05L79.04 405.53L79.24 405.99L79.44 406.45L79.64 406.9L79.84 407.35L80.04 407.78L80.24 408.21L80.44 408.63L80.64 409.05L80.85 409.46L81.05 409.86L81.25 410.25L81.45 410.64L81.65 411.02L81.85 411.39L82.05 411.76L82.25 412.12L82.45 412.48L82.65 412.83L82.85 413.17L83.05 413.51L83.29 413.9L84.12 415.22L84.95 416.44L85.78 417.59L86.62 418.65L87.45 419.65L88.28 420.57L89.11 421.44L89.94 422.24L90.77 422.99L91.61 423.7L92.44 424.35L93.27 424.96L94.1 425.53L94.93 426.06L95.76 426.55L96.6 427.02L97.43 427.45L98.26 427.85L99.09 428.23L99.92 428.58L100.76 428.91L101.59 429.21L102.42 429.5L103.25 429.77L104.08 430.02L104.91 430.25L105.75 430.47L106.58 430.67L107.41 430.86L108.24 431.04L109.07 431.21L109.9 431.37L110.74 431.51L111.57 431.65L112.4 431.78L113.23 431.9L114.06 432.02L114.9 432.12L115.73 432.22L116.56 432.32L117.39 432.41L118.22 432.49L119.05 432.57L119.89 432.64L120.72 432.71L121.55 432.78L122.38 432.84L123.21 432.9L124.04 432.95L124.88 433.01L125.71 433.06L126.54 433.1L127.37 433.15L128.2 433.19L129.03 433.23L129.87 433.27L130.7 433.3L131.53 433.34L132.36 433.37L133.19 433.4L134.03 433.43L134.86 433.46L135.69 433.49L136.52 433.51L137.35 433.54L138.18 433.56L139.02 433.59L139.85 433.61L140.68 433.63L141.51 433.65L142.34 433.67L143.17 433.69L144.01 433.71L144.84 433.73L145.67 433.74L146.5 433.76L147.33 433.78L148.17 433.79L149 433.81L149.83 433.82L150.66 433.84L151.49 433.85L152.32 433.87L153.16 433.88L153.99 433.89L154.82 433.91L155.65 433.92L156.48 433.93L157.31 433.95L158.15 433.96L158.98 433.97L159.81 433.98L160.64 433.99L161.47 434.01L162.31 434.02L163.14 434.03L163.97 434.04L164.8 434.05L165.63 434.06L166.46 434.07L167.3 434.08L168.13 434.09L168.96 434.1L169.79 434.11L170.62 434.12L171.45 434.13L172.29 434.14L173.12 434.15L173.95 434.16L174.78 434.17L175.61 434.18L176.44 434.19L177.28 434.2L178.11 434.21L178.94 434.21L179.77 434.22L180.6 434.23L181.44 434.24L182.27 434.25L183.1 434.26L183.93 434.27L184.76 434.28L185.59 434.28L186.43 434.29L187.26 434.3L188.09 434.31L188.92 434.32L189.75 434.33L190.58 434.33L191.42 434.34L192.25 434.35L193.08 434.36L193.91 434.37L194.74 434.37L195.58 434.38L196.41 434.39L197.24 434.4L198.07 434.4L198.9 434.41L199.73 434.42L200.57 434.43L201.4 434.43L202.23 434.44L203.06 434.45L203.89 434.46L204.72 434.46L205.56 434.47L206.39 434.48L207.22 434.48L208.05 434.49L208.88 434.5L209.72 434.51L210.55 434.51L211.38 434.52L212.21 434.53L213.04 434.53L213.87 434.54L214.71 434.55L215.54 434.55L216.37 434.56L217.2 434.57L218.03 434.57L218.86 434.58L219.7 434.59L220.53 434.59L221.36 434.6L222.19 434.61L223.02 434.61L223.85 434.62L224.69 434.62L225.52 434.63L226.35 434.64L227.18 434.64L228.01 434.65L228.85 434.66L229.68 434.66L230.51 434.67L231.34 434.67L232.17 434.68L233 434.69L233.84 434.69L234.67 434.7L235.5 434.7L236.33 434.71L237.16 434.71L237.99 434.72L238.83 434.73L239.66 434.73L240.49 434.74L241.32 434.74L242.15 434.75L242.99 434.75L243.82 434.76L244.65 434.76L245.48 434.77L246.31 434.78L247.14 434.78L247.98 434.79L248.81 434.79" stroke="#b0002c" stroke-width="2.5" opacity="0.85"/>
<path d="M59.2 284.11L59.4 286.64L59.6 289.12L59.8 291.56L60 293.97L60.2 296.33L60.4 298.65L60.6 300.93L60.8 303.17L61 305.38L61.2 307.54L61.4 309.68L61.61 311.77L61.81 313.83L62.01 315.85L62.21 317.84L62.41 319.8L62.61 321.72L62.81 323.61L63.01 325.47L63.21 327.3L63.41 329.09L63.61 330.86L63.81 332.59L64.01 334.3L64.21 335.98L64.41 337.63L64.61 339.25L64.81 340.84L65.01 342.41L65.21 343.95L65.41 345.46L65.61 346.95L65.81 348.41L66.01 349.85L66.21 351.26L66.42 352.65L66.62 354.02L66.82 355.36L67.02 356.68L67.22 357.98L67.42 359.25L67.62 360.51L67.82 361.74L68.02 362.95L68.22 364.14L68.42 365.32L68.62 366.47L68.82 367.6L69.02 368.71L69.22 369.81L69.42 370.88L69.62 371.94L69.82 372.98L70.02 374L70.22 375L70.42 375.99L70.62 376.96L70.82 377.92L71.02 378.86L71.23 379.78L71.43 380.68L71.63 381.58L71.83 382.45L72.03 383.31L72.23 384.16L72.43 384.99L72.63 385.81L72.83 386.62L73.03 387.41L73.23 388.18L73.43 388.95L73.63 389.7L73.83 390.44L74.03 391.17L74.23 391.88L74.43 392.58L74.63 393.27L74.83 393.95L75.03 394.62L75.23 395.27L75.43 395.92L75.63 396.55L75.83 397.18L76.04 397.79L76.24 398.39L76.44 398.98L76.64 399.56L76.84 400.14L77.04 400.7L77.24 401.25L77.44 401.8L77.64 402.33L77.84 402.86L78.04 403.37L78.24 403.88L78.44 404.38L78.64 404.87L78.84 405.35L79.04 405.83L79.24 406.29L79.44 406.75L79.64 407.2L79.84 407.65L80.04 408.08L80.24 408.51L80.44 408.93L80.64 409.35L80.85 409.76L81.05 410.16L81.25 410.55L81.45 410.94L81.65 411.32L81.85 411.69L82.05 412.06L82.25 412.42L82.45 412.78L82.65 413.13L82.85 413.47L83.05 413.81L83.29 414.2L84.12 415.52L84.95 416.74L85.78 417.89L86.62 418.95L87.45 419.95L88.28 420.87L89.11 421.74L89.94 422.54L90.77 423.29L91.61 424L92.44 424.65L93.27 425.26L94.1 425.83L94.93 426.36L95.76 426.85L96.6 427.32L97.43 427.75L98.26 428.15L99.09 428.53L99.92 428.88L100.76 429.21L101.59 429.51L102.42 429.8L103.25 430.07L104.08 430.32L104.91 430.55L105.75 430.77L106.58 430.97L107.41 431.16L108.24 431.34L109.07 431.51L109.9 431.67L110.74 431.81L111.57 431.95L112.4 432.08L113.23 432.2L114.06 432.32L114.9 432.42L115.73 432.52L116.56 432.62L117.39 432.71L118.22 432.79L119.05 432.87L119.89 432.94L120.72 433.01L121.55 433.08L122.38 433.14L123.21 433.2L124.04 433.25L124.88 433.31L125.71 433.36L126.54 433.4L127.37 433.45L128.2 433.49L129.03 433.53L129.87 433.57L130.7 433.6L131.53 433.64L132.36 433.67L133.19 433.7L134.03 433.73L134.86 433.76L135.69 433.79L136.52 433.81L137.35 433.84L138.18 433.86L139.02 433.89L139.85 433.91L140.68 433.93L141.51 433.95L142.34 433.97L143.17 433.99L144.01 434.01L144.84 434.03L145.67 434.04L146.5 434.06L147.33 434.08L148.17 434.09L149 434.11L149.83 434.12L150.66 434.14L151.49 434.15L152.32 434.17L153.16 434.18L153.99 434.19L154.82 434.21L155.65 434.22L156.48 434.23L157.31 434.25L158.15 434.26L158.98 434.27L159.81 434.28L160.64 434.29L161.47 434.31L162.31 434.32L163.14 434.33L163.97 434.34L164.8 434.35L165.63 434.36L166.46 434.37L167.3 434.38L168.13 434.39L168.96 434.4L169.79 434.41L170.62 434.42L171.45 434.43L172.29 434.44L173.12 434.45L173.95 434.46L174.78 434.47L175.61 434.48L176.44 434.49L177.28 434.5L178.11 434.51L178.94 434.51L179.77 434.52L180.6 434.53L181.44 434.54L182.27 434.55L183.1 434.56L183.93 434.57L184.76 434.58L185.59 434.58L186.43 434.59L187.26 434.6L188.09 434.61L188.92 434.62L189.75 434.63L190.58 434.63L191.42 434.64L192.25 434.65L193.08 434.66L193.91 434.67L194.74 434.67L195.58 434.68L196.41 434.69L197.24 434.7L198.07 434.7L198.9 434.71L199.73 434.72L200.57 434.73L201.4 434.73L202.23 434.74L203.06 434.75L203.89 434.76L204.72 434.76L205.56 434.77L206.39 434.78L207.22 434.78L208.05 434.79L208.88 434.8L209.72 434.81L210.55 434.81L211.38 434.82L212.21 434.83L213.04 434.83L213.87 434.84L214.71 434.85L215.54 434.85L216.37 434.86L217.2 434.87L218.03 434.87L218.86 434.88L219.7 434.89L220.53 434.89L221.36 434.9L222.19 434.91L223.02 434.91L223.85 434.92L224.69 434.92L225.52 434.93L226.35 434.94L227.18 434.94L228.01 434.95L228.85 434.96L229.68 434.96L230.51 434.97L231.34 434.97L232.17 434.98L233 434.99L233.84 434.99L234.67 435L235.5 435L236.33 435.01L237.16 435.01L237.99 435.02L238.83 435.03L239.66 435.03L240.49 435.04L241.32 435.04L242.15 435.05L242.99 435.05L243.82 435.06L244.65 435.06L245.48 435.07L246.31 435.08L247.14 435.08L247.98 435.09L248.81 435.09" stroke="#b0002c" stroke-width="0.9"/>
</g>
<g stroke="#1a1a1a" fill="none">
<path d="M58.7 267.7V438.20000000000005" stroke-width="1.7"/>
<path d="M57.900000000000006 437.6H250.2" stroke-width="1.3"/>
<path d="M57.900000000000006 268.3H250.2" stroke-width="1.3"/>
<path d="M249.6 267.7V438.20000000000005" stroke-width="1.2"/>
<path d="M55.3 435.6H58.7" stroke-width="1.2"/>
<path d="M55.3 403.62H58.7" stroke-width="1.2"/>
<path d="M55.3 371.64H58.7" stroke-width="1.2"/>
<path d="M55.3 339.66H58.7" stroke-width="1.2"/>
<path d="M55.3 307.68H58.7" stroke-width="1.2"/>
<path d="M55.3 275.7H58.7" stroke-width="1.2"/>
<path d="M59.2 437.6V441" stroke-width="1.2"/>
<path d="M106.9 437.6V441" stroke-width="1.2"/>
<path d="M154.6 437.6V441" stroke-width="1.2"/>
<path d="M202.3 437.6V441" stroke-width="1.2"/>
<path d="M250 437.6V441" stroke-width="1.2"/>
</g>
<text x="52.2" y="438.6" font-size="8.4" text-anchor="end" fill="#111" stroke="#111" stroke-width="0.2" font-weight="normal" font-style="normal" >0.0</text>
<text x="52.2" y="406.62" font-size="8.4" text-anchor="end" fill="#111" stroke="#111" stroke-width="0.2" font-weight="normal" font-style="normal" >0.2</text>
<text x="52.2" y="374.64" font-size="8.4" text-anchor="end" fill="#111" stroke="#111" stroke-width="0.2" font-weight="normal" font-style="normal" >0.4</text>
<text x="52.2" y="342.66" font-size="8.4" text-anchor="end" fill="#111" stroke="#111" stroke-width="0.2" font-weight="normal" font-style="normal" >0.6</text>
<text x="52.2" y="310.68" font-size="8.4" text-anchor="end" fill="#111" stroke="#111" stroke-width="0.2" font-weight="normal" font-style="normal" >0.8</text>
<text x="52.2" y="278.7" font-size="8.4" text-anchor="end" fill="#111" stroke="#111" stroke-width="0.2" font-weight="normal" font-style="normal" >1.0</text>
<text x="59.2" y="451.7" font-size="8.4" text-anchor="middle" fill="#111" stroke="#111" stroke-width="0.2" font-weight="normal" font-style="normal" >0</text>
<text x="106.9" y="451.7" font-size="8.4" text-anchor="middle" fill="#111" stroke="#111" stroke-width="0.2" font-weight="normal" font-style="normal" >10</text>
<text x="154.6" y="451.7" font-size="8.4" text-anchor="middle" fill="#111" stroke="#111" stroke-width="0.2" font-weight="normal" font-style="normal" >20</text>
<text x="202.3" y="451.7" font-size="8.4" text-anchor="middle" fill="#111" stroke="#111" stroke-width="0.2" font-weight="normal" font-style="normal" >30</text>
<text x="250" y="451.7" font-size="8.4" text-anchor="middle" fill="#111" stroke="#111" stroke-width="0.2" font-weight="normal" font-style="normal" >40</text>
<text x="154.05" y="465.9" font-size="10.4" text-anchor="middle" fill="#111" stroke="#111" stroke-width="0.4" textLength="26.6" lengthAdjust="spacingAndGlyphs">Time (s)</text>
<g transform="translate(34.9 352.65) rotate(-90)">
<text x="0" y="0" font-size="11.4" text-anchor="middle" fill="#111" stroke="#111" stroke-width="0.4" textLength="101.3" lengthAdjust="spacingAndGlyphs">Normalized fluorescence change</text>
</g>
<text x="156.5" y="360.2" font-size="8.6" text-anchor="middle" fill="#111" stroke="#111" stroke-width="0.2" font-weight="normal" font-style="italic" >PolyHb</text>
<text x="197.4" y="360.2" font-size="8.6" text-anchor="middle" fill="#111" stroke="#111" stroke-width="0.2" font-weight="normal" font-style="italic" >Hb</text>
<path d="M137.5 365.5H172M178.7 365.5H213" stroke="#222" stroke-width="1"/>
<text x="137.6" y="376.3" font-size="8.3" text-anchor="start" fill="#111" stroke="#111" stroke-width="0.2" font-weight="normal" font-style="normal" >Data</text>
<text x="159.8" y="376.3" font-size="8.3" text-anchor="start" fill="#111" stroke="#111" stroke-width="0.2" font-weight="normal" font-style="normal" >Fit</text>
<text x="182.2" y="376.3" font-size="8.3" text-anchor="start" fill="#111" stroke="#111" stroke-width="0.2" font-weight="normal" font-style="normal" >Data</text>
<text x="204.2" y="376.3" font-size="8.3" text-anchor="start" fill="#111" stroke="#111" stroke-width="0.2" font-weight="normal" font-style="normal" >Fit</text>
<rect x="145.9" y="385.55" width="1.3" height="1.3" fill="#4d67a1"/>
<rect x="188.3" y="385.55" width="1.3" height="1.3" fill="#c23652"/>
<path d="M156.6 386.2H171.8" stroke="#4d67a1" stroke-width="1.2"/>
<path d="M198.9 386.2H214.2" stroke="#c23652" stroke-width="1.2"/>
<text x="217.6" y="389.2" font-size="8.5" text-anchor="start" fill="#111" stroke="#111" stroke-width="0.2" font-weight="normal" font-style="normal" >2.50 µM</text>
<rect x="145.9" y="397.55" width="1.3" height="1.3" fill="#5a6ea8"/>
<rect x="188.3" y="397.55" width="1.3" height="1.3" fill="#c8544e"/>
<path d="M156.6 398.2H171.8" stroke="#5a6ea8" stroke-width="1.2" stroke-dasharray="1.1 1.65"/>
<path d="M198.9 398.2H214.2" stroke="#c8544e" stroke-width="1.2" stroke-dasharray="1.1 1.65"/>
<text x="217.6" y="401.2" font-size="8.5" text-anchor="start" fill="#111" stroke="#111" stroke-width="0.2" font-weight="normal" font-style="normal" >1.88 µM</text>
<rect x="145.9" y="409.55" width="1.3" height="1.3" fill="#7884b8"/>
<rect x="188.3" y="409.55" width="1.3" height="1.3" fill="#d98774"/>
<path d="M156.6 410.2H171.8" stroke="#7884b8" stroke-width="1.2" stroke-dasharray="2.6 2.6"/>
<path d="M198.9 410.2H214.2" stroke="#d98774" stroke-width="1.2" stroke-dasharray="2.6 2.6"/>
<text x="217.6" y="413.2" font-size="8.5" text-anchor="start" fill="#111" stroke="#111" stroke-width="0.2" font-weight="normal" font-style="normal" >1.25 µM</text>
<rect x="145.9" y="421.55" width="1.3" height="1.3" fill="#aab0d6"/>
<rect x="188.3" y="421.55" width="1.3" height="1.3" fill="#eab7a4"/>
<path d="M156.6 422.2H171.8" stroke="#aab0d6" stroke-width="1.2" stroke-dasharray="5.1 5.1"/>
<path d="M198.9 422.2H214.2" stroke="#eab7a4" stroke-width="1.2" stroke-dasharray="5.1 5.1"/>
<text x="217.6" y="425.2" font-size="8.5" text-anchor="start" fill="#111" stroke="#111" stroke-width="0.2" font-weight="normal" font-style="normal" >0.63 µM</text>
<text x="7.2" y="259" font-size="12.9" text-anchor="start" fill="#000" stroke="#000" stroke-width="0.3" font-weight="bold" font-style="normal" >C</text>
<path d="M315.2 432.9L504.3 274.6" stroke="#c0183c" stroke-width="1.3" fill="none"/>
<path d="M317.2 432.7L504.3 397.4" stroke="#3a5a98" stroke-width="1.3" fill="none" stroke-dasharray="6 4"/>
<path d="M362.45 416.19V425.54M359.75 416.19H365.15M359.75 425.54H365.15" stroke="#222" stroke-width="1" fill="none"/>
<path d="M409.7 406V426.38M407 406H412.4M407 426.38H412.4" stroke="#222" stroke-width="1" fill="none"/>
<path d="M456.95 404.73V415.77M454.25 404.73H459.65M454.25 415.77H459.65" stroke="#222" stroke-width="1" fill="none"/>
<path d="M504.2 382.64V404.73M501.5 382.64H506.9M501.5 404.73H506.9" stroke="#222" stroke-width="1" fill="none"/>
<path d="M362.45 386.89V392.83M359.75 386.89H365.15M359.75 392.83H365.15" stroke="#222" stroke-width="1" fill="none"/>
<path d="M409.7 351.21V359.71M407 351.21H412.4M407 359.71H412.4" stroke="#222" stroke-width="1" fill="none"/>
<path d="M456.95 301.95V314.69M454.25 301.95H459.65M454.25 314.69H459.65" stroke="#222" stroke-width="1" fill="none"/>
<path d="M504.2 266.7V282.84M501.5 266.7H506.9M501.5 282.84H506.9" stroke="#222" stroke-width="1" fill="none"/>
<circle cx="315.2" cy="434.03" r="2.6" fill="#a8001e"/>
<circle cx="362.45" cy="389.86" r="2.6" fill="#a8001e"/>
<circle cx="409.7" cy="355.46" r="2.6" fill="#a8001e"/>
<circle cx="456.95" cy="308.32" r="2.6" fill="#a8001e"/>
<circle cx="504.2" cy="274.77" r="2.6" fill="#a8001e"/>
<path d="M315.2 431.03L318 436.23L312.4 436.23Z" fill="#1f3f7f"/>
<path d="M362.45 417.86L365.25 423.06L359.65 423.06Z" fill="#1f3f7f"/>
<path d="M409.7 413.19L412.5 418.39L406.9 418.39Z" fill="#1f3f7f"/>
<path d="M456.95 407.25L459.75 412.45L454.15 412.45Z" fill="#1f3f7f"/>
<path d="M504.2 390.68L507 395.88L501.4 395.88Z" fill="#1f3f7f"/>
<path d="M312.5 432.6H317.9M312.5 435.6H317.9M315.2 432.6V435.6" stroke="#111" stroke-width="1.2" fill="none"/>
<g stroke="#1a1a1a" fill="none">
<path d="M311.6 262.15V438.3" stroke-width="1.7"/>
<path d="M310.8 437.7H509.3" stroke-width="1.3"/>
<path d="M310.8 262.75H509.3" stroke-width="1.3"/>
<path d="M508.7 262.15V438.3" stroke-width="1.2"/>
<path d="M308.2 397.93H311.6" stroke-width="1.2"/>
<path d="M308.2 355.46H311.6" stroke-width="1.2"/>
<path d="M308.2 312.99H311.6" stroke-width="1.2"/>
<path d="M308.2 270.52H311.6" stroke-width="1.2"/>
<path d="M315.2 437.7V440.9" stroke-width="1.2"/>
<path d="M353 437.7V440.9" stroke-width="1.2"/>
<path d="M390.8 437.7V440.9" stroke-width="1.2"/>
<path d="M428.6 437.7V440.9" stroke-width="1.2"/>
<path d="M466.4 437.7V440.9" stroke-width="1.2"/>
<path d="M504.2 437.7V440.9" stroke-width="1.2"/>
</g>
<text x="305.2" y="400.93" font-size="8.5" text-anchor="end" fill="#111" stroke="#111" stroke-width="0.2" font-weight="normal" font-style="normal" >0.1</text>
<text x="305.2" y="358.46" font-size="8.5" text-anchor="end" fill="#111" stroke="#111" stroke-width="0.2" font-weight="normal" font-style="normal" >0.2</text>
<text x="305.2" y="315.99" font-size="8.5" text-anchor="end" fill="#111" stroke="#111" stroke-width="0.2" font-weight="normal" font-style="normal" >0.3</text>
<text x="305.2" y="273.52" font-size="8.5" text-anchor="end" fill="#111" stroke="#111" stroke-width="0.2" font-weight="normal" font-style="normal" >0.4</text>
<text x="315.2" y="452.1" font-size="8.4" text-anchor="middle" fill="#111" stroke="#111" stroke-width="0.2" font-weight="normal" font-style="normal" >0.0</text>
<text x="353" y="452.1" font-size="8.4" text-anchor="middle" fill="#111" stroke="#111" stroke-width="0.2" font-weight="normal" font-style="normal" >0.5</text>
<text x="390.8" y="452.1" font-size="8.4" text-anchor="middle" fill="#111" stroke="#111" stroke-width="0.2" font-weight="normal" font-style="normal" >1.0</text>
<text x="428.6" y="452.1" font-size="8.4" text-anchor="middle" fill="#111" stroke="#111" stroke-width="0.2" font-weight="normal" font-style="normal" >1.5</text>
<text x="466.4" y="452.1" font-size="8.4" text-anchor="middle" fill="#111" stroke="#111" stroke-width="0.2" font-weight="normal" font-style="normal" >2.0</text>
<text x="504.2" y="452.1" font-size="8.4" text-anchor="middle" fill="#111" stroke="#111" stroke-width="0.2" font-weight="normal" font-style="normal" >2.5</text>
<text x="410" y="465.9" font-size="9.9" text-anchor="middle" fill="#111" stroke="#111" stroke-width="0.4" textLength="96.6" lengthAdjust="spacingAndGlyphs">Hb/ PolyHb concentration (µM)</text>
<g transform="translate(288.2 349.6) rotate(-90)">
<text x="0" y="0" font-size="9.5" text-anchor="middle" fill="#111" stroke="#111" stroke-width="0.4" textLength="55.6" lengthAdjust="spacingAndGlyphs">k<tspan font-size="6.2" dy="2">Hp</tspan><tspan dy="-2"> apparent(s</tspan><tspan font-size="6.2" dy="-3.2">-1</tspan><tspan dy="3.2">)</tspan></text>
</g>
<g transform="translate(381.9 357.2) rotate(-40.4)">
<text x="0" y="0" font-size="8.9" fill="#c0183c" stroke="#c0183c" stroke-width="0.2" textLength="127.7" lengthAdjust="spacingAndGlyphs">k<tspan font-size="5.8" dy="1.8">Hp</tspan><tspan dy="-1.8"> = 0.150[Hb] + 0.001; R</tspan><tspan font-size="5.8" dy="-3">2</tspan><tspan dy="3"> = 0.96</tspan></text>
</g>
<g transform="translate(362.3 410.5) rotate(-11.3)">
<text x="0" y="0" font-size="8.9" fill="#3a5a98" stroke="#3a5a98" stroke-width="0.2" textLength="140.8" lengthAdjust="spacingAndGlyphs">k<tspan font-size="5.8" dy="1.8">Hp</tspan><tspan dy="-1.8"> = 0.0337[PolyHb] + 0.004 R</tspan><tspan font-size="5.8" dy="-3">2</tspan><tspan dy="3"> = 0.94</tspan></text>
</g>
<text x="325" y="274" font-size="8.6" text-anchor="start" fill="#111" stroke="#111" stroke-width="0.2" font-weight="normal" font-style="normal" textLength="28.4" lengthAdjust="spacingAndGlyphs" >Data Fit</text>
<circle cx="327.7" cy="283.6" r="2.3" fill="#a8001e"/>
<path d="M333.1 283.6H347.6" stroke="#c94060" stroke-width="1.3"/>
<text x="350.4" y="286.5" font-size="8.6" text-anchor="start" fill="#111" stroke="#111" stroke-width="0.2" font-weight="normal" font-style="normal" >Hb</text>
<path d="M327.7 293.3L330.6 298.9L324.8 298.9Z" fill="#1f3f7f"/>
<path d="M333.1 296.2H343.6" stroke="#3a5a98" stroke-width="1.3" stroke-dasharray="3.5 3.1"/>
<text x="350.4" y="299" font-size="8.6" text-anchor="start" fill="#111" stroke="#111" stroke-width="0.2" font-weight="normal" font-style="normal" textLength="26.4" lengthAdjust="spacingAndGlyphs" >PolyHb</text>
<text x="269.4" y="259.4" font-size="12.9" text-anchor="start" fill="#000" stroke="#000" stroke-width="0.3" font-weight="bold" font-style="normal" >D</text>
<rect x="0.6" y="0.6" width="518.8" height="474.6" fill="none" stroke="#000" stroke-width="1.3"/>
</svg></body></html>
